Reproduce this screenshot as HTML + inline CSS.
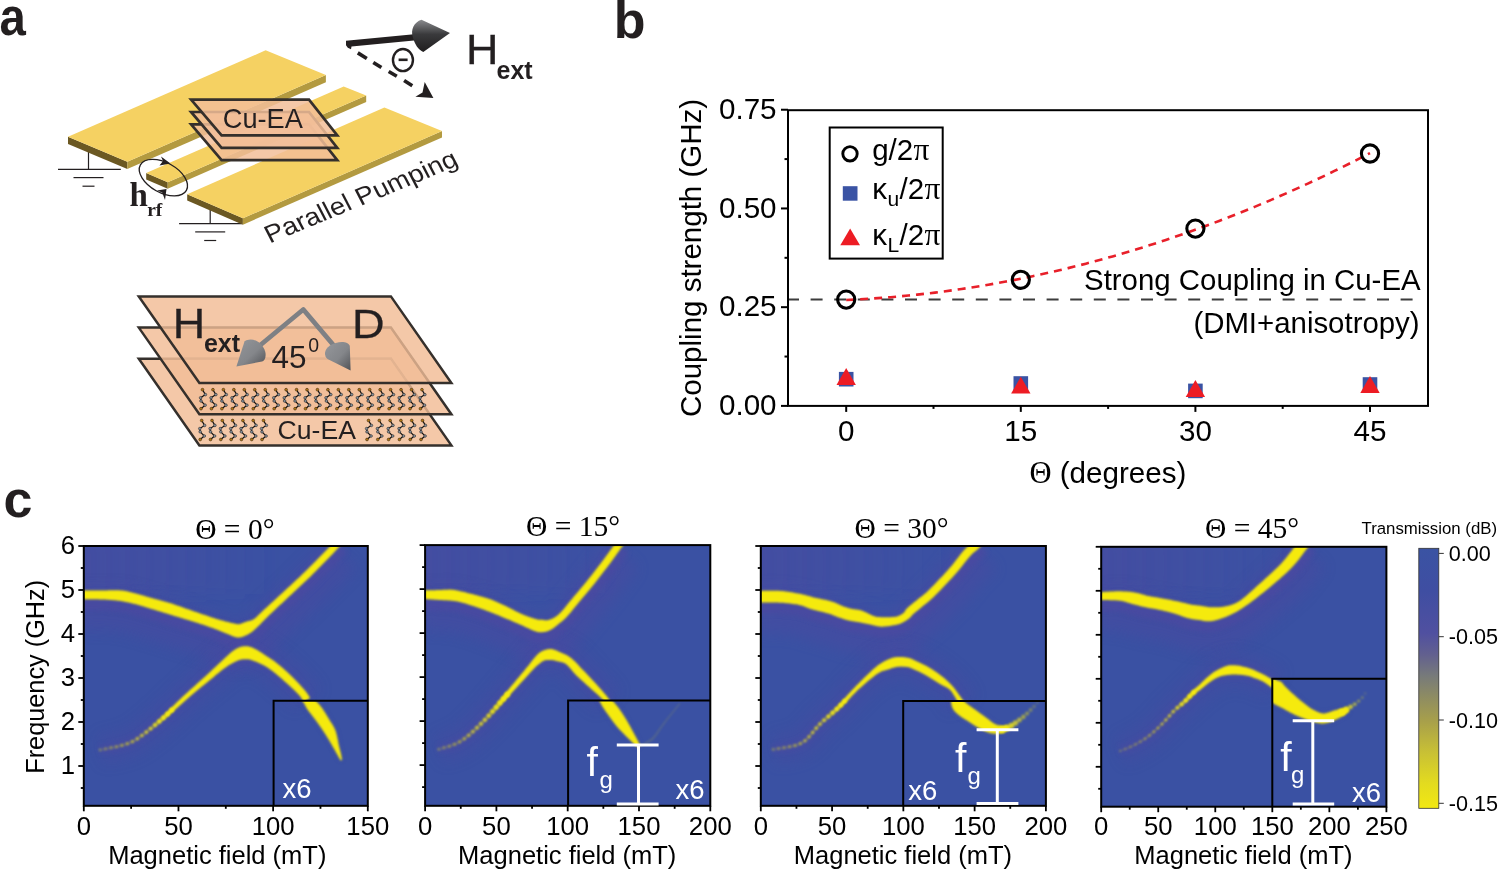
<!DOCTYPE html><html><head><meta charset="utf-8"><style>html,body{margin:0;padding:0;background:#fff;width:1499px;height:871px;overflow:hidden}svg{display:block;position:absolute;left:0;top:0;will-change:transform}text{font-family:"Liberation Sans",sans-serif}.s{font-family:"Liberation Serif",serif}</style></head><body>
<svg width="1499" height="871" viewBox="0 0 1499 871">
<defs><filter id="bl" x="-5%" y="-5%" width="110%" height="110%"><feGaussianBlur stdDeviation="0.8"/></filter><filter id="bl2" x="-10%" y="-10%" width="120%" height="120%"><feGaussianBlur stdDeviation="2.5"/></filter><filter id="bl3" x="-20%" y="-20%" width="140%" height="140%"><feGaussianBlur stdDeviation="7"/></filter><linearGradient id="cb" x1="0" y1="0" x2="0" y2="1"><stop offset="0" stop-color="#3a53a3"/><stop offset="0.163" stop-color="#3f4ea2"/><stop offset="0.326" stop-color="#5050a0"/><stop offset="0.408" stop-color="#62608f"/><stop offset="0.49" stop-color="#777a7a"/><stop offset="0.572" stop-color="#8e8c62"/><stop offset="0.666" stop-color="#a8a04a"/><stop offset="0.783" stop-color="#c8c035"/><stop offset="0.9" stop-color="#e2da20"/><stop offset="1" stop-color="#f2e812"/></linearGradient><linearGradient id="cone1" x1="0" y1="0" x2="0" y2="1"><stop offset="0" stop-color="#8a8b8e"/><stop offset="0.45" stop-color="#3a3a3c"/><stop offset="1" stop-color="#1f1d1e"/></linearGradient><linearGradient id="gcone" x1="0" y1="0" x2="1" y2="1"><stop offset="0" stop-color="#95979b"/><stop offset="0.55" stop-color="#84868a"/><stop offset="1" stop-color="#505256"/></linearGradient></defs>
<text transform="translate(-0.6,34.9) scale(0.91,1)" font-size="52" font-weight="bold" fill="#231f20">a</text>
<text x="613.8" y="37.5" font-size="52" font-weight="bold" fill="#231f20">b</text>
<text x="3.5" y="516.5" font-size="52" font-weight="bold" fill="#231f20">c</text>
<g stroke="#231f20" stroke-width="1.2" fill="none"><line x1="88.5" y1="150" x2="88.5" y2="169.3"/><line x1="58" y1="169.3" x2="120.8" y2="169.3"/><line x1="73.5" y1="177.6" x2="103.5" y2="177.6"/><line x1="82.5" y1="186.2" x2="94.5" y2="186.2"/></g>
<g stroke="#231f20" stroke-width="1.2" fill="none"><line x1="210.2" y1="205" x2="210.2" y2="223.6"/><line x1="179.1" y1="223.6" x2="241.8" y2="223.6"/><line x1="195.2" y1="231.9" x2="225.2" y2="231.9"/><line x1="204.2" y1="240.5" x2="216.2" y2="240.5"/></g>
<polygon points="68,136.8 127.3,161.8 127.3,169 68,144" fill="#6b5822"/>
<polygon points="127.3,161.8 325.9,75.1 325.9,82.3 127.3,169" fill="#b39a40"/>
<polygon points="68,136.8 127.3,161.8 325.9,75.1 265.6,50.3" fill="#f5d162"/>
<polygon points="146.2,173 167.7,182.3 167.7,188.7 146.2,179.4" fill="#6b5822"/>
<polygon points="167.7,182.3 366.2,95.5 366.2,101.9 167.7,188.7" fill="#b39a40"/>
<polygon points="146.2,173 167.7,182.3 366.2,95.5 343.7,86.6" fill="#f5d162"/>
<polygon points="187.2,194.2 242.9,218.3 242.9,224.7 187.2,200.6" fill="#6b5822"/>
<polygon points="242.9,218.3 442,131.1 442,137.5 242.9,224.7" fill="#b39a40"/>
<polygon points="187.2,194.2 242.9,218.3 442,131.1 384.4,107.4" fill="#f5d162"/>
<polygon points="191.1,124.4 309,124.4 337.3,160.2 221.6,160.2" fill="#f2be99" fill-opacity="0.85" stroke="#35302c" stroke-width="2.7" stroke-linejoin="miter"/>
<polygon points="191.1,112 309,112 337.3,147.8 221.6,147.8" fill="#f2be99" fill-opacity="0.85" stroke="#35302c" stroke-width="2.7" stroke-linejoin="miter"/>
<polygon points="191.1,99.6 309,99.6 337.3,135.4 221.6,135.4" fill="#f2be99" fill-opacity="0.85" stroke="#35302c" stroke-width="2.7" stroke-linejoin="miter"/>
<text x="222.8" y="127.7" font-size="27.2" fill="#231f20">Cu-EA</text>
<ellipse cx="163.4" cy="177.6" rx="26.3" ry="15" transform="rotate(29 163.4 177.6)" fill="none" stroke="#231f20" stroke-width="1.3"/>
<polygon points="161,156.5 170.5,163.5 159.5,165.5 163,161" fill="#231f20"/>
<polygon points="157,190.5 166.5,189 165,200 162.2,192.5" fill="#231f20"/>
<text x="129.5" y="205.8" font-size="33" font-weight="bold" fill="#231f20" class="s">h</text>
<text x="147.2" y="215.6" font-size="19.5" font-weight="bold" fill="#231f20" class="s">rf</text>
<text transform="matrix(0.9978,-0.4133,0.4617,0.8870,269.80,243.50)" font-size="25.2" fill="#231f20">Parallel Pumping</text>
<path d="M346,40.8 L414,34.2 L414,40.4 L351.5,46.4 L351,49.2 L347.8,47.8 L346,45.2 Z" fill="#231f20"/>
<path d="M421.5,19.8 C414,22 410.5,30 412.8,37 C414.5,44 418.5,50 423.3,52 L450,33.1 Z" fill="url(#cone1)"/>
<g stroke="#231f20" stroke-width="3.6" stroke-linecap="butt"><line x1="357.8" y1="52.9" x2="366.8" y2="58.5"/><line x1="373.3" y1="62.4" x2="381.4" y2="67.5"/><line x1="388.7" y1="71.5" x2="396.8" y2="76.2"/><line x1="404.1" y1="80.6" x2="412.3" y2="85.8"/></g>
<path d="M424.7,82 L433.4,98 L415.4,96.8 L422.5,92.5 Z" fill="#231f20"/>
<ellipse cx="402.95" cy="60.05" rx="10" ry="11.1" fill="none" stroke="#231f20" stroke-width="2.4"/><rect x="398.6" y="58.5" width="9" height="2.6" fill="#231f20"/>
<text transform="translate(466,63.9) scale(1.07,1)" font-size="42" fill="#231f20" stroke="#231f20" stroke-width="0.3">H</text>
<text x="496.5" y="79.1" font-size="25" font-weight="bold" fill="#231f20">ext</text>
<polygon points="138.8,358.8 390.9,358.8 451.4,445.4 199.4,445.4" fill="#f2be99" fill-opacity="0.85" stroke="#35302c" stroke-width="2.5" stroke-linejoin="miter"/>
<polygon points="138.8,327.6 390.9,327.6 451.4,414.2 199.4,414.2" fill="#f2be99" fill-opacity="0.85" stroke="#35302c" stroke-width="2.5" stroke-linejoin="miter"/>
<polygon points="138.8,296.4 390.9,296.4 451.4,383 199.4,383" fill="#f2be99" fill-opacity="0.85" stroke="#35302c" stroke-width="2.5" stroke-linejoin="miter"/>
<g fill="none" stroke="#35302c" stroke-opacity="0.06" stroke-width="2.5"><polyline points="160.5,327.6 390.9,327.6 451.4,413.8"/><polyline points="181.5,358.4 390.9,358.4 451.4,445"/></g>
<g><polyline points="202.5,389.7 205.4,394.6 200.6,397.8 201,401 205.1,405.2 201,408.7" fill="none" stroke="#111" stroke-width="1.2"/><circle cx="202.5" cy="389.7" r="1.4" fill="#b07818" stroke="#2a1a08" stroke-width="0.5"/><circle cx="205.4" cy="394.6" r="1.35" fill="#86909a" stroke="#1a1a1a" stroke-width="0.5"/><circle cx="200.6" cy="397.8" r="1.35" fill="#86909a" stroke="#1a1a1a" stroke-width="0.5"/><circle cx="201" cy="401" r="1.35" fill="#86909a" stroke="#1a1a1a" stroke-width="0.5"/><circle cx="205.1" cy="405.2" r="1.35" fill="#86909a" stroke="#1a1a1a" stroke-width="0.5"/><circle cx="201" cy="408.7" r="1.4" fill="#b07818" stroke="#2a1a08" stroke-width="0.5"/><polyline points="212.95,389.7 215.85,394.6 211.05,397.8 211.45,401 215.55,405.2 211.45,408.7" fill="none" stroke="#111" stroke-width="1.2"/><circle cx="212.95" cy="389.7" r="1.4" fill="#b07818" stroke="#2a1a08" stroke-width="0.5"/><circle cx="215.85" cy="394.6" r="1.35" fill="#86909a" stroke="#1a1a1a" stroke-width="0.5"/><circle cx="211.05" cy="397.8" r="1.35" fill="#86909a" stroke="#1a1a1a" stroke-width="0.5"/><circle cx="211.45" cy="401" r="1.35" fill="#86909a" stroke="#1a1a1a" stroke-width="0.5"/><circle cx="215.55" cy="405.2" r="1.35" fill="#86909a" stroke="#1a1a1a" stroke-width="0.5"/><circle cx="211.45" cy="408.7" r="1.4" fill="#b07818" stroke="#2a1a08" stroke-width="0.5"/><polyline points="223.4,389.7 226.3,394.6 221.5,397.8 221.9,401 226,405.2 221.9,408.7" fill="none" stroke="#111" stroke-width="1.2"/><circle cx="223.4" cy="389.7" r="1.4" fill="#b07818" stroke="#2a1a08" stroke-width="0.5"/><circle cx="226.3" cy="394.6" r="1.35" fill="#86909a" stroke="#1a1a1a" stroke-width="0.5"/><circle cx="221.5" cy="397.8" r="1.35" fill="#86909a" stroke="#1a1a1a" stroke-width="0.5"/><circle cx="221.9" cy="401" r="1.35" fill="#86909a" stroke="#1a1a1a" stroke-width="0.5"/><circle cx="226" cy="405.2" r="1.35" fill="#86909a" stroke="#1a1a1a" stroke-width="0.5"/><circle cx="221.9" cy="408.7" r="1.4" fill="#b07818" stroke="#2a1a08" stroke-width="0.5"/><polyline points="233.85,389.7 236.75,394.6 231.95,397.8 232.35,401 236.45,405.2 232.35,408.7" fill="none" stroke="#111" stroke-width="1.2"/><circle cx="233.85" cy="389.7" r="1.4" fill="#b07818" stroke="#2a1a08" stroke-width="0.5"/><circle cx="236.75" cy="394.6" r="1.35" fill="#86909a" stroke="#1a1a1a" stroke-width="0.5"/><circle cx="231.95" cy="397.8" r="1.35" fill="#86909a" stroke="#1a1a1a" stroke-width="0.5"/><circle cx="232.35" cy="401" r="1.35" fill="#86909a" stroke="#1a1a1a" stroke-width="0.5"/><circle cx="236.45" cy="405.2" r="1.35" fill="#86909a" stroke="#1a1a1a" stroke-width="0.5"/><circle cx="232.35" cy="408.7" r="1.4" fill="#b07818" stroke="#2a1a08" stroke-width="0.5"/><polyline points="244.3,389.7 247.2,394.6 242.4,397.8 242.8,401 246.9,405.2 242.8,408.7" fill="none" stroke="#111" stroke-width="1.2"/><circle cx="244.3" cy="389.7" r="1.4" fill="#b07818" stroke="#2a1a08" stroke-width="0.5"/><circle cx="247.2" cy="394.6" r="1.35" fill="#86909a" stroke="#1a1a1a" stroke-width="0.5"/><circle cx="242.4" cy="397.8" r="1.35" fill="#86909a" stroke="#1a1a1a" stroke-width="0.5"/><circle cx="242.8" cy="401" r="1.35" fill="#86909a" stroke="#1a1a1a" stroke-width="0.5"/><circle cx="246.9" cy="405.2" r="1.35" fill="#86909a" stroke="#1a1a1a" stroke-width="0.5"/><circle cx="242.8" cy="408.7" r="1.4" fill="#b07818" stroke="#2a1a08" stroke-width="0.5"/><polyline points="254.75,389.7 257.65,394.6 252.85,397.8 253.25,401 257.35,405.2 253.25,408.7" fill="none" stroke="#111" stroke-width="1.2"/><circle cx="254.75" cy="389.7" r="1.4" fill="#b07818" stroke="#2a1a08" stroke-width="0.5"/><circle cx="257.65" cy="394.6" r="1.35" fill="#86909a" stroke="#1a1a1a" stroke-width="0.5"/><circle cx="252.85" cy="397.8" r="1.35" fill="#86909a" stroke="#1a1a1a" stroke-width="0.5"/><circle cx="253.25" cy="401" r="1.35" fill="#86909a" stroke="#1a1a1a" stroke-width="0.5"/><circle cx="257.35" cy="405.2" r="1.35" fill="#86909a" stroke="#1a1a1a" stroke-width="0.5"/><circle cx="253.25" cy="408.7" r="1.4" fill="#b07818" stroke="#2a1a08" stroke-width="0.5"/><polyline points="265.2,389.7 268.1,394.6 263.3,397.8 263.7,401 267.8,405.2 263.7,408.7" fill="none" stroke="#111" stroke-width="1.2"/><circle cx="265.2" cy="389.7" r="1.4" fill="#b07818" stroke="#2a1a08" stroke-width="0.5"/><circle cx="268.1" cy="394.6" r="1.35" fill="#86909a" stroke="#1a1a1a" stroke-width="0.5"/><circle cx="263.3" cy="397.8" r="1.35" fill="#86909a" stroke="#1a1a1a" stroke-width="0.5"/><circle cx="263.7" cy="401" r="1.35" fill="#86909a" stroke="#1a1a1a" stroke-width="0.5"/><circle cx="267.8" cy="405.2" r="1.35" fill="#86909a" stroke="#1a1a1a" stroke-width="0.5"/><circle cx="263.7" cy="408.7" r="1.4" fill="#b07818" stroke="#2a1a08" stroke-width="0.5"/><polyline points="275.65,389.7 278.55,394.6 273.75,397.8 274.15,401 278.25,405.2 274.15,408.7" fill="none" stroke="#111" stroke-width="1.2"/><circle cx="275.65" cy="389.7" r="1.4" fill="#b07818" stroke="#2a1a08" stroke-width="0.5"/><circle cx="278.55" cy="394.6" r="1.35" fill="#86909a" stroke="#1a1a1a" stroke-width="0.5"/><circle cx="273.75" cy="397.8" r="1.35" fill="#86909a" stroke="#1a1a1a" stroke-width="0.5"/><circle cx="274.15" cy="401" r="1.35" fill="#86909a" stroke="#1a1a1a" stroke-width="0.5"/><circle cx="278.25" cy="405.2" r="1.35" fill="#86909a" stroke="#1a1a1a" stroke-width="0.5"/><circle cx="274.15" cy="408.7" r="1.4" fill="#b07818" stroke="#2a1a08" stroke-width="0.5"/><polyline points="286.1,389.7 289,394.6 284.2,397.8 284.6,401 288.7,405.2 284.6,408.7" fill="none" stroke="#111" stroke-width="1.2"/><circle cx="286.1" cy="389.7" r="1.4" fill="#b07818" stroke="#2a1a08" stroke-width="0.5"/><circle cx="289" cy="394.6" r="1.35" fill="#86909a" stroke="#1a1a1a" stroke-width="0.5"/><circle cx="284.2" cy="397.8" r="1.35" fill="#86909a" stroke="#1a1a1a" stroke-width="0.5"/><circle cx="284.6" cy="401" r="1.35" fill="#86909a" stroke="#1a1a1a" stroke-width="0.5"/><circle cx="288.7" cy="405.2" r="1.35" fill="#86909a" stroke="#1a1a1a" stroke-width="0.5"/><circle cx="284.6" cy="408.7" r="1.4" fill="#b07818" stroke="#2a1a08" stroke-width="0.5"/><polyline points="296.55,389.7 299.45,394.6 294.65,397.8 295.05,401 299.15,405.2 295.05,408.7" fill="none" stroke="#111" stroke-width="1.2"/><circle cx="296.55" cy="389.7" r="1.4" fill="#b07818" stroke="#2a1a08" stroke-width="0.5"/><circle cx="299.45" cy="394.6" r="1.35" fill="#86909a" stroke="#1a1a1a" stroke-width="0.5"/><circle cx="294.65" cy="397.8" r="1.35" fill="#86909a" stroke="#1a1a1a" stroke-width="0.5"/><circle cx="295.05" cy="401" r="1.35" fill="#86909a" stroke="#1a1a1a" stroke-width="0.5"/><circle cx="299.15" cy="405.2" r="1.35" fill="#86909a" stroke="#1a1a1a" stroke-width="0.5"/><circle cx="295.05" cy="408.7" r="1.4" fill="#b07818" stroke="#2a1a08" stroke-width="0.5"/><polyline points="307,389.7 309.9,394.6 305.1,397.8 305.5,401 309.6,405.2 305.5,408.7" fill="none" stroke="#111" stroke-width="1.2"/><circle cx="307" cy="389.7" r="1.4" fill="#b07818" stroke="#2a1a08" stroke-width="0.5"/><circle cx="309.9" cy="394.6" r="1.35" fill="#86909a" stroke="#1a1a1a" stroke-width="0.5"/><circle cx="305.1" cy="397.8" r="1.35" fill="#86909a" stroke="#1a1a1a" stroke-width="0.5"/><circle cx="305.5" cy="401" r="1.35" fill="#86909a" stroke="#1a1a1a" stroke-width="0.5"/><circle cx="309.6" cy="405.2" r="1.35" fill="#86909a" stroke="#1a1a1a" stroke-width="0.5"/><circle cx="305.5" cy="408.7" r="1.4" fill="#b07818" stroke="#2a1a08" stroke-width="0.5"/><polyline points="317.45,389.7 320.35,394.6 315.55,397.8 315.95,401 320.05,405.2 315.95,408.7" fill="none" stroke="#111" stroke-width="1.2"/><circle cx="317.45" cy="389.7" r="1.4" fill="#b07818" stroke="#2a1a08" stroke-width="0.5"/><circle cx="320.35" cy="394.6" r="1.35" fill="#86909a" stroke="#1a1a1a" stroke-width="0.5"/><circle cx="315.55" cy="397.8" r="1.35" fill="#86909a" stroke="#1a1a1a" stroke-width="0.5"/><circle cx="315.95" cy="401" r="1.35" fill="#86909a" stroke="#1a1a1a" stroke-width="0.5"/><circle cx="320.05" cy="405.2" r="1.35" fill="#86909a" stroke="#1a1a1a" stroke-width="0.5"/><circle cx="315.95" cy="408.7" r="1.4" fill="#b07818" stroke="#2a1a08" stroke-width="0.5"/><polyline points="327.9,389.7 330.8,394.6 326,397.8 326.4,401 330.5,405.2 326.4,408.7" fill="none" stroke="#111" stroke-width="1.2"/><circle cx="327.9" cy="389.7" r="1.4" fill="#b07818" stroke="#2a1a08" stroke-width="0.5"/><circle cx="330.8" cy="394.6" r="1.35" fill="#86909a" stroke="#1a1a1a" stroke-width="0.5"/><circle cx="326" cy="397.8" r="1.35" fill="#86909a" stroke="#1a1a1a" stroke-width="0.5"/><circle cx="326.4" cy="401" r="1.35" fill="#86909a" stroke="#1a1a1a" stroke-width="0.5"/><circle cx="330.5" cy="405.2" r="1.35" fill="#86909a" stroke="#1a1a1a" stroke-width="0.5"/><circle cx="326.4" cy="408.7" r="1.4" fill="#b07818" stroke="#2a1a08" stroke-width="0.5"/><polyline points="338.35,389.7 341.25,394.6 336.45,397.8 336.85,401 340.95,405.2 336.85,408.7" fill="none" stroke="#111" stroke-width="1.2"/><circle cx="338.35" cy="389.7" r="1.4" fill="#b07818" stroke="#2a1a08" stroke-width="0.5"/><circle cx="341.25" cy="394.6" r="1.35" fill="#86909a" stroke="#1a1a1a" stroke-width="0.5"/><circle cx="336.45" cy="397.8" r="1.35" fill="#86909a" stroke="#1a1a1a" stroke-width="0.5"/><circle cx="336.85" cy="401" r="1.35" fill="#86909a" stroke="#1a1a1a" stroke-width="0.5"/><circle cx="340.95" cy="405.2" r="1.35" fill="#86909a" stroke="#1a1a1a" stroke-width="0.5"/><circle cx="336.85" cy="408.7" r="1.4" fill="#b07818" stroke="#2a1a08" stroke-width="0.5"/><polyline points="348.8,389.7 351.7,394.6 346.9,397.8 347.3,401 351.4,405.2 347.3,408.7" fill="none" stroke="#111" stroke-width="1.2"/><circle cx="348.8" cy="389.7" r="1.4" fill="#b07818" stroke="#2a1a08" stroke-width="0.5"/><circle cx="351.7" cy="394.6" r="1.35" fill="#86909a" stroke="#1a1a1a" stroke-width="0.5"/><circle cx="346.9" cy="397.8" r="1.35" fill="#86909a" stroke="#1a1a1a" stroke-width="0.5"/><circle cx="347.3" cy="401" r="1.35" fill="#86909a" stroke="#1a1a1a" stroke-width="0.5"/><circle cx="351.4" cy="405.2" r="1.35" fill="#86909a" stroke="#1a1a1a" stroke-width="0.5"/><circle cx="347.3" cy="408.7" r="1.4" fill="#b07818" stroke="#2a1a08" stroke-width="0.5"/><polyline points="359.25,389.7 362.15,394.6 357.35,397.8 357.75,401 361.85,405.2 357.75,408.7" fill="none" stroke="#111" stroke-width="1.2"/><circle cx="359.25" cy="389.7" r="1.4" fill="#b07818" stroke="#2a1a08" stroke-width="0.5"/><circle cx="362.15" cy="394.6" r="1.35" fill="#86909a" stroke="#1a1a1a" stroke-width="0.5"/><circle cx="357.35" cy="397.8" r="1.35" fill="#86909a" stroke="#1a1a1a" stroke-width="0.5"/><circle cx="357.75" cy="401" r="1.35" fill="#86909a" stroke="#1a1a1a" stroke-width="0.5"/><circle cx="361.85" cy="405.2" r="1.35" fill="#86909a" stroke="#1a1a1a" stroke-width="0.5"/><circle cx="357.75" cy="408.7" r="1.4" fill="#b07818" stroke="#2a1a08" stroke-width="0.5"/><polyline points="369.7,389.7 372.6,394.6 367.8,397.8 368.2,401 372.3,405.2 368.2,408.7" fill="none" stroke="#111" stroke-width="1.2"/><circle cx="369.7" cy="389.7" r="1.4" fill="#b07818" stroke="#2a1a08" stroke-width="0.5"/><circle cx="372.6" cy="394.6" r="1.35" fill="#86909a" stroke="#1a1a1a" stroke-width="0.5"/><circle cx="367.8" cy="397.8" r="1.35" fill="#86909a" stroke="#1a1a1a" stroke-width="0.5"/><circle cx="368.2" cy="401" r="1.35" fill="#86909a" stroke="#1a1a1a" stroke-width="0.5"/><circle cx="372.3" cy="405.2" r="1.35" fill="#86909a" stroke="#1a1a1a" stroke-width="0.5"/><circle cx="368.2" cy="408.7" r="1.4" fill="#b07818" stroke="#2a1a08" stroke-width="0.5"/><polyline points="380.15,389.7 383.05,394.6 378.25,397.8 378.65,401 382.75,405.2 378.65,408.7" fill="none" stroke="#111" stroke-width="1.2"/><circle cx="380.15" cy="389.7" r="1.4" fill="#b07818" stroke="#2a1a08" stroke-width="0.5"/><circle cx="383.05" cy="394.6" r="1.35" fill="#86909a" stroke="#1a1a1a" stroke-width="0.5"/><circle cx="378.25" cy="397.8" r="1.35" fill="#86909a" stroke="#1a1a1a" stroke-width="0.5"/><circle cx="378.65" cy="401" r="1.35" fill="#86909a" stroke="#1a1a1a" stroke-width="0.5"/><circle cx="382.75" cy="405.2" r="1.35" fill="#86909a" stroke="#1a1a1a" stroke-width="0.5"/><circle cx="378.65" cy="408.7" r="1.4" fill="#b07818" stroke="#2a1a08" stroke-width="0.5"/><polyline points="390.6,389.7 393.5,394.6 388.7,397.8 389.1,401 393.2,405.2 389.1,408.7" fill="none" stroke="#111" stroke-width="1.2"/><circle cx="390.6" cy="389.7" r="1.4" fill="#b07818" stroke="#2a1a08" stroke-width="0.5"/><circle cx="393.5" cy="394.6" r="1.35" fill="#86909a" stroke="#1a1a1a" stroke-width="0.5"/><circle cx="388.7" cy="397.8" r="1.35" fill="#86909a" stroke="#1a1a1a" stroke-width="0.5"/><circle cx="389.1" cy="401" r="1.35" fill="#86909a" stroke="#1a1a1a" stroke-width="0.5"/><circle cx="393.2" cy="405.2" r="1.35" fill="#86909a" stroke="#1a1a1a" stroke-width="0.5"/><circle cx="389.1" cy="408.7" r="1.4" fill="#b07818" stroke="#2a1a08" stroke-width="0.5"/><polyline points="401.05,389.7 403.95,394.6 399.15,397.8 399.55,401 403.65,405.2 399.55,408.7" fill="none" stroke="#111" stroke-width="1.2"/><circle cx="401.05" cy="389.7" r="1.4" fill="#b07818" stroke="#2a1a08" stroke-width="0.5"/><circle cx="403.95" cy="394.6" r="1.35" fill="#86909a" stroke="#1a1a1a" stroke-width="0.5"/><circle cx="399.15" cy="397.8" r="1.35" fill="#86909a" stroke="#1a1a1a" stroke-width="0.5"/><circle cx="399.55" cy="401" r="1.35" fill="#86909a" stroke="#1a1a1a" stroke-width="0.5"/><circle cx="403.65" cy="405.2" r="1.35" fill="#86909a" stroke="#1a1a1a" stroke-width="0.5"/><circle cx="399.55" cy="408.7" r="1.4" fill="#b07818" stroke="#2a1a08" stroke-width="0.5"/><polyline points="411.5,389.7 414.4,394.6 409.6,397.8 410,401 414.1,405.2 410,408.7" fill="none" stroke="#111" stroke-width="1.2"/><circle cx="411.5" cy="389.7" r="1.4" fill="#b07818" stroke="#2a1a08" stroke-width="0.5"/><circle cx="414.4" cy="394.6" r="1.35" fill="#86909a" stroke="#1a1a1a" stroke-width="0.5"/><circle cx="409.6" cy="397.8" r="1.35" fill="#86909a" stroke="#1a1a1a" stroke-width="0.5"/><circle cx="410" cy="401" r="1.35" fill="#86909a" stroke="#1a1a1a" stroke-width="0.5"/><circle cx="414.1" cy="405.2" r="1.35" fill="#86909a" stroke="#1a1a1a" stroke-width="0.5"/><circle cx="410" cy="408.7" r="1.4" fill="#b07818" stroke="#2a1a08" stroke-width="0.5"/><polyline points="421.95,389.7 424.85,394.6 420.05,397.8 420.45,401 424.55,405.2 420.45,408.7" fill="none" stroke="#111" stroke-width="1.2"/><circle cx="421.95" cy="389.7" r="1.4" fill="#b07818" stroke="#2a1a08" stroke-width="0.5"/><circle cx="424.85" cy="394.6" r="1.35" fill="#86909a" stroke="#1a1a1a" stroke-width="0.5"/><circle cx="420.05" cy="397.8" r="1.35" fill="#86909a" stroke="#1a1a1a" stroke-width="0.5"/><circle cx="420.45" cy="401" r="1.35" fill="#86909a" stroke="#1a1a1a" stroke-width="0.5"/><circle cx="424.55" cy="405.2" r="1.35" fill="#86909a" stroke="#1a1a1a" stroke-width="0.5"/><circle cx="420.45" cy="408.7" r="1.4" fill="#b07818" stroke="#2a1a08" stroke-width="0.5"/><polyline points="201.7,420.5 204.6,425.4 199.8,428.6 200.2,431.8 204.3,436 200.2,439.5" fill="none" stroke="#111" stroke-width="1.2"/><circle cx="201.7" cy="420.5" r="1.4" fill="#b07818" stroke="#2a1a08" stroke-width="0.5"/><circle cx="204.6" cy="425.4" r="1.35" fill="#86909a" stroke="#1a1a1a" stroke-width="0.5"/><circle cx="199.8" cy="428.6" r="1.35" fill="#86909a" stroke="#1a1a1a" stroke-width="0.5"/><circle cx="200.2" cy="431.8" r="1.35" fill="#86909a" stroke="#1a1a1a" stroke-width="0.5"/><circle cx="204.3" cy="436" r="1.35" fill="#86909a" stroke="#1a1a1a" stroke-width="0.5"/><circle cx="200.2" cy="439.5" r="1.4" fill="#b07818" stroke="#2a1a08" stroke-width="0.5"/><polyline points="212,420.5 214.9,425.4 210.1,428.6 210.5,431.8 214.6,436 210.5,439.5" fill="none" stroke="#111" stroke-width="1.2"/><circle cx="212" cy="420.5" r="1.4" fill="#b07818" stroke="#2a1a08" stroke-width="0.5"/><circle cx="214.9" cy="425.4" r="1.35" fill="#86909a" stroke="#1a1a1a" stroke-width="0.5"/><circle cx="210.1" cy="428.6" r="1.35" fill="#86909a" stroke="#1a1a1a" stroke-width="0.5"/><circle cx="210.5" cy="431.8" r="1.35" fill="#86909a" stroke="#1a1a1a" stroke-width="0.5"/><circle cx="214.6" cy="436" r="1.35" fill="#86909a" stroke="#1a1a1a" stroke-width="0.5"/><circle cx="210.5" cy="439.5" r="1.4" fill="#b07818" stroke="#2a1a08" stroke-width="0.5"/><polyline points="222.3,420.5 225.2,425.4 220.4,428.6 220.8,431.8 224.9,436 220.8,439.5" fill="none" stroke="#111" stroke-width="1.2"/><circle cx="222.3" cy="420.5" r="1.4" fill="#b07818" stroke="#2a1a08" stroke-width="0.5"/><circle cx="225.2" cy="425.4" r="1.35" fill="#86909a" stroke="#1a1a1a" stroke-width="0.5"/><circle cx="220.4" cy="428.6" r="1.35" fill="#86909a" stroke="#1a1a1a" stroke-width="0.5"/><circle cx="220.8" cy="431.8" r="1.35" fill="#86909a" stroke="#1a1a1a" stroke-width="0.5"/><circle cx="224.9" cy="436" r="1.35" fill="#86909a" stroke="#1a1a1a" stroke-width="0.5"/><circle cx="220.8" cy="439.5" r="1.4" fill="#b07818" stroke="#2a1a08" stroke-width="0.5"/><polyline points="232.6,420.5 235.5,425.4 230.7,428.6 231.1,431.8 235.2,436 231.1,439.5" fill="none" stroke="#111" stroke-width="1.2"/><circle cx="232.6" cy="420.5" r="1.4" fill="#b07818" stroke="#2a1a08" stroke-width="0.5"/><circle cx="235.5" cy="425.4" r="1.35" fill="#86909a" stroke="#1a1a1a" stroke-width="0.5"/><circle cx="230.7" cy="428.6" r="1.35" fill="#86909a" stroke="#1a1a1a" stroke-width="0.5"/><circle cx="231.1" cy="431.8" r="1.35" fill="#86909a" stroke="#1a1a1a" stroke-width="0.5"/><circle cx="235.2" cy="436" r="1.35" fill="#86909a" stroke="#1a1a1a" stroke-width="0.5"/><circle cx="231.1" cy="439.5" r="1.4" fill="#b07818" stroke="#2a1a08" stroke-width="0.5"/><polyline points="242.9,420.5 245.8,425.4 241,428.6 241.4,431.8 245.5,436 241.4,439.5" fill="none" stroke="#111" stroke-width="1.2"/><circle cx="242.9" cy="420.5" r="1.4" fill="#b07818" stroke="#2a1a08" stroke-width="0.5"/><circle cx="245.8" cy="425.4" r="1.35" fill="#86909a" stroke="#1a1a1a" stroke-width="0.5"/><circle cx="241" cy="428.6" r="1.35" fill="#86909a" stroke="#1a1a1a" stroke-width="0.5"/><circle cx="241.4" cy="431.8" r="1.35" fill="#86909a" stroke="#1a1a1a" stroke-width="0.5"/><circle cx="245.5" cy="436" r="1.35" fill="#86909a" stroke="#1a1a1a" stroke-width="0.5"/><circle cx="241.4" cy="439.5" r="1.4" fill="#b07818" stroke="#2a1a08" stroke-width="0.5"/><polyline points="253.2,420.5 256.1,425.4 251.3,428.6 251.7,431.8 255.8,436 251.7,439.5" fill="none" stroke="#111" stroke-width="1.2"/><circle cx="253.2" cy="420.5" r="1.4" fill="#b07818" stroke="#2a1a08" stroke-width="0.5"/><circle cx="256.1" cy="425.4" r="1.35" fill="#86909a" stroke="#1a1a1a" stroke-width="0.5"/><circle cx="251.3" cy="428.6" r="1.35" fill="#86909a" stroke="#1a1a1a" stroke-width="0.5"/><circle cx="251.7" cy="431.8" r="1.35" fill="#86909a" stroke="#1a1a1a" stroke-width="0.5"/><circle cx="255.8" cy="436" r="1.35" fill="#86909a" stroke="#1a1a1a" stroke-width="0.5"/><circle cx="251.7" cy="439.5" r="1.4" fill="#b07818" stroke="#2a1a08" stroke-width="0.5"/><polyline points="263.5,420.5 266.4,425.4 261.6,428.6 262,431.8 266.1,436 262,439.5" fill="none" stroke="#111" stroke-width="1.2"/><circle cx="263.5" cy="420.5" r="1.4" fill="#b07818" stroke="#2a1a08" stroke-width="0.5"/><circle cx="266.4" cy="425.4" r="1.35" fill="#86909a" stroke="#1a1a1a" stroke-width="0.5"/><circle cx="261.6" cy="428.6" r="1.35" fill="#86909a" stroke="#1a1a1a" stroke-width="0.5"/><circle cx="262" cy="431.8" r="1.35" fill="#86909a" stroke="#1a1a1a" stroke-width="0.5"/><circle cx="266.1" cy="436" r="1.35" fill="#86909a" stroke="#1a1a1a" stroke-width="0.5"/><circle cx="262" cy="439.5" r="1.4" fill="#b07818" stroke="#2a1a08" stroke-width="0.5"/><polyline points="368.5,420.5 371.4,425.4 366.6,428.6 367,431.8 371.1,436 367,439.5" fill="none" stroke="#111" stroke-width="1.2"/><circle cx="368.5" cy="420.5" r="1.4" fill="#b07818" stroke="#2a1a08" stroke-width="0.5"/><circle cx="371.4" cy="425.4" r="1.35" fill="#86909a" stroke="#1a1a1a" stroke-width="0.5"/><circle cx="366.6" cy="428.6" r="1.35" fill="#86909a" stroke="#1a1a1a" stroke-width="0.5"/><circle cx="367" cy="431.8" r="1.35" fill="#86909a" stroke="#1a1a1a" stroke-width="0.5"/><circle cx="371.1" cy="436" r="1.35" fill="#86909a" stroke="#1a1a1a" stroke-width="0.5"/><circle cx="367" cy="439.5" r="1.4" fill="#b07818" stroke="#2a1a08" stroke-width="0.5"/><polyline points="379.3,420.5 382.2,425.4 377.4,428.6 377.8,431.8 381.9,436 377.8,439.5" fill="none" stroke="#111" stroke-width="1.2"/><circle cx="379.3" cy="420.5" r="1.4" fill="#b07818" stroke="#2a1a08" stroke-width="0.5"/><circle cx="382.2" cy="425.4" r="1.35" fill="#86909a" stroke="#1a1a1a" stroke-width="0.5"/><circle cx="377.4" cy="428.6" r="1.35" fill="#86909a" stroke="#1a1a1a" stroke-width="0.5"/><circle cx="377.8" cy="431.8" r="1.35" fill="#86909a" stroke="#1a1a1a" stroke-width="0.5"/><circle cx="381.9" cy="436" r="1.35" fill="#86909a" stroke="#1a1a1a" stroke-width="0.5"/><circle cx="377.8" cy="439.5" r="1.4" fill="#b07818" stroke="#2a1a08" stroke-width="0.5"/><polyline points="390.1,420.5 393,425.4 388.2,428.6 388.6,431.8 392.7,436 388.6,439.5" fill="none" stroke="#111" stroke-width="1.2"/><circle cx="390.1" cy="420.5" r="1.4" fill="#b07818" stroke="#2a1a08" stroke-width="0.5"/><circle cx="393" cy="425.4" r="1.35" fill="#86909a" stroke="#1a1a1a" stroke-width="0.5"/><circle cx="388.2" cy="428.6" r="1.35" fill="#86909a" stroke="#1a1a1a" stroke-width="0.5"/><circle cx="388.6" cy="431.8" r="1.35" fill="#86909a" stroke="#1a1a1a" stroke-width="0.5"/><circle cx="392.7" cy="436" r="1.35" fill="#86909a" stroke="#1a1a1a" stroke-width="0.5"/><circle cx="388.6" cy="439.5" r="1.4" fill="#b07818" stroke="#2a1a08" stroke-width="0.5"/><polyline points="400.9,420.5 403.8,425.4 399,428.6 399.4,431.8 403.5,436 399.4,439.5" fill="none" stroke="#111" stroke-width="1.2"/><circle cx="400.9" cy="420.5" r="1.4" fill="#b07818" stroke="#2a1a08" stroke-width="0.5"/><circle cx="403.8" cy="425.4" r="1.35" fill="#86909a" stroke="#1a1a1a" stroke-width="0.5"/><circle cx="399" cy="428.6" r="1.35" fill="#86909a" stroke="#1a1a1a" stroke-width="0.5"/><circle cx="399.4" cy="431.8" r="1.35" fill="#86909a" stroke="#1a1a1a" stroke-width="0.5"/><circle cx="403.5" cy="436" r="1.35" fill="#86909a" stroke="#1a1a1a" stroke-width="0.5"/><circle cx="399.4" cy="439.5" r="1.4" fill="#b07818" stroke="#2a1a08" stroke-width="0.5"/><polyline points="411.7,420.5 414.6,425.4 409.8,428.6 410.2,431.8 414.3,436 410.2,439.5" fill="none" stroke="#111" stroke-width="1.2"/><circle cx="411.7" cy="420.5" r="1.4" fill="#b07818" stroke="#2a1a08" stroke-width="0.5"/><circle cx="414.6" cy="425.4" r="1.35" fill="#86909a" stroke="#1a1a1a" stroke-width="0.5"/><circle cx="409.8" cy="428.6" r="1.35" fill="#86909a" stroke="#1a1a1a" stroke-width="0.5"/><circle cx="410.2" cy="431.8" r="1.35" fill="#86909a" stroke="#1a1a1a" stroke-width="0.5"/><circle cx="414.3" cy="436" r="1.35" fill="#86909a" stroke="#1a1a1a" stroke-width="0.5"/><circle cx="410.2" cy="439.5" r="1.4" fill="#b07818" stroke="#2a1a08" stroke-width="0.5"/><polyline points="422.5,420.5 425.4,425.4 420.6,428.6 421,431.8 425.1,436 421,439.5" fill="none" stroke="#111" stroke-width="1.2"/><circle cx="422.5" cy="420.5" r="1.4" fill="#b07818" stroke="#2a1a08" stroke-width="0.5"/><circle cx="425.4" cy="425.4" r="1.35" fill="#86909a" stroke="#1a1a1a" stroke-width="0.5"/><circle cx="420.6" cy="428.6" r="1.35" fill="#86909a" stroke="#1a1a1a" stroke-width="0.5"/><circle cx="421" cy="431.8" r="1.35" fill="#86909a" stroke="#1a1a1a" stroke-width="0.5"/><circle cx="425.1" cy="436" r="1.35" fill="#86909a" stroke="#1a1a1a" stroke-width="0.5"/><circle cx="421" cy="439.5" r="1.4" fill="#b07818" stroke="#2a1a08" stroke-width="0.5"/></g>
<text x="277.6" y="439" font-size="26.6" fill="#231f20">Cu-EA</text>
<g stroke="#7e8084" stroke-width="4.8" stroke-linecap="round" stroke-linejoin="round" fill="none"><polyline points="258,347 303.3,309.5 335.5,347.5"/></g>
<path d="M236.4,366.6 L244.5,341.5 C250,337 262,340 265.3,352 C266.5,358 264,361 262,361.5 Z" fill="url(#gcone)"/>
<path d="M350.6,370.5 L349.8,346 C348,340.5 337,341 330,345.5 C323.5,350 324,356 327.5,359 Z" fill="url(#gcone)"/>
<text transform="translate(172.8,337.9) scale(1.07,1)" font-size="42" fill="#231f20" stroke="#231f20" stroke-width="0.3">H</text>
<text x="203.9" y="352.1" font-size="25" font-weight="bold" fill="#231f20">ext</text>
<text transform="translate(352,337.9) scale(1.1,1)" font-size="41" fill="#231f20" stroke="#231f20" stroke-width="0.3">D</text>
<text x="271.4" y="367.8" font-size="31.5" fill="#231f20">45</text>
<text x="308.2" y="351.6" font-size="19.5" fill="#231f20">0</text>
<line x1="789" y1="299.6" x2="1419" y2="299.6" stroke="#3c3c3c" stroke-width="2" stroke-dasharray="12 11.6" stroke-dashoffset="2"/>
<polyline points="846.2,299.98 855.08,299.56 863.96,299.07 872.83,298.51 881.71,297.88 890.59,297.18 899.47,296.41 908.35,295.56 917.22,294.65 926.1,293.66 934.98,292.6 943.86,291.47 952.74,290.27 961.61,288.99 970.49,287.65 979.37,286.23 988.25,284.74 997.13,283.18 1006,281.55 1014.88,279.85 1023.76,278.08 1032.64,276.23 1041.52,274.31 1050.39,272.32 1059.27,270.26 1068.15,268.13 1077.03,265.93 1085.91,263.66 1094.78,261.31 1103.66,258.89 1112.54,256.4 1121.42,253.84 1130.29,251.21 1139.17,248.51 1148.05,245.73 1156.93,242.89 1165.81,239.97 1174.68,236.98 1183.56,233.92 1192.44,230.79 1201.32,227.58 1210.2,224.31 1219.07,220.96 1227.95,217.54 1236.83,214.05 1245.71,210.49 1254.59,206.86 1263.46,203.15 1272.34,199.38 1281.22,195.53 1290.1,191.61 1298.98,187.62 1307.85,183.56 1316.73,179.43 1325.61,175.22 1334.49,170.94 1343.37,166.6 1352.24,162.18 1361.12,157.69 1370,153.12" fill="none" stroke="#e8202a" stroke-width="2.6" stroke-dasharray="8 6"/>
<rect x="788" y="110.2" width="640" height="295.7" fill="none" stroke="#000" stroke-width="2"/>
<g stroke="#000" stroke-width="2"><line x1="781" y1="405.9" x2="788" y2="405.9"/><line x1="784.5" y1="356.54" x2="788" y2="356.54"/><line x1="781" y1="307.17" x2="788" y2="307.17"/><line x1="784.5" y1="257.81" x2="788" y2="257.81"/><line x1="781" y1="208.45" x2="788" y2="208.45"/><line x1="784.5" y1="159.09" x2="788" y2="159.09"/><line x1="781" y1="109.73" x2="788" y2="109.73"/><line x1="846.2" y1="405.9" x2="846.2" y2="411.9"/><line x1="933.5" y1="405.9" x2="933.5" y2="408.9"/><line x1="1020.8" y1="405.9" x2="1020.8" y2="411.9"/><line x1="1108.1" y1="405.9" x2="1108.1" y2="408.9"/><line x1="1195.4" y1="405.9" x2="1195.4" y2="411.9"/><line x1="1282.7" y1="405.9" x2="1282.7" y2="408.9"/><line x1="1370" y1="405.9" x2="1370" y2="411.9"/></g>
<text x="776.6" y="415" font-size="29.6" text-anchor="end">0.00</text>
<text x="776.6" y="316.27" font-size="29.6" text-anchor="end">0.25</text>
<text x="776.6" y="217.55" font-size="29.6" text-anchor="end">0.50</text>
<text x="776.6" y="118.83" font-size="29.6" text-anchor="end">0.75</text>
<text x="846.2" y="440.6" font-size="29.6" text-anchor="middle">0</text>
<text x="1020.8" y="440.6" font-size="29.6" text-anchor="middle">15</text>
<text x="1195.4" y="440.6" font-size="29.6" text-anchor="middle">30</text>
<text x="1370" y="440.6" font-size="29.6" text-anchor="middle">45</text>
<text x="1029.5" y="482.7" font-size="29.6"><tspan class="s" font-size="30.5">Θ</tspan> (degrees)</text>
<text transform="translate(700.8,417) rotate(-90)" font-size="29.5">Coupling strength (GHz)</text>
<rect x="838.9" y="371.9" width="14.6" height="14.6" fill="#3a53a4"/>
<polygon points="836.5,384.9 855.9,384.9 846.2,368.1" fill="#ed1c24"/>
<circle cx="846.2" cy="299.6" r="8.6" fill="none" stroke="#000" stroke-width="3.1"/>
<rect x="1013.5" y="376.2" width="14.6" height="14.6" fill="#3a53a4"/>
<polygon points="1011.1,393.6 1030.5,393.6 1020.8,376.8" fill="#ed1c24"/>
<circle cx="1020.8" cy="279.8" r="8.6" fill="none" stroke="#000" stroke-width="3.1"/>
<rect x="1188.1" y="383.6" width="14.6" height="14.6" fill="#3a53a4"/>
<polygon points="1185.7,396.9 1205.1,396.9 1195.4,380.1" fill="#ed1c24"/>
<circle cx="1195.4" cy="228.6" r="8.6" fill="none" stroke="#000" stroke-width="3.1"/>
<rect x="1362.7" y="377.2" width="14.6" height="14.6" fill="#3a53a4"/>
<polygon points="1360.3,392.9 1379.7,392.9 1370,376.1" fill="#ed1c24"/>
<circle cx="1370" cy="153.5" r="8.6" fill="none" stroke="#000" stroke-width="3.1"/>
<rect x="829.7" y="127.5" width="113" height="131.1" fill="#fff" stroke="#000" stroke-width="2"/>
<circle cx="850" cy="153.8" r="7.2" fill="none" stroke="#000" stroke-width="2.9"/>
<rect x="842.8" y="186.2" width="14.7" height="14.5" fill="#3a53a4"/>
<polygon points="840.3,245.3 860,245.3 850.15,228.5" fill="#ed1c24"/>
<text x="872.2" y="159.8" font-size="29.5">g/2<tspan class="s" font-size="31.5" dx="0.3">π</tspan></text>
<text x="872.2" y="199" font-size="29.5">κ<tspan font-size="21" dy="6.8" dx="0.6">u</tspan><tspan dy="-6.8" dx="0.3">/2</tspan><tspan class="s" font-size="31.5" dx="0.4">π</tspan></text>
<text x="872.2" y="244.5" font-size="29.5">κ<tspan font-size="21" dy="7.5" dx="0.6">L</tspan><tspan dy="-7.5" dx="0.3">/2</tspan><tspan class="s" font-size="31.5" dx="0.4">π</tspan></text>
<text x="1420.6" y="290.3" font-size="29.4" text-anchor="end">Strong Coupling in Cu-EA</text>
<text x="1419.6" y="332.8" font-size="29.4" text-anchor="end">(DMI+anisotropy)</text>
<clipPath id="clip0"><rect x="83.8" y="546" width="284" height="259.8"/></clipPath>
<clipPath id="ins0"><rect x="273.6" y="700.7" width="94.2" height="105.1"/></clipPath>
<linearGradient id="fd0" gradientUnits="userSpaceOnUse" x1="100" y1="0" x2="168" y2="0"><stop offset="0" stop-color="#f5ea0c" stop-opacity="0.12"/><stop offset="0.75" stop-color="#f5ea0c" stop-opacity="0.2"/><stop offset="1" stop-color="#f5ea0c" stop-opacity="1"/></linearGradient>
<g clip-path="url(#clip0)">
<rect x="83.8" y="546" width="284" height="259.8" fill="#3a51a3"/>
<linearGradient id="tl0" gradientUnits="userSpaceOnUse" x1="83.8" y1="0" x2="273.8" y2="0"><stop offset="0" stop-color="#4b4aa0" stop-opacity="0.55"/><stop offset="1" stop-color="#4b4aa0" stop-opacity="0"/></linearGradient>
<rect x="73.8" y="536" width="200" height="58" fill="url(#tl0)" filter="url(#bl3)"/>
<path d="M78.04,630.4 L79.13,630.4 L80.51,630.38 L82.1,630.37 L83.87,630.35 L85.79,630.33 L87.81,630.31 L89.9,630.3 L92,630.29 L94.08,630.3 L96.08,630.32 L97.97,630.35 L99.75,630.4 L101.55,630.46 L103.36,630.54 L105.12,630.62 L106.82,630.71 L108.45,630.8 L110.02,630.91 L111.51,631.03 L112.91,631.16 L114.23,631.29 L115.44,631.43 L116.55,631.57 L117.55,631.71 L118.5,631.86 L119.42,632.01 L120.34,632.17 L121.27,632.35 L122.22,632.54 L123.22,632.75 L124.27,632.98 L125.39,633.24 L126.58,633.53 L127.84,633.84 L129.19,634.18 L130.52,634.51 L131.72,634.82 L132.85,635.12 L134.01,635.44 L135.2,635.78 L136.43,636.14 L137.69,636.51 L138.97,636.9 L140.29,637.3 L141.64,637.71 L143.01,638.13 L144.42,638.56 L145.84,638.98 L147.23,639.39 L148.6,639.8 L149.95,640.21 L151.28,640.61 L152.6,641.02 L153.9,641.41 L155.19,641.81 L156.46,642.2 L157.72,642.58 L158.96,642.96 L160.19,643.34 L161.41,643.71 L162.63,644.09 L163.87,644.46 L165.13,644.84 L166.4,645.23 L167.69,645.62 L168.99,646.02 L170.31,646.43 L171.65,646.83 L173,647.25 L174.37,647.66 L175.75,648.09 L177.13,648.51 L178.5,648.93 L179.85,649.33 L181.2,649.74 L182.55,650.14 L183.89,650.54 L185.22,650.94 L186.55,651.34 L187.88,651.75 L189.19,652.15 L190.51,652.56 L191.81,652.97 L193.11,653.39 L194.42,653.82 L195.76,654.26 L197.11,654.71 L198.48,655.17 L199.85,655.63 L201.22,656.1 L202.58,656.57 L203.92,657.04 L205.24,657.5 L206.53,657.96 L207.79,658.41 L208.99,658.85 L210.13,659.28 L211.23,659.7 L212.31,660.12 L213.36,660.54 L214.39,660.95 L215.39,661.36 L216.38,661.76 L217.34,662.16 L218.29,662.55 L219.22,662.93 L220.13,663.3 L221,663.65 L221.79,663.97 L222.55,664.29 L223.31,664.61 L224.08,664.94 L224.85,665.26 L225.64,665.59 L226.45,665.91 L227.28,666.23 L228.15,666.55 L229.07,666.86 L230.06,667.16 L230.85,667.38 L231.15,667.48 L231.24,667.52 L231.55,667.62 L232.27,667.81 L233.55,668.09 L235.42,668.38 L237.71,668.55 L240.05,668.51 L242.14,668.3 L243.84,668.01 L245.17,667.7 L246.39,667.37 L247.67,666.98 L248.93,666.55 L250.08,666.11 L251.16,665.68 L252.2,665.23 L253.2,664.78 L254.18,664.31 L255.14,663.82 L256.07,663.33 L256.98,662.81 L257.87,662.29 L258.66,661.78 L259.31,661.32 L259.93,660.85 L260.63,660.31 L261.4,659.71 L262.24,659.04 L263.15,658.32 L264.11,657.53 L265.12,656.69 L266.17,655.8 L267.25,654.86 L268.36,653.89 L269.49,652.87 L270.62,651.83 L271.69,650.81 L272.67,649.83 L273.56,648.91 L274.37,648.06 L275.11,647.28 L275.82,646.54 L276.52,645.81 L277.25,645.06 L278.04,644.26 L278.91,643.39 L279.94,642.39 L281.18,641.21 L282.59,639.86 L284.13,638.41 L285.78,636.86 L287.51,635.24 L289.31,633.56 L291.15,631.85 L293.02,630.11 L294.89,628.37 L296.75,626.63 L298.57,624.93 L300.33,623.28 L302.04,621.69 L303.74,620.11 L305.45,618.52 L307.18,616.92 L308.92,615.31 L310.67,613.69 L312.43,612.05 L314.2,610.39 L315.98,608.72 L317.77,607.02 L319.57,605.3 L321.37,603.56 L323.21,601.76 L325.1,599.89 L327.03,597.97 L328.97,596.02 L330.9,594.07 L332.81,592.14 L334.66,590.26 L336.44,588.45 L338.12,586.72 L339.69,585.12 L341.11,583.66 L342.39,582.34 L343.54,581.15 L344.58,580.06 L345.48,579.1 L346.28,578.23 L346.98,577.46 L347.58,576.79 L348.1,576.21 L348.53,575.72 L348.89,575.31 L349.21,574.96 L349.52,574.62 L349.9,574.23 L350.35,573.76 L350.85,573.25 L351.37,572.73 L351.89,572.19 L352.42,571.67 L352.95,571.15 L353.45,570.65 L353.94,570.17 L354.39,569.73 L354.81,569.31 L355.2,568.93 L355.52,568.62 L326.48,539.38 L326.23,539.64 L325.91,539.95 L325.52,540.34 L325.06,540.79 L324.54,541.3 L323.98,541.85 L323.38,542.44 L322.76,543.07 L322.11,543.71 L321.45,544.38 L320.79,545.06 L320.1,545.77 L319.42,546.49 L318.79,547.18 L318.22,547.8 L317.72,548.37 L317.27,548.88 L316.84,549.36 L316.4,549.85 L315.91,550.39 L315.34,551.01 L314.65,551.74 L313.82,552.61 L312.81,553.66 L311.58,554.92 L310.18,556.37 L308.64,557.94 L306.99,559.63 L305.26,561.4 L303.46,563.23 L301.61,565.1 L299.76,566.97 L297.9,568.83 L296.08,570.65 L294.32,572.39 L292.63,574.04 L290.99,575.63 L289.34,577.21 L287.68,578.79 L286.01,580.37 L284.32,581.95 L282.63,583.53 L280.93,585.11 L279.21,586.7 L277.49,588.29 L275.75,589.89 L274.01,591.51 L272.27,593.12 L270.52,594.74 L268.72,596.4 L266.87,598.1 L265.01,599.81 L263.13,601.52 L261.28,603.22 L259.46,604.89 L257.69,606.51 L255.99,608.06 L254.38,609.53 L252.87,610.91 L251.46,612.21 L250.13,613.45 L248.9,614.63 L247.82,615.7 L246.86,616.65 L246.03,617.49 L245.33,618.2 L244.75,618.76 L244.28,619.19 L243.92,619.48 L243.64,619.68 L243.39,619.81 L243.11,619.93 L242.8,620.03 L242.49,620.09 L242.19,620.11 L241.88,620.11 L241.55,620.1 L241.18,620.1 L240.77,620.11 L240.29,620.16 L239.75,620.25 L239.13,620.39 L238.43,620.59 L237.74,620.82 L237.16,621.01 L236.65,621.18 L236.13,621.35 L235.62,621.53 L235.14,621.7 L234.69,621.86 L234.29,622 L233.97,622.1 L233.76,622.16 L233.67,622.17 L233.78,622.12 L234.01,622.03 L234.31,621.93 L234.86,621.8 L235.89,621.61 L237.4,621.46 L239.22,621.43 L241,621.56 L242.38,621.77 L243.12,621.93 L243.25,621.97 L242.89,621.89 L242.18,621.74 L241.55,621.62 L241.29,621.6 L241.17,621.61 L240.92,621.59 L240.55,621.55 L240.1,621.48 L239.56,621.39 L238.94,621.26 L238.26,621.12 L237.52,620.96 L236.72,620.77 L235.87,620.57 L235,620.35 L234.16,620.15 L233.31,619.95 L232.43,619.73 L231.52,619.5 L230.57,619.26 L229.58,619 L228.57,618.73 L227.52,618.45 L226.43,618.15 L225.32,617.83 L224.18,617.5 L223.01,617.15 L221.83,616.78 L220.6,616.4 L219.32,615.99 L218.01,615.56 L216.66,615.11 L215.28,614.65 L213.89,614.18 L212.49,613.71 L211.08,613.23 L209.67,612.75 L208.27,612.28 L206.89,611.81 L205.52,611.35 L204.16,610.88 L202.81,610.42 L201.46,609.96 L200.12,609.49 L198.78,609.03 L197.45,608.57 L196.12,608.11 L194.8,607.65 L193.48,607.19 L192.17,606.74 L190.87,606.29 L189.59,605.84 L188.3,605.39 L187,604.93 L185.68,604.46 L184.35,603.98 L183.01,603.5 L181.64,603.02 L180.27,602.55 L178.87,602.07 L177.46,601.6 L176.03,601.14 L174.59,600.69 L173.14,600.25 L171.7,599.83 L170.28,599.43 L168.87,599.05 L167.48,598.67 L166.1,598.31 L164.73,597.96 L163.38,597.61 L162.05,597.26 L160.73,596.92 L159.43,596.57 L158.16,596.22 L156.91,595.87 L155.65,595.51 L154.36,595.13 L153.04,594.74 L151.69,594.34 L150.31,593.94 L148.9,593.52 L147.46,593.11 L145.99,592.69 L144.49,592.27 L142.95,591.86 L141.48,591.49 L140.17,591.15 L138.92,590.82 L137.61,590.47 L136.24,590.1 L134.8,589.73 L133.28,589.35 L131.68,588.98 L129.99,588.62 L128.22,588.28 L126.38,587.97 L124.45,587.7 L122.45,587.49 L120.41,587.33 L118.4,587.23 L116.43,587.19 L114.5,587.18 L112.6,587.21 L110.73,587.26 L108.9,587.33 L107.11,587.4 L105.35,587.47 L103.63,587.53 L101.95,587.58 L100.25,587.6 L98.36,587.61 L96.31,587.61 L94.17,587.62 L92,587.62 L89.83,587.62 L87.69,587.62 L85.63,587.61 L83.68,587.61 L81.9,587.61 L80.33,587.6 L79.01,587.6 L77.96,587.6Z" fill="#4b4aa0" opacity="0.45" filter="url(#bl3)"/>
<path d="M102.85,763.96 L103.87,763.76 L105.18,763.51 L106.79,763.21 L108.64,762.87 L110.65,762.49 L112.79,762.09 L115,761.65 L117.23,761.21 L119.44,760.74 L121.59,760.26 L123.66,759.77 L125.54,759.28 L127.1,758.84 L128.51,758.44 L129.89,758.04 L131.26,757.61 L132.66,757.14 L134.07,756.63 L135.51,756.07 L136.96,755.45 L138.42,754.77 L139.89,754.03 L141.37,753.24 L142.92,752.36 L144.57,751.36 L146.23,750.29 L147.86,749.19 L149.47,748.05 L151.05,746.9 L152.61,745.73 L154.15,744.56 L155.65,743.4 L157.13,742.24 L158.55,741.12 L159.94,740.03 L161.29,738.96 L162.65,737.88 L164,736.79 L165.32,735.71 L166.61,734.64 L167.89,733.57 L169.16,732.49 L170.43,731.4 L171.71,730.29 L173.01,729.16 L174.35,728 L175.72,726.79 L177.16,725.52 L178.7,724.16 L180.28,722.74 L181.88,721.28 L183.5,719.8 L185.14,718.3 L186.79,716.79 L188.44,715.27 L190.1,713.76 L191.75,712.26 L193.39,710.79 L195.02,709.34 L196.64,707.93 L198.29,706.52 L199.99,705.08 L201.72,703.61 L203.48,702.14 L205.26,700.66 L207.05,699.18 L208.84,697.71 L210.63,696.24 L212.39,694.8 L214.13,693.38 L215.84,691.99 L217.5,690.63 L219.14,689.28 L220.75,687.95 L222.32,686.64 L223.86,685.36 L225.35,684.12 L226.81,682.93 L228.22,681.78 L229.58,680.7 L230.89,679.68 L232.14,678.73 L233.33,677.86 L234.48,677.06 L235.63,676.3 L236.76,675.58 L237.84,674.93 L238.87,674.34 L239.85,673.81 L240.77,673.35 L241.64,672.94 L242.44,672.59 L243.18,672.29 L243.84,672.04 L244.44,671.84 L244.98,671.68 L245.43,671.56 L245.78,671.51 L246.02,671.52 L246.15,671.58 L246.19,671.68 L246.15,671.79 L246.06,671.91 L245.96,672.01 L245.87,672.1 L245.83,672.16 L245.88,672.2 L246.02,672.21 L246.15,672.22 L246.12,672.22 L245.96,672.2 L245.69,672.17 L245.36,672.11 L245.04,672.02 L244.77,671.92 L244.6,671.83 L244.56,671.75 L244.67,671.71 L244.94,671.73 L245.27,671.77 L245.63,671.82 L246.13,671.94 L246.81,672.14 L247.63,672.4 L248.53,672.72 L249.5,673.09 L250.51,673.49 L251.54,673.91 L252.56,674.35 L253.57,674.8 L254.55,675.25 L255.48,675.71 L256.36,676.14 L257.15,676.55 L257.85,676.92 L258.46,677.25 L259.01,677.56 L259.51,677.86 L260,678.17 L260.5,678.5 L261.04,678.87 L261.64,679.29 L262.32,679.78 L263.1,680.35 L263.97,681 L264.9,681.72 L265.9,682.51 L266.95,683.35 L268.03,684.23 L269.14,685.15 L270.27,686.1 L271.41,687.06 L272.54,688.04 L273.67,689.02 L274.78,689.99 L275.87,690.95 L276.98,691.94 L278.14,692.98 L279.33,694.06 L280.55,695.17 L281.76,696.29 L282.96,697.41 L284.13,698.51 L285.24,699.58 L286.29,700.6 L287.25,701.55 L288.1,702.42 L288.78,703.12 L289.28,703.67 L289.69,704.16 L290.06,704.63 L290.4,705.1 L290.72,705.56 L291.02,706.01 L291.31,706.48 L291.61,706.97 L291.92,707.49 L292.29,708.09 L292.74,708.82 L293.14,709.4 L320.86,690.6 L320.76,690.45 L320.66,690.3 L320.4,689.9 L320.03,689.31 L319.56,688.57 L318.99,687.7 L318.34,686.73 L317.61,685.67 L316.78,684.55 L315.87,683.35 L314.87,682.11 L313.82,680.88 L312.78,679.69 L311.71,678.5 L310.59,677.26 L309.42,675.99 L308.2,674.69 L306.95,673.36 L305.68,672.03 L304.39,670.7 L303.11,669.39 L301.83,668.1 L300.56,666.85 L299.33,665.65 L298.09,664.48 L296.84,663.3 L295.57,662.13 L294.29,660.97 L293.01,659.83 L291.74,658.71 L290.47,657.61 L289.22,656.55 L288,655.51 L286.8,654.52 L285.63,653.56 L284.5,652.65 L283.41,651.8 L282.36,651 L281.33,650.25 L280.33,649.55 L279.35,648.88 L278.4,648.25 L277.47,647.65 L276.57,647.08 L275.69,646.54 L274.84,646 L273.99,645.46 L273.12,644.89 L272.17,644.27 L271.15,643.59 L270.07,642.87 L268.94,642.12 L267.78,641.36 L266.59,640.59 L265.36,639.81 L264.11,639.05 L262.83,638.3 L261.51,637.58 L260.13,636.87 L258.73,636.23 L257.45,635.69 L256.22,635.21 L254.93,634.75 L253.57,634.33 L252.14,633.96 L250.65,633.65 L249.14,633.42 L247.64,633.27 L246.19,633.21 L244.82,633.21 L243.55,633.28 L242.38,633.39 L241.2,633.54 L239.97,633.75 L238.66,634.03 L237.32,634.38 L235.95,634.8 L234.58,635.3 L233.23,635.86 L231.91,636.47 L230.64,637.13 L229.4,637.83 L228.2,638.56 L227.02,639.32 L225.85,640.13 L224.71,640.98 L223.59,641.86 L222.49,642.77 L221.4,643.7 L220.31,644.66 L219.23,645.65 L218.13,646.66 L217.02,647.69 L215.89,648.74 L214.73,649.82 L213.52,650.94 L212.22,652.12 L210.88,653.36 L209.53,654.61 L208.16,655.89 L206.78,657.18 L205.38,658.5 L203.96,659.82 L202.53,661.16 L201.09,662.51 L199.64,663.86 L198.17,665.22 L196.7,666.57 L195.17,667.97 L193.58,669.41 L191.93,670.89 L190.23,672.4 L188.5,673.94 L186.75,675.51 L184.97,677.09 L183.19,678.68 L181.41,680.28 L179.64,681.88 L177.89,683.48 L176.16,685.07 L174.43,686.67 L172.71,688.29 L171.01,689.91 L169.32,691.53 L167.65,693.13 L166.01,694.71 L164.41,696.26 L162.84,697.78 L161.31,699.24 L159.83,700.65 L158.42,701.99 L157.04,703.28 L155.68,704.53 L154.37,705.74 L153.11,706.9 L151.9,708 L150.73,709.07 L149.59,710.1 L148.47,711.1 L147.35,712.09 L146.23,713.06 L145.1,714.04 L143.94,715.02 L142.71,716.04 L141.4,717.13 L140.04,718.26 L138.7,719.38 L137.35,720.49 L136.03,721.57 L134.72,722.62 L133.46,723.61 L132.23,724.55 L131.07,725.42 L129.99,726.19 L129,726.86 L128.08,727.44 L127.19,727.97 L126.38,728.42 L125.67,728.79 L125.03,729.11 L124.41,729.38 L123.78,729.64 L123.09,729.9 L122.31,730.17 L121.4,730.46 L120.34,730.79 L119.13,731.15 L117.86,731.52 L116.54,731.89 L114.99,732.28 L113.21,732.7 L111.27,733.14 L109.24,733.57 L107.18,734 L105.15,734.42 L103.2,734.81 L101.38,735.18 L99.73,735.51 L98.28,735.8 L97.15,736.04Z" fill="#4b4aa0" opacity="0.35" filter="url(#bl3)"/>
<path d="M78.02,610.4 L79.1,610.4 L80.46,610.38 L82.04,610.37 L83.82,610.35 L85.74,610.33 L87.78,610.31 L89.88,610.3 L92,610.29 L94.1,610.3 L96.15,610.32 L98.08,610.35 L99.89,610.4 L101.66,610.46 L103.44,610.54 L105.18,610.62 L106.9,610.71 L108.58,610.8 L110.21,610.91 L111.8,611.03 L113.34,611.17 L114.83,611.31 L116.24,611.46 L117.59,611.62 L118.87,611.79 L120.1,611.97 L121.29,612.16 L122.46,612.36 L123.62,612.58 L124.77,612.81 L125.93,613.06 L127.11,613.32 L128.32,613.61 L129.55,613.91 L130.83,614.22 L132.16,614.55 L133.48,614.88 L134.75,615.21 L135.99,615.54 L137.25,615.89 L138.52,616.25 L139.8,616.62 L141.1,617.01 L142.41,617.4 L143.73,617.81 L145.07,618.21 L146.42,618.63 L147.79,619.04 L149.16,619.45 L150.52,619.85 L151.87,620.26 L153.2,620.66 L154.53,621.06 L155.85,621.47 L157.17,621.87 L158.48,622.27 L159.78,622.67 L161.07,623.06 L162.36,623.46 L163.65,623.85 L164.93,624.24 L166.21,624.63 L167.5,625.02 L168.8,625.42 L170.11,625.82 L171.42,626.22 L172.75,626.63 L174.08,627.03 L175.42,627.44 L176.77,627.85 L178.12,628.27 L179.48,628.68 L180.84,629.1 L182.2,629.51 L183.54,629.92 L184.89,630.32 L186.23,630.72 L187.58,631.12 L188.91,631.53 L190.25,631.93 L191.58,632.33 L192.92,632.74 L194.24,633.16 L195.57,633.57 L196.89,634 L198.22,634.43 L199.57,634.88 L200.94,635.33 L202.32,635.8 L203.7,636.26 L205.07,636.74 L206.44,637.21 L207.78,637.67 L209.1,638.14 L210.38,638.6 L211.62,639.04 L212.81,639.48 L213.95,639.9 L215.06,640.33 L216.14,640.75 L217.18,641.16 L218.21,641.57 L219.2,641.98 L220.18,642.38 L221.13,642.77 L222.05,643.15 L222.96,643.53 L223.84,643.89 L224.69,644.23 L225.49,644.56 L226.27,644.88 L227.03,645.2 L227.77,645.52 L228.51,645.84 L229.24,646.14 L229.97,646.44 L230.7,646.73 L231.43,647.01 L232.17,647.26 L232.93,647.51 L233.58,647.7 L233.97,647.82 L234.21,647.9 L234.53,648 L235.03,648.13 L235.79,648.3 L236.84,648.47 L238.09,648.56 L239.38,648.53 L240.55,648.41 L241.55,648.23 L242.4,648.03 L243.23,647.79 L244.12,647.51 L245.03,647.2 L245.9,646.87 L246.76,646.51 L247.6,646.15 L248.45,645.76 L249.28,645.35 L250.11,644.93 L250.92,644.49 L251.72,644.03 L252.49,643.56 L253.2,643.1 L253.83,642.64 L254.44,642.18 L255.08,641.67 L255.75,641.12 L256.44,640.53 L257.17,639.91 L257.91,639.25 L258.69,638.56 L259.48,637.84 L260.29,637.09 L261.13,636.31 L261.99,635.5 L262.84,634.69 L263.65,633.89 L264.42,633.12 L265.14,632.36 L265.84,631.63 L266.53,630.9 L267.23,630.16 L267.96,629.39 L268.75,628.58 L269.62,627.7 L270.6,626.74 L271.7,625.66 L272.98,624.44 L274.42,623.08 L275.97,621.61 L277.63,620.05 L279.37,618.43 L281.17,616.75 L283.01,615.03 L284.87,613.3 L286.74,611.56 L288.59,609.83 L290.4,608.14 L292.16,606.5 L293.87,604.9 L295.58,603.3 L297.3,601.71 L299.03,600.11 L300.76,598.51 L302.5,596.9 L304.24,595.28 L305.99,593.65 L307.74,592 L309.49,590.34 L311.24,588.66 L313,586.96 L314.79,585.21 L316.65,583.37 L318.55,581.48 L320.46,579.56 L322.37,577.63 L324.26,575.72 L326.09,573.85 L327.86,572.05 L329.53,570.34 L331.09,568.74 L332.51,567.29 L333.77,565.99 L334.89,564.83 L335.86,563.81 L336.7,562.92 L337.44,562.12 L338.07,561.42 L338.63,560.8 L339.12,560.25 L339.56,559.75 L339.96,559.3 L340.35,558.87 L340.76,558.43 L341.22,557.94 L341.74,557.4 L342.29,556.84 L342.85,556.27 L343.41,555.71 L343.97,555.15 L344.51,554.62 L345.03,554.1 L345.52,553.61 L345.98,553.17 L346.4,552.76 L346.76,552.4 L347.06,552.1 L334.94,539.9 L334.67,540.17 L334.33,540.5 L333.93,540.9 L333.47,541.35 L332.96,541.85 L332.42,542.38 L331.84,542.95 L331.24,543.55 L330.63,544.16 L330.02,544.79 L329.4,545.42 L328.78,546.06 L328.19,546.68 L327.65,547.27 L327.16,547.82 L326.69,548.34 L326.25,548.84 L325.8,549.35 L325.31,549.89 L324.76,550.5 L324.12,551.19 L323.37,551.99 L322.48,552.92 L321.43,554.01 L320.18,555.29 L318.77,556.74 L317.23,558.32 L315.57,560.02 L313.82,561.81 L312,563.65 L310.15,565.54 L308.26,567.43 L306.39,569.32 L304.53,571.16 L302.73,572.94 L301,574.64 L299.31,576.27 L297.62,577.9 L295.92,579.51 L294.22,581.12 L292.51,582.72 L290.8,584.31 L289.08,585.91 L287.36,587.5 L285.64,589.1 L283.91,590.7 L282.17,592.3 L280.44,593.9 L278.69,595.53 L276.87,597.2 L275.02,598.9 L273.15,600.62 L271.28,602.34 L269.42,604.04 L267.6,605.7 L265.84,607.32 L264.15,608.86 L262.55,610.32 L261.06,611.68 L259.7,612.94 L258.44,614.1 L257.32,615.18 L256.31,616.17 L255.42,617.07 L254.62,617.87 L253.91,618.58 L253.28,619.2 L252.7,619.73 L252.18,620.19 L251.67,620.59 L251.16,620.95 L250.61,621.3 L250.03,621.61 L249.45,621.87 L248.88,622.07 L248.31,622.24 L247.74,622.38 L247.16,622.5 L246.56,622.62 L245.94,622.75 L245.29,622.89 L244.62,623.06 L243.9,623.27 L243.2,623.5 L242.54,623.73 L241.91,623.96 L241.28,624.19 L240.65,624.43 L240.03,624.66 L239.44,624.88 L238.88,625.08 L238.38,625.26 L237.93,625.41 L237.57,625.52 L237.33,625.58 L237.17,625.61 L237.08,625.61 L237.15,625.58 L237.49,625.51 L238.07,625.44 L238.83,625.42 L239.58,625.47 L240.13,625.55 L240.36,625.61 L240.27,625.59 L239.92,625.52 L239.37,625.4 L238.82,625.3 L238.42,625.25 L238.07,625.2 L237.64,625.14 L237.14,625.06 L236.57,624.95 L235.96,624.83 L235.28,624.69 L234.57,624.54 L233.81,624.37 L233,624.18 L232.16,623.98 L231.31,623.77 L230.45,623.56 L229.57,623.35 L228.67,623.12 L227.73,622.89 L226.77,622.64 L225.77,622.38 L224.74,622.11 L223.69,621.82 L222.61,621.52 L221.49,621.2 L220.35,620.87 L219.19,620.52 L217.99,620.15 L216.75,619.76 L215.47,619.35 L214.15,618.92 L212.8,618.47 L211.43,618.01 L210.04,617.55 L208.64,617.08 L207.25,616.6 L205.86,616.13 L204.48,615.66 L203.11,615.2 L201.77,614.75 L200.42,614.29 L199.08,613.83 L197.75,613.37 L196.42,612.91 L195.09,612.45 L193.76,611.99 L192.43,611.53 L191.11,611.07 L189.79,610.61 L188.47,610.15 L187.16,609.7 L185.85,609.25 L184.54,608.79 L183.23,608.32 L181.91,607.85 L180.58,607.37 L179.25,606.9 L177.91,606.43 L176.56,605.96 L175.2,605.5 L173.83,605.04 L172.46,604.59 L171.07,604.16 L169.69,603.74 L168.3,603.34 L166.93,602.95 L165.56,602.58 L164.19,602.22 L162.83,601.86 L161.48,601.51 L160.13,601.16 L158.8,600.81 L157.47,600.46 L156.15,600.11 L154.84,599.75 L153.54,599.39 L152.24,599.01 L150.93,598.63 L149.6,598.24 L148.26,597.84 L146.9,597.44 L145.53,597.04 L144.15,596.64 L142.75,596.24 L141.34,595.85 L139.91,595.47 L138.52,595.12 L137.2,594.78 L135.93,594.44 L134.63,594.09 L133.31,593.74 L131.96,593.39 L130.57,593.04 L129.13,592.7 L127.64,592.38 L126.1,592.09 L124.5,591.82 L122.85,591.6 L121.13,591.41 L119.37,591.28 L117.6,591.2 L115.83,591.17 L114.06,591.17 L112.3,591.21 L110.54,591.26 L108.78,591.33 L107.03,591.4 L105.29,591.47 L103.56,591.53 L101.84,591.58 L100.11,591.6 L98.25,591.61 L96.24,591.61 L94.15,591.62 L92,591.62 L89.85,591.62 L87.72,591.62 L85.67,591.61 L83.74,591.61 L81.96,591.61 L80.38,591.6 L79.04,591.6 L77.98,591.6Z" fill="#4b4aa0" opacity="0.7" filter="url(#bl2)"/>
<path d="M100.85,754.16 L101.91,753.96 L103.27,753.7 L104.9,753.4 L106.73,753.05 L108.73,752.68 L110.83,752.28 L112.99,751.86 L115.15,751.42 L117.27,750.98 L119.29,750.53 L121.19,750.08 L122.87,749.64 L124.34,749.23 L125.68,748.85 L126.94,748.48 L128.16,748.1 L129.34,747.71 L130.51,747.29 L131.67,746.84 L132.83,746.34 L134.01,745.79 L135.22,745.19 L136.48,744.52 L137.8,743.77 L139.21,742.92 L140.64,742 L142.09,741.02 L143.56,739.99 L145.02,738.92 L146.49,737.83 L147.96,736.71 L149.41,735.58 L150.85,734.46 L152.26,733.34 L153.64,732.25 L154.99,731.19 L156.32,730.14 L157.61,729.1 L158.87,728.06 L160.12,727.04 L161.35,726 L162.58,724.96 L163.82,723.9 L165.07,722.82 L166.35,721.7 L167.66,720.55 L169.03,719.36 L170.45,718.11 L171.95,716.78 L173.49,715.4 L175.06,713.97 L176.66,712.51 L178.29,711.02 L179.93,709.5 L181.6,707.98 L183.27,706.45 L184.95,704.93 L186.63,703.43 L188.3,701.94 L189.97,700.48 L191.66,699.03 L193.39,697.56 L195.15,696.07 L196.94,694.58 L198.74,693.08 L200.54,691.59 L202.34,690.11 L204.13,688.64 L205.89,687.2 L207.62,685.79 L209.31,684.41 L210.96,683.06 L212.57,681.74 L214.16,680.43 L215.72,679.13 L217.25,677.86 L218.75,676.62 L220.21,675.41 L221.65,674.25 L223.05,673.13 L224.4,672.07 L225.72,671.06 L226.99,670.13 L228.23,669.26 L229.44,668.45 L230.62,667.69 L231.77,666.98 L232.88,666.34 L233.94,665.75 L234.97,665.21 L235.94,664.72 L236.88,664.28 L237.76,663.88 L238.6,663.53 L239.39,663.21 L240.12,662.93 L240.8,662.7 L241.41,662.52 L241.93,662.39 L242.39,662.31 L242.78,662.27 L243.13,662.26 L243.43,662.26 L243.72,662.27 L244.01,662.27 L244.32,662.28 L244.68,662.27 L245.09,662.26 L245.48,662.24 L245.79,662.22 L246.02,662.2 L246.19,662.18 L246.33,662.16 L246.48,662.13 L246.67,662.11 L246.92,662.1 L247.26,662.12 L247.69,662.18 L248.22,662.28 L248.81,662.42 L249.46,662.58 L250.22,662.81 L251.09,663.1 L252.06,663.44 L253.09,663.82 L254.15,664.24 L255.25,664.68 L256.34,665.14 L257.42,665.61 L258.48,666.09 L259.49,666.56 L260.45,667.03 L261.34,667.47 L262.16,667.9 L262.91,668.29 L263.61,668.68 L264.26,669.05 L264.89,669.43 L265.52,669.83 L266.15,670.25 L266.83,670.71 L267.55,671.22 L268.34,671.79 L269.21,672.43 L270.16,673.15 L271.17,673.93 L272.24,674.77 L273.34,675.66 L274.48,676.59 L275.64,677.55 L276.81,678.54 L278,679.55 L279.19,680.56 L280.37,681.59 L281.53,682.61 L282.67,683.62 L283.83,684.65 L285.03,685.74 L286.27,686.86 L287.53,688.01 L288.78,689.17 L290.02,690.33 L291.23,691.48 L292.4,692.6 L293.5,693.67 L294.53,694.69 L295.46,695.64 L296.25,696.48 L296.92,697.23 L297.52,697.94 L298.05,698.62 L298.54,699.29 L298.98,699.92 L299.39,700.54 L299.76,701.12 L300.1,701.69 L300.43,702.24 L300.76,702.78 L301.11,703.33 L301.41,703.79 L312.59,696.21 L312.39,695.93 L312.19,695.61 L311.9,695.15 L311.54,694.58 L311.11,693.92 L310.63,693.18 L310.08,692.36 L309.47,691.48 L308.79,690.55 L308.04,689.57 L307.22,688.55 L306.35,687.52 L305.42,686.46 L304.43,685.36 L303.38,684.19 L302.26,682.97 L301.09,681.72 L299.89,680.44 L298.66,679.15 L297.41,677.86 L296.17,676.59 L294.93,675.34 L293.71,674.14 L292.53,672.98 L291.35,671.86 L290.15,670.73 L288.93,669.61 L287.7,668.49 L286.46,667.39 L285.24,666.31 L284.03,665.26 L282.83,664.24 L281.66,663.25 L280.53,662.31 L279.44,661.41 L278.39,660.57 L277.39,659.78 L276.45,659.07 L275.55,658.41 L274.68,657.8 L273.84,657.22 L273.02,656.68 L272.22,656.16 L271.42,655.66 L270.63,655.16 L269.83,654.65 L269.01,654.13 L268.15,653.57 L267.23,652.96 L266.24,652.3 L265.21,651.61 L264.14,650.9 L263.05,650.17 L261.93,649.44 L260.81,648.72 L259.68,648.01 L258.55,647.34 L257.43,646.7 L256.29,646.11 L255.19,645.58 L254.17,645.14 L253.2,644.74 L252.23,644.38 L251.24,644.05 L250.23,643.77 L249.2,643.55 L248.17,643.37 L247.14,643.26 L246.13,643.21 L245.15,643.21 L244.22,643.26 L243.31,643.34 L242.41,643.47 L241.48,643.64 L240.52,643.86 L239.55,644.13 L238.58,644.45 L237.6,644.83 L236.63,645.26 L235.67,645.74 L234.72,646.26 L233.77,646.82 L232.83,647.42 L231.88,648.07 L230.91,648.76 L229.95,649.49 L229,650.27 L228.05,651.08 L227.09,651.93 L226.12,652.81 L225.14,653.72 L224.13,654.66 L223.1,655.64 L222.03,656.64 L220.93,657.67 L219.77,658.74 L218.56,659.85 L217.3,661.02 L216.01,662.22 L214.7,663.46 L213.35,664.72 L211.97,666.01 L210.57,667.33 L209.15,668.67 L207.7,670.02 L206.23,671.38 L204.74,672.76 L203.24,674.14 L201.69,675.55 L200.09,677 L198.43,678.48 L196.73,680 L195.01,681.54 L193.26,683.1 L191.5,684.67 L189.73,686.25 L187.98,687.82 L186.23,689.4 L184.52,690.96 L182.83,692.52 L181.16,694.07 L179.48,695.65 L177.81,697.24 L176.15,698.83 L174.5,700.42 L172.87,702 L171.26,703.55 L169.68,705.07 L168.13,706.55 L166.63,707.99 L165.16,709.37 L163.75,710.69 L162.37,711.96 L161.05,713.18 L159.78,714.35 L158.55,715.48 L157.35,716.57 L156.17,717.63 L155.01,718.67 L153.85,719.69 L152.68,720.71 L151.49,721.73 L150.27,722.76 L149.01,723.81 L147.69,724.91 L146.34,726.03 L144.97,727.16 L143.59,728.3 L142.22,729.42 L140.84,730.52 L139.49,731.59 L138.15,732.62 L136.84,733.58 L135.58,734.48 L134.36,735.3 L133.2,736.03 L132.09,736.69 L131.05,737.27 L130.08,737.77 L129.15,738.22 L128.25,738.62 L127.34,738.99 L126.4,739.33 L125.41,739.68 L124.34,740.02 L123.18,740.38 L121.9,740.76 L120.53,741.16 L119.01,741.58 L117.28,742.01 L115.38,742.46 L113.35,742.92 L111.25,743.37 L109.14,743.81 L107.08,744.23 L105.1,744.63 L103.27,744.99 L101.64,745.32 L100.24,745.61 L99.15,745.84Z" fill="#4b4aa0" opacity="0.5" filter="url(#bl2)"/>
<path d="M78.01,599.4 L79.08,599.4 L80.43,599.38 L82.02,599.37 L83.8,599.35 L85.73,599.33 L87.76,599.31 L89.87,599.3 L92,599.29 L94.11,599.3 L96.17,599.32 L98.13,599.35 L99.95,599.4 L101.71,599.46 L103.47,599.54 L105.21,599.62 L106.93,599.71 L108.63,599.8 L110.3,599.91 L111.93,600.04 L113.52,600.17 L115.07,600.31 L116.58,600.47 L118.03,600.64 L119.42,600.82 L120.77,601.01 L122.07,601.22 L123.34,601.44 L124.59,601.68 L125.83,601.93 L127.06,602.19 L128.29,602.47 L129.54,602.76 L130.8,603.06 L132.08,603.38 L133.39,603.71 L134.72,604.04 L136.02,604.37 L137.3,604.72 L138.6,605.07 L139.9,605.44 L141.2,605.83 L142.52,606.22 L143.84,606.61 L145.17,607.02 L146.5,607.42 L147.85,607.83 L149.2,608.24 L150.55,608.64 L151.89,609.05 L153.23,609.45 L154.56,609.85 L155.89,610.25 L157.21,610.65 L158.53,611.06 L159.85,611.46 L161.16,611.86 L162.47,612.26 L163.78,612.66 L165.08,613.06 L166.39,613.46 L167.7,613.86 L169.01,614.26 L170.33,614.66 L171.65,615.06 L172.98,615.47 L174.31,615.88 L175.65,616.29 L176.99,616.7 L178.34,617.11 L179.69,617.52 L181.04,617.93 L182.39,618.34 L183.74,618.75 L185.08,619.16 L186.43,619.56 L187.77,619.97 L189.11,620.37 L190.45,620.77 L191.79,621.17 L193.13,621.58 L194.47,621.99 L195.8,622.4 L197.13,622.82 L198.46,623.25 L199.8,623.69 L201.16,624.14 L202.54,624.6 L203.92,625.06 L205.3,625.53 L206.68,626 L208.04,626.47 L209.39,626.94 L210.7,627.4 L211.98,627.86 L213.22,628.31 L214.41,628.74 L215.55,629.16 L216.65,629.59 L217.73,630.01 L218.78,630.42 L219.8,630.83 L220.79,631.24 L221.76,631.64 L222.7,632.03 L223.62,632.41 L224.52,632.77 L225.39,633.13 L226.23,633.47 L227.04,633.8 L227.81,634.12 L228.57,634.45 L229.31,634.76 L230.04,635.07 L230.75,635.37 L231.44,635.66 L232.12,635.94 L232.8,636.2 L233.46,636.43 L234.13,636.65 L234.72,636.83 L235.14,636.95 L235.44,637.05 L235.77,637.15 L236.18,637.27 L236.73,637.39 L237.43,637.5 L238.25,637.56 L239.1,637.54 L239.89,637.45 L240.6,637.32 L241.25,637.16 L241.91,636.97 L242.64,636.74 L243.4,636.47 L244.16,636.18 L244.92,635.86 L245.69,635.53 L246.47,635.17 L247.24,634.79 L248.01,634.39 L248.77,633.97 L249.52,633.54 L250.25,633.09 L250.93,632.64 L251.55,632.2 L252.16,631.73 L252.77,631.23 L253.39,630.71 L254.03,630.16 L254.67,629.58 L255.33,628.97 L256,628.34 L256.69,627.69 L257.39,627.02 L258.12,626.32 L258.86,625.6 L259.6,624.88 L260.31,624.18 L260.98,623.49 L261.63,622.8 L262.28,622.11 L262.95,621.4 L263.65,620.67 L264.4,619.89 L265.21,619.05 L266.12,618.14 L267.13,617.14 L268.27,616.03 L269.57,614.78 L271.01,613.42 L272.57,611.94 L274.23,610.39 L275.97,608.76 L277.77,607.08 L279.61,605.36 L281.48,603.63 L283.34,601.89 L285.19,600.17 L287,598.48 L288.75,596.84 L290.47,595.23 L292.19,593.63 L293.91,592.04 L295.63,590.44 L297.36,588.84 L299.09,587.24 L300.83,585.62 L302.56,584 L304.3,582.37 L306.04,580.72 L307.77,579.06 L309.51,577.38 L311.29,575.64 L313.13,573.82 L315.01,571.94 L316.92,570.03 L318.82,568.12 L320.7,566.21 L322.53,564.35 L324.29,562.56 L325.96,560.85 L327.51,559.25 L328.93,557.8 L330.18,556.51 L331.28,555.37 L332.23,554.38 L333.04,553.51 L333.75,552.74 L334.36,552.07 L334.9,551.47 L335.38,550.93 L335.82,550.43 L336.24,549.96 L336.66,549.5 L337.1,549.01 L337.6,548.49 L338.15,547.92 L338.72,547.34 L339.3,546.75 L339.87,546.17 L340.44,545.61 L340.99,545.06 L341.52,544.54 L342.02,544.05 L342.48,543.6 L342.89,543.2 L343.25,542.84 L343.54,542.55 L338.46,537.45 L338.18,537.72 L337.84,538.06 L337.43,538.46 L336.97,538.91 L336.47,539.41 L335.93,539.94 L335.37,540.5 L334.78,541.08 L334.18,541.68 L333.58,542.29 L332.98,542.9 L332.4,543.51 L331.84,544.1 L331.34,544.64 L330.88,545.16 L330.43,545.65 L329.99,546.16 L329.53,546.68 L329.02,547.25 L328.44,547.88 L327.78,548.6 L327,549.43 L326.09,550.39 L325.02,551.49 L323.77,552.78 L322.35,554.23 L320.8,555.82 L319.14,557.52 L317.39,559.31 L315.57,561.16 L313.7,563.05 L311.81,564.96 L309.92,566.85 L308.06,568.71 L306.24,570.51 L304.49,572.22 L302.78,573.87 L301.07,575.51 L299.36,577.14 L297.64,578.76 L295.93,580.37 L294.21,581.98 L292.48,583.58 L290.76,585.17 L289.03,586.77 L287.3,588.37 L285.58,589.96 L283.85,591.56 L282.09,593.19 L280.27,594.87 L278.42,596.57 L276.55,598.29 L274.67,600.01 L272.81,601.71 L271,603.37 L269.23,604.98 L267.55,606.53 L265.96,607.98 L264.48,609.33 L263.13,610.57 L261.91,611.71 L260.82,612.75 L259.85,613.7 L258.98,614.57 L258.2,615.36 L257.49,616.07 L256.83,616.72 L256.21,617.3 L255.61,617.82 L255.02,618.31 L254.4,618.76 L253.74,619.2 L253.04,619.6 L252.35,619.94 L251.67,620.22 L251,620.46 L250.32,620.66 L249.65,620.84 L248.98,621 L248.3,621.16 L247.61,621.32 L246.9,621.51 L246.18,621.72 L245.47,621.96 L244.78,622.2 L244.11,622.45 L243.42,622.71 L242.74,622.97 L242.07,623.22 L241.42,623.47 L240.8,623.7 L240.21,623.91 L239.67,624.1 L239.2,624.25 L238.81,624.36 L238.49,624.43 L238.23,624.47 L238.1,624.48 L238.15,624.46 L238.36,624.43 L238.67,624.42 L238.99,624.44 L239.19,624.47 L239.21,624.47 L239.03,624.44 L238.68,624.36 L238.2,624.26 L237.68,624.17 L237.22,624.1 L236.78,624.03 L236.27,623.95 L235.71,623.85 L235.11,623.73 L234.45,623.6 L233.76,623.45 L233.03,623.29 L232.26,623.12 L231.46,622.94 L230.62,622.74 L229.77,622.53 L228.9,622.32 L228.02,622.1 L227.1,621.87 L226.16,621.63 L225.18,621.38 L224.18,621.12 L223.15,620.85 L222.1,620.56 L221.01,620.26 L219.9,619.94 L218.76,619.61 L217.59,619.26 L216.39,618.89 L215.15,618.5 L213.86,618.08 L212.54,617.65 L211.19,617.21 L209.82,616.75 L208.44,616.28 L207.04,615.81 L205.65,615.34 L204.27,614.87 L202.89,614.41 L201.54,613.95 L200.2,613.5 L198.87,613.04 L197.53,612.58 L196.2,612.12 L194.87,611.67 L193.55,611.21 L192.22,610.75 L190.9,610.29 L189.57,609.83 L188.25,609.37 L186.93,608.91 L185.61,608.46 L184.29,608 L182.98,607.53 L181.66,607.07 L180.34,606.59 L179.01,606.12 L177.69,605.65 L176.35,605.18 L175.01,604.71 L173.67,604.26 L172.32,603.81 L170.97,603.37 L169.61,602.94 L168.25,602.53 L166.89,602.14 L165.53,601.75 L164.17,601.38 L162.82,601.02 L161.47,600.67 L160.12,600.32 L158.78,599.97 L157.44,599.62 L156.11,599.27 L154.78,598.92 L153.45,598.56 L152.14,598.19 L150.82,597.81 L149.5,597.42 L148.16,597.03 L146.83,596.63 L145.48,596.23 L144.13,595.84 L142.77,595.44 L141.4,595.06 L140.03,594.68 L138.65,594.31 L137.28,593.96 L135.97,593.62 L134.68,593.28 L133.39,592.94 L132.09,592.59 L130.78,592.25 L129.44,591.91 L128.07,591.59 L126.67,591.29 L125.22,591.01 L123.72,590.76 L122.18,590.55 L120.58,590.38 L118.93,590.26 L117.27,590.19 L115.58,590.16 L113.88,590.17 L112.17,590.21 L110.45,590.26 L108.73,590.33 L106.99,590.4 L105.26,590.47 L103.52,590.53 L101.79,590.58 L100.05,590.6 L98.21,590.61 L96.22,590.61 L94.14,590.62 L92,590.62 L89.85,590.62 L87.74,590.62 L85.69,590.61 L83.76,590.61 L81.98,590.61 L80.4,590.6 L79.06,590.6 L77.99,590.6Z" fill="#f5ea0c" filter="url(#bl)"/>
<path d="M100.25,751.22 L101.32,751.01 L102.69,750.75 L104.33,750.45 L106.16,750.11 L108.15,749.74 L110.25,749.34 L112.39,748.92 L114.53,748.49 L116.62,748.05 L118.61,747.61 L120.44,747.17 L122.07,746.75 L123.51,746.35 L124.83,745.98 L126.06,745.61 L127.23,745.25 L128.35,744.88 L129.44,744.49 L130.52,744.07 L131.59,743.61 L132.69,743.1 L133.82,742.53 L135.01,741.9 L136.27,741.19 L137.6,740.39 L138.97,739.51 L140.36,738.57 L141.78,737.57 L143.22,736.53 L144.66,735.45 L146.1,734.35 L147.54,733.24 L148.97,732.12 L150.37,731.01 L151.75,729.92 L153.1,728.86 L154.42,727.82 L155.69,726.79 L156.94,725.77 L158.17,724.75 L159.39,723.73 L160.6,722.7 L161.83,721.65 L163.08,720.58 L164.35,719.47 L165.66,718.32 L167.02,717.13 L168.44,715.88 L169.92,714.57 L171.45,713.2 L173.01,711.78 L174.61,710.32 L176.23,708.83 L177.88,707.32 L179.54,705.79 L181.22,704.26 L182.91,702.73 L184.6,701.22 L186.28,699.72 L187.97,698.25 L189.67,696.79 L191.41,695.3 L193.18,693.81 L194.98,692.31 L196.78,690.81 L198.59,689.31 L200.39,687.83 L202.18,686.36 L203.94,684.92 L205.67,683.51 L207.36,682.13 L209,680.79 L210.6,679.48 L212.18,678.17 L213.74,676.88 L215.26,675.61 L216.77,674.37 L218.24,673.16 L219.68,671.98 L221.08,670.86 L222.46,669.78 L223.79,668.77 L225.09,667.81 L226.35,666.92 L227.58,666.1 L228.78,665.32 L229.95,664.6 L231.08,663.94 L232.17,663.33 L233.22,662.76 L234.24,662.25 L235.21,661.78 L236.14,661.36 L237.03,660.97 L237.87,660.62 L238.67,660.31 L239.42,660.04 L240.1,659.82 L240.71,659.66 L241.26,659.53 L241.76,659.45 L242.22,659.4 L242.64,659.36 L243.05,659.34 L243.45,659.33 L243.87,659.31 L244.32,659.29 L244.81,659.27 L245.28,659.25 L245.69,659.22 L246.03,659.2 L246.34,659.19 L246.63,659.17 L246.92,659.16 L247.24,659.16 L247.62,659.18 L248.07,659.23 L248.59,659.32 L249.2,659.45 L249.87,659.61 L250.61,659.81 L251.44,660.07 L252.38,660.39 L253.39,660.75 L254.45,661.15 L255.55,661.58 L256.67,662.04 L257.78,662.51 L258.88,662.99 L259.95,663.47 L260.98,663.95 L261.94,664.42 L262.84,664.87 L263.67,665.3 L264.43,665.71 L265.15,666.1 L265.84,666.5 L266.5,666.9 L267.17,667.32 L267.85,667.77 L268.56,668.26 L269.32,668.8 L270.15,669.4 L271.05,670.06 L272.02,670.8 L273.06,671.6 L274.14,672.45 L275.26,673.35 L276.41,674.29 L277.59,675.27 L278.78,676.27 L279.98,677.29 L281.18,678.32 L282.37,679.36 L283.55,680.39 L284.71,681.42 L285.88,682.46 L287.1,683.56 L288.35,684.7 L289.62,685.86 L290.89,687.04 L292.14,688.21 L293.37,689.37 L294.55,690.5 L295.67,691.6 L296.71,692.64 L297.66,693.61 L298.5,694.49 L299.22,695.3 L299.87,696.07 L300.45,696.82 L300.98,697.54 L301.46,698.23 L301.89,698.89 L302.29,699.52 L302.65,700.11 L302.98,700.66 L303.3,701.19 L303.62,701.69 L303.9,702.11 L310.1,697.89 L309.88,697.58 L309.64,697.21 L309.34,696.73 L308.99,696.17 L308.58,695.53 L308.12,694.82 L307.6,694.05 L307.03,693.23 L306.39,692.36 L305.69,691.44 L304.93,690.49 L304.1,689.51 L303.22,688.49 L302.25,687.41 L301.21,686.27 L300.11,685.07 L298.96,683.83 L297.77,682.57 L296.55,681.29 L295.32,680.01 L294.09,678.75 L292.86,677.52 L291.66,676.32 L290.49,675.18 L289.33,674.07 L288.14,672.96 L286.93,671.85 L285.72,670.75 L284.5,669.66 L283.29,668.59 L282.09,667.55 L280.91,666.54 L279.76,665.57 L278.65,664.65 L277.58,663.77 L276.55,662.94 L275.59,662.18 L274.68,661.49 L273.81,660.86 L272.99,660.27 L272.19,659.73 L271.41,659.21 L270.64,658.71 L269.88,658.23 L269.11,657.74 L268.33,657.25 L267.51,656.73 L266.66,656.18 L265.74,655.57 L264.77,654.92 L263.75,654.23 L262.7,653.53 L261.63,652.81 L260.54,652.09 L259.44,651.39 L258.35,650.7 L257.27,650.05 L256.2,649.44 L255.14,648.88 L254.13,648.39 L253.19,647.97 L252.3,647.6 L251.42,647.27 L250.54,646.97 L249.66,646.72 L248.77,646.51 L247.88,646.36 L246.99,646.26 L246.11,646.21 L245.25,646.21 L244.42,646.25 L243.59,646.33 L242.77,646.45 L241.93,646.6 L241.08,646.8 L240.23,647.05 L239.37,647.35 L238.51,647.69 L237.65,648.08 L236.8,648.52 L235.94,649 L235.09,649.52 L234.22,650.08 L233.33,650.69 L232.43,651.35 L231.53,652.05 L230.62,652.79 L229.72,653.57 L228.8,654.39 L227.86,655.25 L226.91,656.14 L225.93,657.06 L224.92,658.02 L223.87,659.01 L222.79,660.02 L221.65,661.08 L220.46,662.17 L219.23,663.32 L217.96,664.5 L216.66,665.73 L215.32,666.98 L213.95,668.27 L212.55,669.58 L211.13,670.92 L209.68,672.27 L208.21,673.64 L206.71,675.02 L205.2,676.41 L203.65,677.82 L202.04,679.28 L200.38,680.76 L198.68,682.28 L196.96,683.82 L195.21,685.38 L193.45,686.94 L191.7,688.51 L189.95,690.09 L188.21,691.65 L186.51,693.21 L184.83,694.75 L183.17,696.29 L181.51,697.86 L179.85,699.44 L178.2,701.03 L176.55,702.61 L174.92,704.18 L173.31,705.73 L171.73,707.26 L170.18,708.75 L168.66,710.19 L167.19,711.58 L165.76,712.92 L164.38,714.19 L163.05,715.42 L161.78,716.59 L160.54,717.72 L159.33,718.82 L158.15,719.89 L156.97,720.94 L155.79,721.97 L154.61,723 L153.4,724.04 L152.17,725.08 L150.9,726.14 L149.58,727.24 L148.23,728.36 L146.85,729.5 L145.47,730.64 L144.07,731.78 L142.68,732.9 L141.29,733.99 L139.92,735.04 L138.57,736.03 L137.25,736.97 L135.97,737.83 L134.73,738.61 L133.55,739.31 L132.45,739.92 L131.4,740.47 L130.39,740.95 L129.4,741.39 L128.41,741.79 L127.4,742.17 L126.34,742.53 L125.22,742.89 L124.02,743.26 L122.73,743.64 L121.33,744.05 L119.76,744.48 L117.97,744.93 L116.03,745.39 L113.97,745.85 L111.85,746.31 L109.73,746.75 L107.65,747.17 L105.67,747.57 L103.84,747.94 L102.21,748.27 L100.83,748.55 L99.75,748.78Z" fill="url(#fd0)" filter="url(#bl)"/>
<g fill="#f5ea0c" filter="url(#bl)"><circle cx="100" cy="750" r="1.4" fill-opacity="0.3"/><circle cx="105.5" cy="748.92" r="1.44" fill-opacity="0.33"/><circle cx="110.99" cy="747.84" r="1.48" fill-opacity="0.37"/><circle cx="116.47" cy="746.69" r="1.53" fill-opacity="0.41"/><circle cx="121.9" cy="745.34" r="1.57" fill-opacity="0.46"/><circle cx="127.27" cy="743.73" r="1.61" fill-opacity="0.51"/><circle cx="132.44" cy="741.59" r="1.65" fill-opacity="0.57"/><circle cx="137.28" cy="738.79" r="1.7" fill-opacity="0.62"/><circle cx="141.86" cy="735.56" r="1.78" fill-opacity="0.67"/><circle cx="146.28" cy="732.12" r="1.86" fill-opacity="0.72"/><circle cx="150.64" cy="728.6" r="1.94" fill-opacity="0.78"/><circle cx="154.97" cy="725.06" r="2.01" fill-opacity="0.83"/><circle cx="159.23" cy="721.42" r="2.09" fill-opacity="0.88"/><circle cx="163.42" cy="717.71" r="2.17" fill-opacity="0.94"/><circle cx="167.58" cy="713.96" r="2.25" fill-opacity="0.99"/><circle cx="171.7" cy="710.17" r="2.33" fill-opacity="1"/></g>
</g>
<g clip-path="url(#ins0)">
<path d="M284.6,681.31 L285.32,681.98 L286.25,682.84 L287.35,683.86 L288.59,684.99 L289.93,686.22 L291.32,687.51 L292.73,688.82 L294.11,690.13 L295.43,691.39 L296.64,692.57 L297.7,693.64 L298.57,694.57 L299.26,695.36 L299.85,696.09 L300.34,696.75 L300.76,697.37 L301.11,697.93 L301.41,698.48 L301.69,699.01 L301.96,699.54 L302.24,700.1 L302.55,700.68 L302.89,701.3 L303.26,701.93 L303.62,702.55 L303.96,703.15 L304.28,703.75 L304.59,704.35 L304.9,704.96 L305.21,705.56 L305.53,706.17 L305.85,706.78 L306.18,707.38 L306.53,707.99 L306.89,708.6 L307.29,709.21 L307.7,709.82 L308.11,710.4 L308.52,710.96 L308.92,711.48 L309.32,711.99 L309.71,712.49 L310.1,712.98 L310.49,713.47 L310.9,713.98 L311.31,714.5 L311.74,715.05 L312.19,715.65 L312.68,716.31 L313.21,717.01 L313.76,717.75 L314.34,718.52 L314.93,719.31 L315.54,720.12 L316.15,720.94 L316.76,721.77 L317.38,722.62 L317.99,723.46 L318.59,724.29 L319.18,725.14 L319.78,726 L320.38,726.86 L320.97,727.71 L321.54,728.54 L322.09,729.36 L322.64,730.17 L323.18,730.97 L323.71,731.77 L324.24,732.58 L324.77,733.39 L325.31,734.21 L325.84,735.04 L326.41,735.92 L327.01,736.88 L327.64,737.91 L328.29,738.98 L328.95,740.1 L329.62,741.23 L330.29,742.36 L330.94,743.49 L331.58,744.59 L332.19,745.65 L332.77,746.66 L333.31,747.6 L333.81,748.47 L334.28,749.28 L334.72,750.05 L335.14,750.78 L335.53,751.48 L335.91,752.14 L336.26,752.78 L336.6,753.38 L336.93,753.97 L337.25,754.53 L337.56,755.08 L337.86,755.62 L338.16,756.14 L338.45,756.65 L338.73,757.15 L339,757.64 L339.25,758.1 L339.5,758.55 L339.73,758.96 L339.94,759.35 L340.13,759.71 L340.31,760.02 L340.46,760.3 L340.59,760.54 L342.01,760.06 L341.98,759.81 L341.94,759.5 L341.89,759.14 L341.84,758.74 L341.79,758.3 L341.73,757.82 L341.65,757.3 L341.57,756.76 L341.48,756.2 L341.38,755.61 L341.27,755 L341.14,754.38 L341,753.76 L340.85,753.13 L340.69,752.48 L340.52,751.82 L340.34,751.13 L340.16,750.42 L339.96,749.68 L339.76,748.91 L339.55,748.09 L339.34,747.24 L339.11,746.34 L338.89,745.4 L338.67,744.39 L338.45,743.29 L338.22,742.11 L337.98,740.87 L337.74,739.57 L337.48,738.25 L337.2,736.9 L336.89,735.55 L336.56,734.21 L336.2,732.89 L335.8,731.6 L335.36,730.36 L334.87,729.19 L334.36,728.07 L333.82,727 L333.27,725.98 L332.7,725 L332.12,724.06 L331.55,723.14 L330.98,722.26 L330.41,721.4 L329.87,720.55 L329.34,719.71 L328.82,718.86 L328.28,717.97 L327.73,717.05 L327.18,716.12 L326.62,715.2 L326.05,714.27 L325.49,713.36 L324.93,712.46 L324.37,711.58 L323.82,710.72 L323.28,709.9 L322.74,709.11 L322.21,708.35 L321.68,707.62 L321.17,706.93 L320.67,706.28 L320.19,705.68 L319.72,705.11 L319.27,704.57 L318.83,704.07 L318.4,703.59 L317.98,703.13 L317.56,702.68 L317.14,702.24 L316.71,701.79 L316.26,701.32 L315.8,700.85 L315.32,700.39 L314.84,699.93 L314.35,699.47 L313.85,699 L313.35,698.53 L312.83,698.05 L312.31,697.57 L311.79,697.07 L311.26,696.57 L310.74,696.07 L310.26,695.62 L309.82,695.2 L309.38,694.79 L308.93,694.36 L308.47,693.91 L307.97,693.42 L307.45,692.9 L306.88,692.33 L306.26,691.71 L305.59,691.03 L304.85,690.27 L304.03,689.43 L303.09,688.45 L302,687.32 L300.8,686.06 L299.52,684.72 L298.2,683.32 L296.86,681.91 L295.55,680.53 L294.3,679.21 L293.14,677.98 L292.12,676.89 L291.26,675.98 L290.6,675.29Z" fill="#4b4aa0" opacity="0.6" filter="url(#bl2)"/>
<path d="M284.6,681.31 L285.32,681.98 L286.25,682.84 L287.35,683.86 L288.59,684.99 L289.93,686.22 L291.32,687.51 L292.73,688.82 L294.11,690.13 L295.43,691.39 L296.64,692.57 L297.7,693.64 L298.57,694.57 L299.26,695.36 L299.85,696.09 L300.34,696.75 L300.76,697.37 L301.11,697.93 L301.41,698.48 L301.69,699.01 L301.96,699.54 L302.24,700.1 L302.55,700.68 L302.89,701.3 L303.26,701.93 L303.62,702.55 L303.96,703.15 L304.28,703.75 L304.59,704.35 L304.9,704.96 L305.21,705.56 L305.53,706.17 L305.85,706.78 L306.18,707.38 L306.53,707.99 L306.89,708.6 L307.29,709.21 L307.7,709.82 L308.11,710.4 L308.52,710.96 L308.92,711.48 L309.32,711.99 L309.71,712.49 L310.1,712.98 L310.49,713.47 L310.9,713.98 L311.31,714.5 L311.74,715.05 L312.19,715.65 L312.68,716.31 L313.21,717.01 L313.76,717.75 L314.34,718.52 L314.93,719.31 L315.54,720.12 L316.15,720.94 L316.76,721.77 L317.38,722.62 L317.99,723.46 L318.59,724.29 L319.18,725.14 L319.78,726 L320.38,726.86 L320.97,727.71 L321.54,728.54 L322.09,729.36 L322.64,730.17 L323.18,730.97 L323.71,731.77 L324.24,732.58 L324.77,733.39 L325.31,734.21 L325.84,735.04 L326.41,735.92 L327.01,736.88 L327.64,737.91 L328.29,738.98 L328.95,740.1 L329.62,741.23 L330.29,742.36 L330.94,743.49 L331.58,744.59 L332.19,745.65 L332.77,746.66 L333.31,747.6 L333.81,748.47 L334.28,749.28 L334.72,750.05 L335.14,750.78 L335.53,751.48 L335.91,752.14 L336.26,752.78 L336.6,753.38 L336.93,753.97 L337.25,754.53 L337.56,755.08 L337.86,755.62 L338.16,756.14 L338.45,756.65 L338.73,757.15 L339,757.64 L339.25,758.1 L339.5,758.55 L339.73,758.96 L339.94,759.35 L340.13,759.71 L340.31,760.02 L340.46,760.3 L340.59,760.54 L342.01,760.06 L341.98,759.81 L341.94,759.5 L341.89,759.14 L341.84,758.74 L341.79,758.3 L341.73,757.82 L341.65,757.3 L341.57,756.76 L341.48,756.2 L341.38,755.61 L341.27,755 L341.14,754.38 L341,753.76 L340.85,753.13 L340.69,752.48 L340.52,751.82 L340.34,751.13 L340.16,750.42 L339.96,749.68 L339.76,748.91 L339.55,748.09 L339.34,747.24 L339.11,746.34 L338.89,745.4 L338.67,744.39 L338.45,743.29 L338.22,742.11 L337.98,740.87 L337.74,739.57 L337.48,738.25 L337.2,736.9 L336.89,735.55 L336.56,734.21 L336.2,732.89 L335.8,731.6 L335.36,730.36 L334.87,729.19 L334.36,728.07 L333.82,727 L333.27,725.98 L332.7,725 L332.12,724.06 L331.55,723.14 L330.98,722.26 L330.41,721.4 L329.87,720.55 L329.34,719.71 L328.82,718.86 L328.28,717.97 L327.73,717.05 L327.18,716.12 L326.62,715.2 L326.05,714.27 L325.49,713.36 L324.93,712.46 L324.37,711.58 L323.82,710.72 L323.28,709.9 L322.74,709.11 L322.21,708.35 L321.68,707.62 L321.17,706.93 L320.67,706.28 L320.19,705.68 L319.72,705.11 L319.27,704.57 L318.83,704.07 L318.4,703.59 L317.98,703.13 L317.56,702.68 L317.14,702.24 L316.71,701.79 L316.26,701.32 L315.8,700.85 L315.32,700.39 L314.84,699.93 L314.35,699.47 L313.85,699 L313.35,698.53 L312.83,698.05 L312.31,697.57 L311.79,697.07 L311.26,696.57 L310.74,696.07 L310.26,695.62 L309.82,695.2 L309.38,694.79 L308.93,694.36 L308.47,693.91 L307.97,693.42 L307.45,692.9 L306.88,692.33 L306.26,691.71 L305.59,691.03 L304.85,690.27 L304.03,689.43 L303.09,688.45 L302,687.32 L300.8,686.06 L299.52,684.72 L298.2,683.32 L296.86,681.91 L295.55,680.53 L294.3,679.21 L293.14,677.98 L292.12,676.89 L291.26,675.98 L290.6,675.29Z" fill="#f5ea0c" filter="url(#bl)"/>
</g>
<polyline points="273.6,805.8 273.6,700.7 367.8,700.7" fill="none" stroke="#000" stroke-width="2"/>
<rect x="83.8" y="546" width="284" height="259.8" fill="none" stroke="#000" stroke-width="2"/>
<g stroke="#000" stroke-width="1.8"><line x1="78.3" y1="546" x2="83.8" y2="546"/><line x1="80.8" y1="568" x2="83.8" y2="568"/><line x1="78.3" y1="590" x2="83.8" y2="590"/><line x1="80.8" y1="612" x2="83.8" y2="612"/><line x1="78.3" y1="634" x2="83.8" y2="634"/><line x1="80.8" y1="656" x2="83.8" y2="656"/><line x1="78.3" y1="678" x2="83.8" y2="678"/><line x1="80.8" y1="700" x2="83.8" y2="700"/><line x1="78.3" y1="722" x2="83.8" y2="722"/><line x1="80.8" y1="744" x2="83.8" y2="744"/><line x1="78.3" y1="766" x2="83.8" y2="766"/><line x1="80.8" y1="788" x2="83.8" y2="788"/><line x1="83.8" y1="805.8" x2="83.8" y2="811.3"/><line x1="131.13" y1="805.8" x2="131.13" y2="808.8"/><line x1="178.47" y1="805.8" x2="178.47" y2="811.3"/><line x1="225.8" y1="805.8" x2="225.8" y2="808.8"/><line x1="273.13" y1="805.8" x2="273.13" y2="811.3"/><line x1="320.47" y1="805.8" x2="320.47" y2="808.8"/><line x1="367.8" y1="805.8" x2="367.8" y2="811.3"/></g>
<text x="83.8" y="835" font-size="25.7" text-anchor="middle">0</text>
<text x="178.47" y="835" font-size="25.7" text-anchor="middle">50</text>
<text x="273.13" y="835" font-size="25.7" text-anchor="middle">100</text>
<text x="367.8" y="835" font-size="25.7" text-anchor="middle">150</text>
<text x="108.2" y="863.5" font-size="25.5">Magnetic field (mT)</text>
<text x="195.2" y="538.7" font-size="29.5" class="s">Θ = 0°</text>
<text x="282.5" y="797.8" font-size="27.5" fill="#fff">x6</text>
<clipPath id="clip1"><rect x="425.1" y="545.1" width="285.2" height="260.7"/></clipPath>
<clipPath id="ins1"><rect x="568.1" y="700.6" width="142.2" height="105.2"/></clipPath>
<linearGradient id="fd1" gradientUnits="userSpaceOnUse" x1="438" y1="0" x2="505" y2="0"><stop offset="0" stop-color="#f5ea0c" stop-opacity="0.12"/><stop offset="0.75" stop-color="#f5ea0c" stop-opacity="0.2"/><stop offset="1" stop-color="#f5ea0c" stop-opacity="1"/></linearGradient>
<g clip-path="url(#clip1)">
<rect x="425.1" y="545.1" width="285.2" height="260.7" fill="#3a51a3"/>
<linearGradient id="tl1" gradientUnits="userSpaceOnUse" x1="425.1" y1="0" x2="615.1" y2="0"><stop offset="0" stop-color="#4b4aa0" stop-opacity="0.55"/><stop offset="1" stop-color="#4b4aa0" stop-opacity="0"/></linearGradient>
<rect x="415.1" y="535.1" width="200" height="58" fill="url(#tl1)" filter="url(#bl3)"/>
<path d="M421.09,630.05 L421.38,630.05 L421.73,630.04 L422.03,630.03 L422.33,630.01 L422.63,630 L422.95,629.99 L423.31,629.98 L423.71,629.98 L424.17,629.98 L424.69,629.99 L425.29,630.02 L425.96,630.05 L426.76,630.09 L427.68,630.15 L428.72,630.22 L429.83,630.3 L431.02,630.39 L432.25,630.48 L433.5,630.57 L434.77,630.66 L436.02,630.75 L437.25,630.84 L438.44,630.92 L439.62,631 L440.83,631.06 L442.04,631.12 L443.17,631.17 L444.22,631.22 L445.2,631.26 L446.09,631.31 L446.9,631.36 L447.63,631.41 L448.26,631.46 L448.81,631.51 L449.26,631.56 L449.69,631.61 L450.18,631.67 L450.67,631.72 L451.12,631.76 L451.56,631.8 L452,631.85 L452.46,631.91 L452.97,631.97 L453.54,632.06 L454.18,632.18 L454.89,632.32 L455.69,632.5 L456.53,632.69 L457.35,632.9 L458.18,633.13 L459.08,633.39 L460.03,633.67 L461.03,633.97 L462.05,634.29 L463.1,634.63 L464.17,634.97 L465.25,635.33 L466.33,635.68 L467.42,636.04 L468.51,636.4 L469.6,636.76 L470.69,637.12 L471.75,637.48 L472.8,637.84 L473.83,638.19 L474.83,638.54 L475.82,638.89 L476.79,639.24 L477.74,639.58 L478.67,639.92 L479.58,640.26 L480.48,640.59 L481.38,640.93 L482.31,641.28 L483.25,641.64 L484.21,642.01 L485.19,642.39 L486.19,642.78 L487.21,643.18 L488.25,643.59 L489.3,644.01 L490.37,644.45 L491.46,644.89 L492.53,645.32 L493.55,645.73 L494.57,646.15 L495.65,646.6 L496.75,647.06 L497.88,647.53 L499.03,648.02 L500.19,648.51 L501.36,649.01 L502.52,649.5 L503.67,650 L504.82,650.5 L505.92,650.97 L506.92,651.4 L507.85,651.79 L508.74,652.18 L509.61,652.55 L510.46,652.92 L511.31,653.29 L512.16,653.66 L513.02,654.03 L513.88,654.41 L514.76,654.79 L515.67,655.19 L516.58,655.59 L517.48,656 L518.41,656.44 L519.4,656.91 L520.44,657.4 L521.5,657.9 L522.59,658.41 L523.7,658.93 L524.82,659.43 L525.96,659.93 L527.12,660.42 L528.34,660.89 L529.58,661.33 L530.78,661.72 L531.97,662.07 L533.22,662.39 L534.54,662.69 L535.89,662.93 L537.22,663.1 L538.47,663.22 L539.55,663.28 L540.41,663.29 L541.04,663.29 L541.48,663.28 L541.79,663.25 L542.13,663.21 L542.62,663.17 L543.3,663.11 L544.15,663.03 L545.18,662.92 L546.37,662.77 L547.69,662.56 L549.14,662.28 L550.68,661.92 L552.29,661.47 L553.94,660.93 L555.51,660.31 L556.89,659.69 L558.11,659.07 L559.27,658.42 L560.37,657.75 L561.44,657.07 L562.47,656.37 L563.48,655.66 L564.47,654.94 L565.44,654.22 L566.4,653.48 L567.36,652.75 L568.25,652.05 L569.04,651.42 L569.82,650.81 L570.65,650.17 L571.53,649.47 L572.45,648.73 L573.41,647.94 L574.39,647.1 L575.38,646.22 L576.38,645.28 L577.39,644.31 L578.41,643.28 L579.46,642.17 L580.56,640.96 L581.65,639.73 L582.71,638.49 L583.75,637.24 L584.78,635.99 L585.8,634.74 L586.82,633.48 L587.84,632.21 L588.86,630.95 L589.88,629.69 L590.91,628.43 L591.96,627.16 L593.07,625.83 L594.24,624.44 L595.47,622.98 L596.74,621.48 L598.05,619.93 L599.39,618.34 L600.75,616.71 L602.13,615.06 L603.52,613.39 L604.92,611.7 L606.31,609.99 L607.69,608.28 L609.06,606.56 L610.44,604.82 L611.83,603.05 L613.22,601.26 L614.61,599.47 L615.98,597.68 L617.34,595.91 L618.67,594.17 L619.97,592.46 L621.23,590.8 L622.44,589.19 L623.61,587.64 L624.77,586.08 L625.91,584.53 L627.02,583 L628.1,581.52 L629.13,580.08 L630.11,578.71 L631.04,577.4 L631.91,576.18 L632.72,575.04 L633.46,574.02 L634.11,573.12 L634.67,572.36 L635.15,571.71 L635.57,571.16 L635.92,570.71 L636.21,570.35 L636.44,570.06 L636.64,569.82 L636.81,569.62 L636.98,569.42 L637.18,569.19 L637.44,568.88 L637.78,568.48 L638.06,568.13 L605.94,541.87 L605.87,541.94 L605.85,541.97 L605.71,542.13 L605.47,542.42 L605.14,542.8 L604.74,543.28 L604.29,543.82 L603.79,544.44 L603.25,545.12 L602.66,545.88 L602.03,546.71 L601.33,547.64 L600.58,548.66 L599.79,549.75 L598.97,550.89 L598.12,552.08 L597.24,553.32 L596.33,554.61 L595.39,555.92 L594.42,557.27 L593.44,558.63 L592.44,560 L591.42,561.38 L590.39,562.76 L589.29,564.22 L588.12,565.77 L586.91,567.37 L585.66,569.02 L584.38,570.7 L583.08,572.39 L581.77,574.1 L580.45,575.8 L579.13,577.48 L577.83,579.14 L576.55,580.76 L575.31,582.32 L574.08,583.84 L572.83,585.38 L571.55,586.93 L570.25,588.49 L568.95,590.05 L567.64,591.61 L566.33,593.16 L565.03,594.7 L563.75,596.22 L562.49,597.72 L561.25,599.19 L560.04,600.64 L558.85,602.08 L557.69,603.5 L556.58,604.87 L555.53,606.19 L554.52,607.44 L553.57,608.63 L552.67,609.73 L551.82,610.76 L551.05,611.69 L550.34,612.51 L549.71,613.22 L549.14,613.83 L548.6,614.39 L548.12,614.89 L547.7,615.3 L547.34,615.64 L547.03,615.92 L546.74,616.17 L546.45,616.4 L546.14,616.63 L545.79,616.87 L545.38,617.14 L544.88,617.45 L544.35,617.75 L543.89,617.98 L543.47,618.16 L543.04,618.31 L542.62,618.43 L542.21,618.53 L541.83,618.6 L541.48,618.64 L541.18,618.65 L540.95,618.62 L540.8,618.55 L540.74,618.45 L540.89,618.29 L541.27,618.06 L541.76,617.82 L542.24,617.61 L542.68,617.44 L543.05,617.29 L543.32,617.17 L543.47,617.07 L543.47,616.99 L543.31,616.91 L542.98,616.85 L542.47,616.79 L541.81,616.75 L541.17,616.73 L540.73,616.72 L540.54,616.72 L540.62,616.73 L540.92,616.76 L541.38,616.82 L541.89,616.91 L542.37,617.02 L542.73,617.13 L542.92,617.21 L542.94,617.26 L542.82,617.27 L542.58,617.25 L542.16,617.17 L541.57,617.02 L540.85,616.83 L540.03,616.6 L539.15,616.34 L538.21,616.05 L537.25,615.74 L536.28,615.41 L535.3,615.08 L534.33,614.74 L533.42,614.41 L532.61,614.1 L531.87,613.82 L531.15,613.53 L530.45,613.25 L529.76,612.95 L529.06,612.65 L528.35,612.33 L527.61,612 L526.84,611.64 L526.03,611.26 L525.16,610.85 L524.28,610.43 L523.39,610 L522.46,609.54 L521.47,609.03 L520.42,608.49 L519.33,607.92 L518.19,607.33 L517.02,606.73 L515.82,606.11 L514.6,605.49 L513.36,604.88 L512.1,604.26 L510.87,603.68 L509.71,603.14 L508.58,602.61 L507.44,602.08 L506.28,601.55 L505.1,601.02 L503.91,600.48 L502.69,599.95 L501.46,599.43 L500.21,598.91 L498.94,598.4 L497.64,597.9 L496.32,597.41 L494.99,596.94 L493.68,596.49 L492.37,596.07 L491.09,595.67 L489.82,595.29 L488.57,594.93 L487.34,594.58 L486.13,594.25 L484.94,593.93 L483.77,593.62 L482.63,593.31 L481.49,593 L480.33,592.69 L479.14,592.37 L477.93,592.05 L476.71,591.73 L475.47,591.41 L474.22,591.09 L472.98,590.78 L471.74,590.47 L470.5,590.17 L469.26,589.87 L468.04,589.58 L466.87,589.31 L465.82,589.06 L464.83,588.82 L463.84,588.58 L462.83,588.34 L461.8,588.09 L460.74,587.86 L459.64,587.63 L458.52,587.42 L457.36,587.22 L456.19,587.05 L454.99,586.91 L453.71,586.79 L452.32,586.7 L450.94,586.64 L449.62,586.62 L448.37,586.63 L447.19,586.66 L446.07,586.7 L445.01,586.76 L444,586.81 L443.04,586.87 L442.13,586.92 L441.27,586.97 L440.38,587 L439.36,587.03 L438.22,587.06 L437.01,587.1 L435.77,587.13 L434.51,587.17 L433.25,587.2 L432.01,587.23 L430.8,587.26 L429.65,587.29 L428.56,587.32 L427.55,587.34 L426.64,587.35 L425.81,587.36 L425.04,587.37 L424.35,587.37 L423.72,587.38 L423.15,587.37 L422.64,587.37 L422.18,587.37 L421.8,587.36 L421.48,587.36 L421.23,587.36 L421.07,587.35 L420.91,587.35Z" fill="#4b4aa0" opacity="0.45" filter="url(#bl3)"/>
<path d="M443.14,762.91 L443.95,762.64 L444.98,762.35 L446.43,761.95 L448.19,761.47 L450.21,760.9 L452.41,760.25 L454.78,759.5 L457.26,758.65 L459.84,757.68 L462.48,756.56 L465.17,755.27 L467.78,753.82 L470.14,752.35 L472.34,750.86 L474.49,749.32 L476.59,747.71 L478.64,746.06 L480.66,744.36 L482.66,742.62 L484.63,740.84 L486.6,739.02 L488.57,737.16 L490.54,735.27 L492.57,733.3 L494.72,731.17 L496.92,728.89 L499.13,726.55 L501.35,724.14 L503.57,721.7 L505.78,719.23 L507.97,716.76 L510.14,714.32 L512.27,711.91 L514.35,709.57 L516.36,707.31 L518.33,705.13 L520.33,702.93 L522.38,700.66 L524.45,698.38 L526.51,696.09 L528.55,693.83 L530.55,691.61 L532.48,689.47 L534.33,687.42 L536.08,685.49 L537.71,683.7 L539.2,682.08 L540.54,680.64 L541.74,679.36 L542.78,678.24 L543.67,677.29 L544.42,676.5 L545.06,675.84 L545.58,675.32 L546.01,674.92 L546.36,674.62 L546.67,674.37 L546.99,674.12 L547.37,673.84 L547.88,673.44 L548.48,672.95 L549.07,672.5 L549.6,672.11 L550.06,671.8 L550.45,671.57 L550.77,671.43 L551,671.36 L551.14,671.36 L551.19,671.44 L551.14,671.58 L550.99,671.76 L550.79,671.95 L550.6,672.12 L550.46,672.26 L550.34,672.38 L550.24,672.5 L550.16,672.6 L550.1,672.68 L550.05,672.76 L550.02,672.82 L550,672.87 L549.99,672.91 L549.99,672.93 L549.91,672.94 L549.65,672.91 L549.32,672.85 L549.05,672.77 L548.86,672.67 L548.79,672.59 L548.84,672.54 L549.04,672.52 L549.37,672.56 L549.84,672.64 L550.44,672.78 L551.15,672.97 L552.07,673.23 L553.17,673.54 L554.24,673.8 L555.14,674 L555.9,674.15 L556.52,674.27 L557.02,674.36 L557.41,674.42 L557.71,674.47 L557.91,674.49 L558.05,674.5 L558.13,674.5 L558.19,674.5 L558.32,674.6 L558.61,674.86 L559.02,675.3 L559.55,675.89 L560.19,676.63 L560.91,677.5 L561.72,678.48 L562.62,679.56 L563.6,680.72 L564.68,681.95 L565.87,683.24 L567.1,684.49 L568.29,685.66 L569.49,686.79 L570.72,687.94 L571.98,689.1 L573.26,690.26 L574.54,691.41 L575.81,692.55 L577.06,693.67 L578.27,694.75 L579.44,695.79 L580.54,696.77 L581.57,697.71 L582.58,698.62 L583.58,699.51 L584.54,700.37 L585.47,701.19 L586.35,701.98 L587.21,702.73 L588.01,703.45 L588.78,704.13 L589.49,704.78 L590.16,705.39 L590.78,705.96 L591.32,706.48 L591.79,706.94 L592.23,707.39 L592.66,707.84 L593.07,708.29 L593.47,708.74 L593.84,709.18 L594.21,709.62 L594.56,710.05 L594.9,710.47 L595.25,710.9 L595.61,711.35 L595.92,711.72 L620.08,692.28 L619.92,692.08 L619.75,691.84 L619.48,691.47 L619.14,691 L618.73,690.46 L618.27,689.84 L617.75,689.16 L617.19,688.43 L616.58,687.66 L615.92,686.84 L615.21,685.99 L614.48,685.12 L613.75,684.28 L613.03,683.45 L612.29,682.6 L611.54,681.75 L610.77,680.88 L609.98,679.99 L609.18,679.09 L608.35,678.17 L607.5,677.23 L606.64,676.28 L605.75,675.3 L604.83,674.29 L603.83,673.21 L602.78,672.07 L601.68,670.89 L600.55,669.67 L599.4,668.44 L598.24,667.2 L597.08,665.96 L595.92,664.74 L594.79,663.54 L593.69,662.39 L592.64,661.29 L591.7,660.31 L590.89,659.46 L590.08,658.61 L589.23,657.7 L588.33,656.74 L587.37,655.72 L586.35,654.65 L585.28,653.54 L584.13,652.37 L582.89,651.16 L581.54,649.9 L580.05,648.61 L578.41,647.3 L576.68,646.06 L574.96,644.96 L573.29,644 L571.69,643.17 L570.19,642.46 L568.81,641.85 L567.57,641.34 L566.48,640.9 L565.57,640.53 L564.84,640.22 L564.34,639.98 L563.93,639.77 L563.41,639.51 L562.77,639.19 L562.06,638.86 L561.28,638.49 L560.41,638.11 L559.42,637.72 L558.32,637.33 L557.09,636.96 L555.74,636.63 L554.3,636.36 L552.78,636.16 L551.29,636.06 L549.95,636.05 L548.68,636.09 L547.39,636.2 L546.08,636.37 L544.76,636.59 L543.43,636.88 L542.08,637.23 L540.72,637.65 L539.35,638.14 L537.98,638.7 L536.61,639.33 L535.21,640.05 L533.83,640.86 L532.53,641.72 L531.34,642.6 L530.28,643.48 L529.31,644.35 L528.44,645.19 L527.66,646 L526.94,646.77 L526.29,647.51 L525.68,648.22 L525.11,648.89 L524.52,649.56 L523.9,650.28 L523.27,651.01 L522.66,651.73 L522.08,652.45 L521.52,653.15 L520.98,653.85 L520.44,654.56 L519.85,655.33 L519.19,656.17 L518.43,657.14 L517.53,658.25 L516.46,659.56 L515.18,661.11 L513.75,662.84 L512.18,664.73 L510.51,666.75 L508.74,668.87 L506.89,671.09 L504.99,673.36 L503.05,675.67 L501.09,678 L499.13,680.32 L497.19,682.61 L495.27,684.87 L493.3,687.18 L491.27,689.58 L489.22,692.01 L487.16,694.47 L485.08,696.92 L483.02,699.36 L480.97,701.75 L478.95,704.07 L476.97,706.31 L475.06,708.44 L473.22,710.43 L471.43,712.3 L469.63,714.14 L467.84,715.95 L466.11,717.67 L464.44,719.31 L462.82,720.86 L461.25,722.31 L459.73,723.67 L458.25,724.94 L456.81,726.1 L455.42,727.18 L454.06,728.15 L452.82,728.98 L451.67,729.66 L450.38,730.32 L448.9,730.99 L447.27,731.65 L445.54,732.28 L443.77,732.88 L442,733.44 L440.26,733.97 L438.57,734.47 L436.94,734.95 L435.34,735.45 L434.06,735.89Z" fill="#4b4aa0" opacity="0.35" filter="url(#bl3)"/>
<path d="M421.04,610.05 L421.3,610.05 L421.59,610.04 L421.88,610.03 L422.18,610.01 L422.5,610 L422.86,609.99 L423.26,609.98 L423.71,609.98 L424.22,609.98 L424.79,609.99 L425.43,610.02 L426.15,610.05 L426.98,610.1 L427.93,610.15 L428.98,610.22 L430.1,610.3 L431.29,610.39 L432.53,610.48 L433.78,610.57 L435.04,610.66 L436.3,610.76 L437.52,610.84 L438.69,610.92 L439.83,611 L440.95,611.06 L442.06,611.12 L443.13,611.17 L444.16,611.22 L445.15,611.26 L446.09,611.31 L446.98,611.36 L447.83,611.41 L448.63,611.46 L449.38,611.52 L450.08,611.59 L450.76,611.66 L451.46,611.73 L452.14,611.81 L452.79,611.88 L453.42,611.95 L454.04,612.03 L454.68,612.11 L455.34,612.21 L456.03,612.33 L456.77,612.46 L457.57,612.62 L458.42,612.81 L459.31,613.02 L460.22,613.25 L461.16,613.5 L462.15,613.78 L463.17,614.09 L464.23,614.41 L465.31,614.74 L466.4,615.09 L467.51,615.45 L468.62,615.81 L469.74,616.18 L470.85,616.54 L471.95,616.9 L473.05,617.26 L474.14,617.63 L475.23,618 L476.31,618.36 L477.38,618.73 L478.44,619.1 L479.49,619.47 L480.53,619.84 L481.56,620.21 L482.59,620.58 L483.6,620.95 L484.61,621.33 L485.62,621.71 L486.65,622.09 L487.68,622.48 L488.72,622.89 L489.77,623.29 L490.83,623.71 L491.9,624.13 L492.98,624.56 L494.06,625 L495.16,625.44 L496.27,625.89 L497.37,626.34 L498.45,626.78 L499.55,627.23 L500.67,627.7 L501.82,628.18 L502.98,628.67 L504.15,629.16 L505.31,629.66 L506.47,630.15 L507.61,630.64 L508.73,631.12 L509.82,631.59 L510.87,632.04 L511.85,632.45 L512.76,632.84 L513.63,633.22 L514.48,633.58 L515.3,633.94 L516.12,634.29 L516.92,634.64 L517.73,634.99 L518.55,635.35 L519.39,635.72 L520.24,636.1 L521.12,636.49 L522.01,636.89 L522.95,637.33 L523.92,637.79 L524.93,638.27 L525.95,638.76 L526.98,639.25 L528.02,639.73 L529.04,640.2 L530.06,640.66 L531.06,641.08 L532.06,641.48 L533.03,641.83 L533.95,642.14 L534.82,642.41 L535.69,642.65 L536.57,642.86 L537.44,643.03 L538.3,643.15 L539.1,643.23 L539.82,643.28 L540.44,643.29 L540.96,643.29 L541.4,643.28 L541.8,643.25 L542.22,643.21 L542.72,643.17 L543.3,643.11 L543.98,643.03 L544.73,642.93 L545.57,642.79 L546.47,642.62 L547.43,642.41 L548.44,642.14 L549.48,641.81 L550.54,641.42 L551.57,640.98 L552.51,640.52 L553.39,640.03 L554.25,639.52 L555.09,638.98 L555.91,638.42 L556.72,637.84 L557.52,637.25 L558.31,636.65 L559.09,636.04 L559.87,635.42 L560.64,634.8 L561.39,634.2 L562.08,633.64 L562.77,633.1 L563.47,632.55 L564.19,631.98 L564.93,631.38 L565.7,630.75 L566.48,630.08 L567.27,629.37 L568.09,628.61 L568.93,627.8 L569.79,626.93 L570.69,625.97 L571.64,624.94 L572.59,623.85 L573.55,622.73 L574.51,621.58 L575.49,620.4 L576.47,619.18 L577.47,617.95 L578.49,616.69 L579.52,615.41 L580.57,614.11 L581.64,612.81 L582.73,611.49 L583.87,610.13 L585.06,608.71 L586.3,607.24 L587.57,605.73 L588.88,604.19 L590.21,602.61 L591.55,601.01 L592.91,599.38 L594.28,597.74 L595.64,596.09 L596.99,594.43 L598.33,592.77 L599.66,591.1 L601.01,589.39 L602.37,587.66 L603.74,585.9 L605.11,584.13 L606.47,582.37 L607.81,580.62 L609.13,578.89 L610.41,577.2 L611.66,575.56 L612.85,573.97 L614,572.44 L615.13,570.94 L616.23,569.44 L617.31,567.96 L618.36,566.51 L619.37,565.1 L620.34,563.74 L621.27,562.44 L622.14,561.21 L622.96,560.06 L623.72,559 L624.41,558.05 L625.03,557.21 L625.58,556.48 L626.06,555.85 L626.47,555.31 L626.83,554.86 L627.15,554.47 L627.41,554.15 L627.65,553.87 L627.87,553.61 L628.08,553.36 L628.31,553.1 L628.56,552.8 L628.77,552.54 L615.23,541.46 L615.1,541.61 L614.99,541.75 L614.81,541.95 L614.58,542.22 L614.29,542.56 L613.96,542.95 L613.59,543.41 L613.17,543.93 L612.7,544.52 L612.18,545.19 L611.61,545.94 L610.97,546.79 L610.27,547.74 L609.53,548.77 L608.73,549.88 L607.89,551.05 L607.01,552.29 L606.1,553.57 L605.14,554.91 L604.16,556.28 L603.15,557.68 L602.12,559.09 L601.07,560.52 L600,561.96 L598.88,563.44 L597.7,565.01 L596.47,566.63 L595.21,568.29 L593.91,569.99 L592.59,571.71 L591.26,573.43 L589.92,575.16 L588.59,576.88 L587.26,578.57 L585.95,580.22 L584.67,581.83 L583.4,583.4 L582.11,584.99 L580.79,586.58 L579.47,588.18 L578.14,589.76 L576.82,591.34 L575.5,592.9 L574.2,594.44 L572.92,595.96 L571.67,597.44 L570.45,598.89 L569.27,600.31 L568.12,601.7 L567,603.07 L565.92,604.41 L564.87,605.71 L563.86,606.97 L562.89,608.18 L561.95,609.33 L561.06,610.42 L560.2,611.44 L559.39,612.38 L558.63,613.24 L557.91,614.03 L557.22,614.74 L556.58,615.39 L555.99,615.97 L555.45,616.48 L554.94,616.94 L554.45,617.36 L553.97,617.75 L553.48,618.12 L552.97,618.49 L552.42,618.85 L551.83,619.23 L551.21,619.6 L550.6,619.93 L550,620.22 L549.39,620.49 L548.78,620.73 L548.18,620.95 L547.58,621.13 L547.01,621.29 L546.47,621.42 L545.97,621.52 L545.51,621.59 L545.12,621.62 L544.83,621.62 L544.67,621.57 L544.58,621.49 L544.49,621.4 L544.39,621.31 L544.27,621.23 L544.12,621.14 L543.91,621.06 L543.65,620.99 L543.31,620.91 L542.89,620.85 L542.38,620.79 L541.8,620.75 L541.25,620.73 L540.81,620.72 L540.51,620.72 L540.34,620.73 L540.29,620.75 L540.3,620.77 L540.34,620.81 L540.34,620.85 L540.26,620.87 L540.08,620.87 L539.77,620.84 L539.37,620.77 L538.86,620.66 L538.22,620.5 L537.47,620.3 L536.62,620.06 L535.71,619.8 L534.75,619.5 L533.76,619.19 L532.76,618.86 L531.76,618.53 L530.76,618.19 L529.8,617.85 L528.88,617.51 L528.04,617.2 L527.24,616.89 L526.48,616.59 L525.73,616.28 L525,615.97 L524.26,615.65 L523.51,615.31 L522.74,614.97 L521.95,614.6 L521.12,614.21 L520.24,613.8 L519.33,613.36 L518.39,612.91 L517.41,612.42 L516.38,611.9 L515.31,611.35 L514.21,610.78 L513.08,610.19 L511.93,609.59 L510.76,608.99 L509.58,608.39 L508.39,607.8 L507.2,607.22 L506.03,606.66 L504.91,606.13 L503.79,605.61 L502.68,605.09 L501.55,604.58 L500.42,604.06 L499.27,603.55 L498.12,603.05 L496.96,602.55 L495.78,602.06 L494.6,601.59 L493.4,601.12 L492.19,600.67 L490.97,600.24 L489.76,599.83 L488.55,599.44 L487.34,599.07 L486.15,598.72 L484.96,598.38 L483.79,598.05 L482.62,597.73 L481.46,597.41 L480.31,597.11 L479.18,596.8 L478.05,596.5 L476.91,596.19 L475.74,595.88 L474.56,595.56 L473.36,595.25 L472.17,594.95 L470.97,594.64 L469.78,594.35 L468.6,594.06 L467.43,593.77 L466.29,593.5 L465.16,593.23 L464.09,592.98 L463.09,592.75 L462.16,592.52 L461.24,592.3 L460.34,592.07 L459.43,591.86 L458.52,591.65 L457.6,591.45 L456.66,591.27 L455.7,591.11 L454.71,590.96 L453.7,590.84 L452.64,590.74 L451.5,590.67 L450.37,590.63 L449.26,590.62 L448.17,590.63 L447.11,590.66 L446.08,590.7 L445.06,590.76 L444.06,590.81 L443.08,590.87 L442.11,590.92 L441.15,590.97 L440.17,591 L439.11,591.03 L437.95,591.06 L436.74,591.09 L435.5,591.13 L434.23,591.16 L432.97,591.2 L431.73,591.23 L430.53,591.26 L429.39,591.29 L428.31,591.31 L427.33,591.33 L426.45,591.35 L425.66,591.36 L424.95,591.37 L424.3,591.37 L423.72,591.38 L423.19,591.37 L422.72,591.37 L422.31,591.37 L421.95,591.36 L421.63,591.36 L421.37,591.35 L421.16,591.35 L420.96,591.35Z" fill="#4b4aa0" opacity="0.7" filter="url(#bl2)"/>
<path d="M439.96,753.43 L440.94,753.11 L442.16,752.75 L443.68,752.34 L445.42,751.86 L447.34,751.32 L449.4,750.71 L451.56,750.03 L453.79,749.27 L456.04,748.42 L458.29,747.48 L460.51,746.42 L462.62,745.26 L464.6,744.02 L466.53,742.73 L468.43,741.36 L470.32,739.92 L472.19,738.42 L474.05,736.86 L475.92,735.23 L477.79,733.54 L479.68,731.8 L481.58,730.01 L483.5,728.16 L485.48,726.25 L487.52,724.22 L489.62,722.06 L491.75,719.8 L493.91,717.47 L496.07,715.08 L498.25,712.65 L500.42,710.21 L502.57,707.78 L504.7,705.37 L506.79,703.02 L508.83,700.73 L510.82,698.53 L512.82,696.33 L514.86,694.08 L516.91,691.8 L518.97,689.53 L521,687.27 L522.99,685.06 L524.93,682.92 L526.78,680.87 L528.53,678.93 L530.17,677.14 L531.67,675.5 L533.02,674.05 L534.2,672.78 L535.22,671.69 L536.1,670.76 L536.85,669.97 L537.49,669.3 L538.05,668.75 L538.53,668.28 L538.97,667.87 L539.4,667.51 L539.83,667.14 L540.31,666.75 L540.88,666.29 L541.52,665.78 L542.14,665.3 L542.72,664.85 L543.28,664.46 L543.8,664.11 L544.29,663.81 L544.74,663.56 L545.15,663.36 L545.52,663.2 L545.85,663.09 L546.13,663.02 L546.4,662.96 L546.68,662.92 L546.98,662.89 L547.29,662.86 L547.61,662.85 L547.93,662.85 L548.27,662.85 L548.61,662.86 L548.95,662.88 L549.29,662.9 L549.64,662.91 L549.98,662.93 L550.28,662.94 L550.5,662.95 L550.67,662.94 L550.87,662.93 L551.11,662.93 L551.39,662.94 L551.75,662.97 L552.17,663.03 L552.67,663.12 L553.24,663.24 L553.88,663.39 L554.59,663.58 L555.41,663.8 L556.33,664.05 L557.25,664.27 L558.11,664.46 L558.93,664.63 L559.7,664.79 L560.43,664.96 L561.13,665.14 L561.79,665.34 L562.42,665.56 L563.02,665.82 L563.59,666.12 L564.15,666.48 L564.74,666.93 L565.37,667.5 L566.05,668.18 L566.78,668.98 L567.54,669.86 L568.35,670.82 L569.2,671.84 L570.09,672.92 L571.04,674.04 L572.05,675.18 L573.12,676.35 L574.23,677.48 L575.36,678.58 L576.53,679.69 L577.74,680.82 L578.99,681.97 L580.26,683.12 L581.53,684.27 L582.8,685.4 L584.05,686.52 L585.27,687.61 L586.45,688.66 L587.57,689.66 L588.62,690.61 L589.63,691.53 L590.62,692.42 L591.58,693.27 L592.51,694.1 L593.41,694.9 L594.28,695.67 L595.11,696.41 L595.91,697.12 L596.66,697.81 L597.38,698.47 L598.05,699.1 L598.67,699.7 L599.25,700.27 L599.79,700.83 L600.3,701.39 L600.79,701.94 L601.25,702.47 L601.68,702.98 L602.09,703.46 L602.46,703.92 L602.81,704.35 L603.14,704.76 L603.45,705.13 L603.71,705.45 L612.29,698.55 L612.09,698.29 L611.86,697.98 L611.57,697.59 L611.23,697.13 L610.85,696.61 L610.43,696.05 L609.97,695.44 L609.47,694.79 L608.93,694.11 L608.36,693.39 L607.76,692.65 L607.13,691.9 L606.48,691.14 L605.82,690.37 L605.13,689.58 L604.41,688.76 L603.67,687.92 L602.91,687.06 L602.12,686.17 L601.3,685.26 L600.46,684.33 L599.59,683.37 L598.7,682.4 L597.78,681.39 L596.8,680.32 L595.76,679.2 L594.68,678.03 L593.55,676.82 L592.41,675.59 L591.24,674.35 L590.07,673.1 L588.91,671.87 L587.77,670.66 L586.65,669.49 L585.57,668.36 L584.57,667.32 L583.64,666.34 L582.72,665.38 L581.79,664.38 L580.85,663.38 L579.89,662.36 L578.91,661.33 L577.92,660.31 L576.9,659.28 L575.86,658.27 L574.77,657.26 L573.64,656.28 L572.45,655.32 L571.22,654.43 L569.99,653.64 L568.79,652.93 L567.61,652.3 L566.48,651.75 L565.4,651.26 L564.39,650.82 L563.45,650.43 L562.59,650.07 L561.83,649.76 L561.18,649.47 L560.59,649.2 L559.97,648.9 L559.32,648.58 L558.66,648.26 L557.98,647.93 L557.27,647.61 L556.51,647.29 L555.71,646.99 L554.84,646.71 L553.92,646.46 L552.95,646.26 L551.93,646.13 L550.92,646.06 L549.96,646.05 L549.04,646.09 L548.1,646.17 L547.16,646.31 L546.21,646.49 L545.26,646.71 L544.31,646.98 L543.36,647.3 L542.41,647.66 L541.47,648.07 L540.53,648.53 L539.6,649.04 L538.68,649.6 L537.82,650.21 L537.01,650.84 L536.27,651.49 L535.57,652.14 L534.92,652.8 L534.31,653.46 L533.73,654.12 L533.17,654.77 L532.62,655.42 L532.07,656.06 L531.52,656.71 L530.96,657.36 L530.43,657.99 L529.94,658.59 L529.46,659.19 L529,659.8 L528.52,660.43 L528,661.1 L527.43,661.85 L526.76,662.7 L525.99,663.69 L525.07,664.82 L523.98,666.15 L522.71,667.69 L521.29,669.41 L519.73,671.29 L518.06,673.3 L516.29,675.43 L514.44,677.64 L512.54,679.92 L510.6,682.24 L508.63,684.58 L506.66,686.91 L504.71,689.21 L502.78,691.47 L500.83,693.76 L498.83,696.13 L496.79,698.55 L494.73,701 L492.64,703.47 L490.55,705.93 L488.47,708.36 L486.4,710.75 L484.36,713.05 L482.36,715.27 L480.42,717.37 L478.52,719.35 L476.66,721.25 L474.83,723.1 L473.04,724.89 L471.28,726.6 L469.56,728.25 L467.86,729.82 L466.18,731.31 L464.52,732.73 L462.87,734.06 L461.23,735.31 L459.59,736.48 L457.98,737.54 L456.34,738.51 L454.57,739.4 L452.69,740.24 L450.74,741.03 L448.75,741.75 L446.78,742.41 L444.86,743.02 L443.03,743.58 L441.32,744.08 L439.76,744.55 L438.36,744.98 L437.24,745.37Z" fill="#4b4aa0" opacity="0.5" filter="url(#bl2)"/>
<path d="M421.02,599.05 L421.26,599.05 L421.53,599.04 L421.81,599.03 L422.12,599.01 L422.45,599 L422.83,598.99 L423.24,598.98 L423.71,598.98 L424.24,598.98 L424.83,598.99 L425.49,599.02 L426.23,599.05 L427.07,599.1 L428.03,599.16 L429.08,599.23 L430.22,599.3 L431.41,599.39 L432.64,599.48 L433.9,599.57 L435.16,599.67 L436.41,599.76 L437.63,599.84 L438.8,599.93 L439.91,600 L441,600.06 L442.07,600.12 L443.12,600.17 L444.14,600.22 L445.13,600.26 L446.08,600.31 L447.01,600.36 L447.91,600.41 L448.78,600.47 L449.61,600.53 L450.42,600.6 L451.21,600.68 L451.99,600.76 L452.75,600.84 L453.48,600.93 L454.19,601.01 L454.89,601.1 L455.6,601.2 L456.32,601.31 L457.07,601.44 L457.86,601.58 L458.68,601.75 L459.55,601.94 L460.47,602.16 L461.42,602.4 L462.4,602.66 L463.42,602.95 L464.48,603.26 L465.56,603.59 L466.66,603.93 L467.78,604.28 L468.9,604.65 L470.03,605.01 L471.16,605.38 L472.27,605.75 L473.38,606.11 L474.48,606.48 L475.58,606.84 L476.68,607.21 L477.77,607.58 L478.86,607.95 L479.94,608.33 L481.02,608.71 L482.09,609.09 L483.16,609.47 L484.22,609.86 L485.28,610.24 L486.33,610.63 L487.39,611.03 L488.45,611.43 L489.52,611.84 L490.6,612.25 L491.67,612.67 L492.76,613.1 L493.85,613.53 L494.95,613.97 L496.05,614.41 L497.16,614.86 L498.27,615.31 L499.38,615.76 L500.49,616.22 L501.62,616.68 L502.77,617.16 L503.93,617.65 L505.1,618.14 L506.28,618.64 L507.44,619.13 L508.59,619.62 L509.73,620.11 L510.83,620.58 L511.91,621.04 L512.93,621.48 L513.9,621.89 L514.8,622.28 L515.67,622.65 L516.51,623.01 L517.32,623.36 L518.12,623.71 L518.91,624.05 L519.7,624.4 L520.5,624.75 L521.31,625.1 L522.15,625.48 L523.01,625.86 L523.91,626.26 L524.84,626.7 L525.81,627.16 L526.8,627.63 L527.81,628.11 L528.81,628.59 L529.82,629.07 L530.8,629.52 L531.77,629.96 L532.71,630.36 L533.61,630.73 L534.47,631.05 L535.27,631.32 L536.01,631.55 L536.72,631.76 L537.41,631.93 L538.09,632.07 L538.74,632.17 L539.36,632.24 L539.94,632.28 L540.46,632.29 L540.93,632.29 L541.36,632.28 L541.8,632.25 L542.26,632.21 L542.75,632.17 L543.3,632.11 L543.9,632.03 L544.55,631.93 L545.23,631.81 L545.96,631.65 L546.72,631.46 L547.5,631.22 L548.3,630.95 L549.12,630.62 L549.93,630.26 L550.69,629.86 L551.43,629.44 L552.16,628.98 L552.88,628.49 L553.6,627.98 L554.32,627.46 L555.03,626.91 L555.74,626.36 L556.44,625.79 L557.15,625.23 L557.85,624.66 L558.53,624.1 L559.19,623.57 L559.83,623.06 L560.48,622.54 L561.13,622.02 L561.8,621.49 L562.48,620.92 L563.18,620.32 L563.89,619.69 L564.63,619 L565.4,618.26 L566.2,617.45 L567.04,616.56 L567.92,615.6 L568.82,614.57 L569.73,613.5 L570.66,612.39 L571.62,611.23 L572.59,610.04 L573.58,608.81 L574.6,607.55 L575.64,606.26 L576.7,604.96 L577.78,603.64 L578.88,602.3 L580.03,600.92 L581.23,599.49 L582.47,598.02 L583.75,596.51 L585.06,594.96 L586.38,593.39 L587.72,591.79 L589.07,590.18 L590.43,588.55 L591.77,586.92 L593.11,585.28 L594.43,583.65 L595.74,581.99 L597.08,580.3 L598.43,578.58 L599.79,576.83 L601.15,575.08 L602.5,573.32 L603.84,571.58 L605.15,569.86 L606.43,568.18 L607.67,566.55 L608.86,564.96 L610,563.45 L611.11,561.96 L612.2,560.48 L613.27,559.02 L614.3,557.58 L615.31,556.19 L616.27,554.83 L617.2,553.54 L618.07,552.31 L618.9,551.15 L619.67,550.08 L620.37,549.1 L621.01,548.23 L621.58,547.47 L622.09,546.8 L622.54,546.23 L622.93,545.73 L623.27,545.31 L623.57,544.95 L623.83,544.64 L624.07,544.36 L624.29,544.1 L624.5,543.86 L624.71,543.61 L624.9,543.37 L619.1,538.63 L618.95,538.81 L618.79,538.99 L618.6,539.21 L618.37,539.48 L618.11,539.79 L617.81,540.15 L617.46,540.57 L617.07,541.05 L616.63,541.6 L616.14,542.23 L615.6,542.95 L614.99,543.77 L614.31,544.68 L613.58,545.69 L612.8,546.79 L611.97,547.95 L611.09,549.19 L610.17,550.48 L609.21,551.82 L608.22,553.2 L607.2,554.61 L606.15,556.05 L605.08,557.5 L604,558.95 L602.87,560.45 L601.69,562.02 L600.45,563.65 L599.18,565.32 L597.88,567.03 L596.56,568.75 L595.22,570.49 L593.87,572.23 L592.53,573.96 L591.19,575.66 L589.87,577.33 L588.57,578.95 L587.28,580.55 L585.97,582.16 L584.65,583.77 L583.31,585.38 L581.98,586.98 L580.64,588.56 L579.32,590.13 L578.02,591.67 L576.74,593.18 L575.49,594.66 L574.28,596.1 L573.12,597.5 L571.98,598.88 L570.88,600.23 L569.81,601.56 L568.77,602.85 L567.75,604.11 L566.77,605.33 L565.83,606.5 L564.91,607.61 L564.02,608.67 L563.17,609.66 L562.35,610.59 L561.56,611.44 L560.81,612.22 L560.11,612.94 L559.45,613.58 L558.83,614.17 L558.24,614.7 L557.67,615.19 L557.11,615.65 L556.54,616.08 L555.96,616.49 L555.36,616.9 L554.73,617.3 L554.07,617.7 L553.4,618.07 L552.73,618.42 L552.04,618.73 L551.35,619.02 L550.66,619.28 L549.98,619.52 L549.32,619.73 L548.67,619.91 L548.06,620.06 L547.48,620.18 L546.94,620.28 L546.47,620.34 L546.09,620.36 L545.75,620.35 L545.42,620.31 L545.1,620.26 L544.79,620.2 L544.45,620.13 L544.1,620.06 L543.72,619.99 L543.31,619.91 L542.85,619.85 L542.34,619.79 L541.8,619.75 L541.28,619.73 L540.84,619.72 L540.49,619.72 L540.23,619.73 L540.02,619.74 L539.86,619.75 L539.69,619.77 L539.49,619.77 L539.23,619.76 L538.89,619.73 L538.45,619.66 L537.93,619.55 L537.31,619.41 L536.58,619.22 L535.76,619 L534.86,618.74 L533.91,618.46 L532.92,618.16 L531.91,617.83 L530.89,617.5 L529.87,617.16 L528.87,616.82 L527.91,616.47 L526.99,616.14 L526.13,615.82 L525.32,615.51 L524.53,615.19 L523.77,614.88 L523.01,614.56 L522.26,614.23 L521.49,613.89 L520.72,613.53 L519.91,613.16 L519.07,612.77 L518.19,612.36 L517.27,611.92 L516.3,611.45 L515.3,610.95 L514.26,610.43 L513.18,609.87 L512.08,609.3 L510.95,608.71 L509.8,608.12 L508.65,607.52 L507.48,606.93 L506.32,606.35 L505.16,605.78 L504.02,605.24 L502.9,604.72 L501.8,604.2 L500.69,603.68 L499.58,603.17 L498.46,602.66 L497.34,602.16 L496.21,601.67 L495.08,601.18 L493.94,600.71 L492.79,600.25 L491.63,599.8 L490.47,599.37 L489.3,598.95 L488.12,598.56 L486.95,598.18 L485.79,597.82 L484.62,597.48 L483.46,597.15 L482.31,596.82 L481.16,596.51 L480.01,596.2 L478.87,595.89 L477.74,595.59 L476.62,595.29 L475.48,594.98 L474.32,594.67 L473.15,594.36 L471.97,594.06 L470.79,593.75 L469.61,593.46 L468.44,593.17 L467.29,592.88 L466.16,592.61 L465.05,592.34 L463.97,592.08 L462.93,591.84 L461.96,591.62 L461.04,591.4 L460.16,591.18 L459.3,590.96 L458.45,590.76 L457.6,590.56 L456.75,590.38 L455.88,590.21 L455,590.06 L454.1,589.93 L453.17,589.81 L452.19,589.72 L451.16,589.66 L450.13,589.62 L449.11,589.61 L448.09,589.63 L447.08,589.66 L446.08,589.7 L445.08,589.76 L444.08,589.81 L443.09,589.87 L442.1,589.92 L441.1,589.97 L440.09,590 L439.01,590.03 L437.84,590.06 L436.63,590.09 L435.38,590.13 L434.12,590.16 L432.86,590.2 L431.62,590.23 L430.42,590.26 L429.28,590.29 L428.21,590.31 L427.24,590.33 L426.37,590.35 L425.6,590.36 L424.9,590.37 L424.28,590.37 L423.72,590.38 L423.21,590.37 L422.76,590.37 L422.36,590.37 L422.01,590.36 L421.7,590.36 L421.43,590.35 L421.2,590.35 L420.98,590.35Z" fill="#f5ea0c" filter="url(#bl)"/>
<path d="M439,750.58 L440.03,750.25 L441.32,749.88 L442.85,749.45 L444.59,748.98 L446.48,748.44 L448.5,747.85 L450.6,747.19 L452.75,746.46 L454.91,745.65 L457.04,744.75 L459.11,743.77 L461.07,742.69 L462.94,741.52 L464.79,740.29 L466.61,738.97 L468.43,737.59 L470.25,736.13 L472.07,734.6 L473.9,733.01 L475.74,731.36 L477.6,729.64 L479.48,727.86 L481.39,726.03 L483.35,724.14 L485.36,722.14 L487.43,720.01 L489.53,717.78 L491.67,715.47 L493.83,713.09 L495.99,710.68 L498.15,708.25 L500.3,705.82 L502.43,703.41 L504.52,701.05 L506.57,698.76 L508.57,696.55 L510.56,694.35 L512.6,692.1 L514.65,689.83 L516.7,687.56 L518.74,685.3 L520.73,683.09 L522.66,680.95 L524.51,678.9 L526.27,676.97 L527.91,675.17 L529.41,673.53 L530.76,672.08 L531.94,670.81 L532.95,669.72 L533.83,668.8 L534.57,668.01 L535.22,667.34 L535.79,666.77 L536.29,666.28 L536.76,665.85 L537.21,665.45 L537.68,665.05 L538.2,664.63 L538.79,664.15 L539.43,663.63 L540.05,663.14 L540.66,662.68 L541.24,662.25 L541.8,661.87 L542.34,661.52 L542.86,661.22 L543.35,660.96 L543.82,660.73 L544.26,660.55 L544.68,660.39 L545.08,660.27 L545.5,660.16 L545.93,660.07 L546.37,660.01 L546.82,659.96 L547.26,659.92 L547.72,659.9 L548.17,659.89 L548.62,659.9 L549.08,659.9 L549.53,659.92 L549.98,659.93 L550.4,659.95 L550.75,659.96 L551.08,659.97 L551.42,659.98 L551.78,660.01 L552.18,660.04 L552.62,660.1 L553.12,660.18 L553.66,660.29 L554.26,660.42 L554.92,660.58 L555.62,660.76 L556.41,660.98 L557.28,661.2 L558.15,661.41 L559,661.59 L559.84,661.77 L560.66,661.94 L561.46,662.14 L562.24,662.35 L563.01,662.6 L563.77,662.88 L564.51,663.22 L565.23,663.61 L565.94,664.07 L566.66,664.63 L567.4,665.29 L568.16,666.05 L568.95,666.9 L569.75,667.82 L570.58,668.81 L571.44,669.85 L572.34,670.93 L573.27,672.03 L574.26,673.15 L575.29,674.28 L576.37,675.38 L577.48,676.46 L578.64,677.56 L579.85,678.69 L581.09,679.83 L582.36,680.98 L583.63,682.12 L584.9,683.26 L586.15,684.38 L587.38,685.47 L588.55,686.52 L589.68,687.53 L590.73,688.48 L591.74,689.4 L592.73,690.29 L593.7,691.14 L594.63,691.97 L595.53,692.77 L596.4,693.55 L597.24,694.3 L598.05,695.02 L598.81,695.72 L599.54,696.39 L600.23,697.04 L600.88,697.66 L601.48,698.27 L602.05,698.87 L602.6,699.46 L603.11,700.03 L603.59,700.58 L604.04,701.11 L604.45,701.62 L604.84,702.09 L605.19,702.52 L605.51,702.92 L605.8,703.27 L606.05,703.57 L609.95,700.43 L609.74,700.15 L609.49,699.82 L609.2,699.42 L608.86,698.97 L608.49,698.46 L608.08,697.91 L607.63,697.32 L607.15,696.7 L606.64,696.04 L606.1,695.36 L605.52,694.65 L604.92,693.94 L604.3,693.2 L603.65,692.45 L602.98,691.67 L602.27,690.86 L601.54,690.03 L600.78,689.18 L600,688.3 L599.19,687.39 L598.35,686.46 L597.48,685.5 L596.59,684.52 L595.67,683.52 L594.69,682.46 L593.66,681.34 L592.57,680.17 L591.45,678.96 L590.31,677.73 L589.14,676.49 L587.97,675.25 L586.81,674.01 L585.66,672.8 L584.54,671.62 L583.45,670.48 L582.43,669.42 L581.46,668.41 L580.51,667.41 L579.56,666.39 L578.6,665.37 L577.64,664.35 L576.68,663.34 L575.71,662.34 L574.74,661.36 L573.75,660.4 L572.74,659.47 L571.72,658.58 L570.66,657.73 L569.58,656.94 L568.5,656.24 L567.44,655.61 L566.39,655.04 L565.37,654.53 L564.38,654.08 L563.43,653.66 L562.54,653.29 L561.7,652.94 L560.93,652.62 L560.23,652.32 L559.59,652.02 L558.94,651.72 L558.29,651.4 L557.64,651.08 L556.99,650.77 L556.33,650.46 L555.64,650.16 L554.92,649.88 L554.17,649.63 L553.38,649.41 L552.54,649.24 L551.68,649.12 L550.8,649.05 L549.97,649.05 L549.14,649.09 L548.31,649.17 L547.48,649.29 L546.64,649.45 L545.81,649.66 L544.98,649.91 L544.15,650.19 L543.33,650.52 L542.51,650.88 L541.71,651.29 L540.92,651.73 L540.14,652.22 L539.4,652.75 L538.71,653.31 L538.06,653.89 L537.45,654.48 L536.87,655.09 L536.31,655.7 L535.76,656.32 L535.23,656.95 L534.7,657.58 L534.16,658.21 L533.61,658.85 L533.07,659.49 L532.58,660.08 L532.12,660.65 L531.68,661.21 L531.24,661.79 L530.78,662.4 L530.27,663.07 L529.7,663.81 L529.04,664.66 L528.25,665.65 L527.33,666.79 L526.24,668.12 L524.97,669.66 L523.55,671.38 L522,673.26 L520.32,675.27 L518.56,677.39 L516.71,679.61 L514.8,681.89 L512.86,684.21 L510.89,686.55 L508.92,688.88 L506.96,691.19 L505.03,693.45 L503.1,695.73 L501.1,698.09 L499.06,700.51 L497,702.97 L494.91,705.44 L492.81,707.91 L490.72,710.35 L488.63,712.75 L486.57,715.08 L484.55,717.32 L482.58,719.45 L480.65,721.46 L478.77,723.38 L476.93,725.25 L475.12,727.05 L473.33,728.79 L471.58,730.47 L469.84,732.07 L468.12,733.6 L466.4,735.06 L464.69,736.45 L462.98,737.75 L461.25,738.98 L459.53,740.11 L457.74,741.16 L455.83,742.13 L453.83,743.02 L451.78,743.84 L449.72,744.59 L447.69,745.28 L445.72,745.9 L443.86,746.46 L442.14,746.97 L440.6,747.43 L439.27,747.84 L438.2,748.22Z" fill="url(#fd1)" filter="url(#bl)"/>
<g fill="#f5ea0c" filter="url(#bl)"><circle cx="438.6" cy="749.4" r="1.4" fill-opacity="0.3"/><circle cx="443.96" cy="747.79" r="1.46" fill-opacity="0.33"/><circle cx="449.32" cy="746.17" r="1.53" fill-opacity="0.37"/><circle cx="454.58" cy="744.24" r="1.59" fill-opacity="0.41"/><circle cx="459.62" cy="741.81" r="1.67" fill-opacity="0.46"/><circle cx="464.29" cy="738.72" r="1.75" fill-opacity="0.51"/><circle cx="468.7" cy="735.27" r="1.84" fill-opacity="0.55"/><circle cx="472.91" cy="731.58" r="1.93" fill-opacity="0.6"/><circle cx="476.98" cy="727.74" r="2.02" fill-opacity="0.65"/><circle cx="480.98" cy="723.82" r="2.11" fill-opacity="0.69"/><circle cx="484.9" cy="719.82" r="2.19" fill-opacity="0.74"/><circle cx="488.71" cy="715.71" r="2.26" fill-opacity="0.79"/><circle cx="492.44" cy="711.53" r="2.33" fill-opacity="0.83"/><circle cx="496.12" cy="707.32" r="2.4" fill-opacity="0.88"/><circle cx="499.78" cy="703.08" r="2.47" fill-opacity="0.93"/><circle cx="503.44" cy="698.84" r="2.55" fill-opacity="0.98"/><circle cx="507.13" cy="694.63" r="2.64" fill-opacity="1"/></g>
</g>
<g clip-path="url(#ins1)">
<path d="M576.43,675.44 L577.14,676.09 L578.05,676.93 L579.14,677.92 L580.36,679.03 L581.67,680.22 L583.04,681.48 L584.44,682.77 L585.82,684.05 L587.16,685.31 L588.41,686.51 L589.53,687.61 L590.49,688.59 L591.33,689.48 L592.1,690.33 L592.81,691.13 L593.46,691.9 L594.07,692.64 L594.64,693.36 L595.18,694.07 L595.69,694.77 L596.2,695.48 L596.69,696.2 L597.19,696.93 L597.69,697.67 L598.16,698.4 L598.57,699.1 L598.95,699.8 L599.31,700.5 L599.65,701.19 L599.99,701.89 L600.33,702.61 L600.68,703.33 L601.06,704.08 L601.46,704.85 L601.91,705.64 L602.4,706.45 L602.92,707.27 L603.46,708.1 L604.01,708.95 L604.59,709.8 L605.17,710.66 L605.77,711.53 L606.38,712.39 L606.99,713.26 L607.6,714.12 L608.22,714.98 L608.83,715.83 L609.44,716.67 L610.04,717.5 L610.65,718.34 L611.26,719.19 L611.89,720.05 L612.52,720.92 L613.17,721.79 L613.82,722.67 L614.49,723.55 L615.18,724.43 L615.88,725.31 L616.6,726.19 L617.33,727.06 L618.09,727.93 L618.87,728.79 L619.67,729.66 L620.48,730.52 L621.31,731.37 L622.13,732.22 L622.96,733.05 L623.77,733.86 L624.57,734.66 L625.34,735.43 L626.08,736.17 L626.79,736.89 L627.48,737.59 L628.16,738.28 L628.83,738.95 L629.49,739.6 L630.13,740.23 L630.75,740.85 L631.35,741.44 L631.94,742.01 L632.49,742.55 L633.02,743.06 L633.53,743.55 L634,744 L634.45,744.42 L634.87,744.82 L635.28,745.19 L635.66,745.53 L636.02,745.85 L636.35,746.14 L636.66,746.41 L636.94,746.66 L637.2,746.88 L637.43,747.07 L637.63,747.25 L637.8,747.4 L640.2,745.6 L640.1,745.39 L639.99,745.15 L639.87,744.87 L639.73,744.57 L639.57,744.23 L639.4,743.86 L639.21,743.45 L639.01,743.02 L638.78,742.56 L638.54,742.07 L638.28,741.55 L638,741 L637.7,740.42 L637.37,739.8 L637.02,739.14 L636.66,738.46 L636.27,737.74 L635.87,737 L635.46,736.23 L635.03,735.44 L634.59,734.64 L634.14,733.81 L633.68,732.97 L633.21,732.11 L632.72,731.22 L632.21,730.29 L631.69,729.33 L631.16,728.34 L630.61,727.34 L630.05,726.32 L629.49,725.3 L628.92,724.27 L628.36,723.26 L627.79,722.26 L627.22,721.29 L626.67,720.34 L626.11,719.42 L625.56,718.5 L625,717.58 L624.43,716.65 L623.86,715.73 L623.27,714.81 L622.68,713.89 L622.08,712.97 L621.46,712.06 L620.84,711.14 L620.21,710.24 L619.56,709.33 L618.91,708.44 L618.25,707.56 L617.58,706.69 L616.9,705.82 L616.22,704.97 L615.54,704.14 L614.86,703.32 L614.19,702.52 L613.53,701.74 L612.87,700.98 L612.23,700.25 L611.6,699.55 L611,698.9 L610.4,698.28 L609.82,697.69 L609.23,697.11 L608.64,696.54 L608.05,695.98 L607.45,695.41 L606.85,694.84 L606.23,694.25 L605.6,693.63 L604.96,692.99 L604.31,692.33 L603.67,691.67 L603.05,691.03 L602.44,690.38 L601.82,689.71 L601.19,689.04 L600.54,688.34 L599.87,687.61 L599.16,686.86 L598.42,686.06 L597.64,685.23 L596.8,684.35 L595.91,683.41 L594.9,682.36 L593.77,681.18 L592.54,679.9 L591.24,678.55 L589.92,677.18 L588.58,675.8 L587.28,674.45 L586.04,673.17 L584.9,671.98 L583.89,670.93 L583.04,670.05 L582.37,669.36Z" fill="#4b4aa0" opacity="0.6" filter="url(#bl2)"/>
<path d="M576.43,675.44 L577.14,676.09 L578.05,676.93 L579.14,677.92 L580.36,679.03 L581.67,680.22 L583.04,681.48 L584.44,682.77 L585.82,684.05 L587.16,685.31 L588.41,686.51 L589.53,687.61 L590.49,688.59 L591.33,689.48 L592.1,690.33 L592.81,691.13 L593.46,691.9 L594.07,692.64 L594.64,693.36 L595.18,694.07 L595.69,694.77 L596.2,695.48 L596.69,696.2 L597.19,696.93 L597.69,697.67 L598.16,698.4 L598.57,699.1 L598.95,699.8 L599.31,700.5 L599.65,701.19 L599.99,701.89 L600.33,702.61 L600.68,703.33 L601.06,704.08 L601.46,704.85 L601.91,705.64 L602.4,706.45 L602.92,707.27 L603.46,708.1 L604.01,708.95 L604.59,709.8 L605.17,710.66 L605.77,711.53 L606.38,712.39 L606.99,713.26 L607.6,714.12 L608.22,714.98 L608.83,715.83 L609.44,716.67 L610.04,717.5 L610.65,718.34 L611.26,719.19 L611.89,720.05 L612.52,720.92 L613.17,721.79 L613.82,722.67 L614.49,723.55 L615.18,724.43 L615.88,725.31 L616.6,726.19 L617.33,727.06 L618.09,727.93 L618.87,728.79 L619.67,729.66 L620.48,730.52 L621.31,731.37 L622.13,732.22 L622.96,733.05 L623.77,733.86 L624.57,734.66 L625.34,735.43 L626.08,736.17 L626.79,736.89 L627.48,737.59 L628.16,738.28 L628.83,738.95 L629.49,739.6 L630.13,740.23 L630.75,740.85 L631.35,741.44 L631.94,742.01 L632.49,742.55 L633.02,743.06 L633.53,743.55 L634,744 L634.45,744.42 L634.87,744.82 L635.28,745.19 L635.66,745.53 L636.02,745.85 L636.35,746.14 L636.66,746.41 L636.94,746.66 L637.2,746.88 L637.43,747.07 L637.63,747.25 L637.8,747.4 L640.2,745.6 L640.1,745.39 L639.99,745.15 L639.87,744.87 L639.73,744.57 L639.57,744.23 L639.4,743.86 L639.21,743.45 L639.01,743.02 L638.78,742.56 L638.54,742.07 L638.28,741.55 L638,741 L637.7,740.42 L637.37,739.8 L637.02,739.14 L636.66,738.46 L636.27,737.74 L635.87,737 L635.46,736.23 L635.03,735.44 L634.59,734.64 L634.14,733.81 L633.68,732.97 L633.21,732.11 L632.72,731.22 L632.21,730.29 L631.69,729.33 L631.16,728.34 L630.61,727.34 L630.05,726.32 L629.49,725.3 L628.92,724.27 L628.36,723.26 L627.79,722.26 L627.22,721.29 L626.67,720.34 L626.11,719.42 L625.56,718.5 L625,717.58 L624.43,716.65 L623.86,715.73 L623.27,714.81 L622.68,713.89 L622.08,712.97 L621.46,712.06 L620.84,711.14 L620.21,710.24 L619.56,709.33 L618.91,708.44 L618.25,707.56 L617.58,706.69 L616.9,705.82 L616.22,704.97 L615.54,704.14 L614.86,703.32 L614.19,702.52 L613.53,701.74 L612.87,700.98 L612.23,700.25 L611.6,699.55 L611,698.9 L610.4,698.28 L609.82,697.69 L609.23,697.11 L608.64,696.54 L608.05,695.98 L607.45,695.41 L606.85,694.84 L606.23,694.25 L605.6,693.63 L604.96,692.99 L604.31,692.33 L603.67,691.67 L603.05,691.03 L602.44,690.38 L601.82,689.71 L601.19,689.04 L600.54,688.34 L599.87,687.61 L599.16,686.86 L598.42,686.06 L597.64,685.23 L596.8,684.35 L595.91,683.41 L594.9,682.36 L593.77,681.18 L592.54,679.9 L591.24,678.55 L589.92,677.18 L588.58,675.8 L587.28,674.45 L586.04,673.17 L584.9,671.98 L583.89,670.93 L583.04,670.05 L582.37,669.36Z" fill="#f5ea0c" filter="url(#bl)"/>
<path d="M640.54,747.13 L640.8,747.01 L641.14,746.85 L641.54,746.68 L641.99,746.47 L642.48,746.25 L643.01,746.02 L643.55,745.77 L644.1,745.51 L644.66,745.24 L645.2,744.98 L645.73,744.71 L646.22,744.44 L646.68,744.19 L647.14,743.93 L647.61,743.67 L648.08,743.4 L648.56,743.12 L649.03,742.84 L649.5,742.54 L649.96,742.24 L650.42,741.93 L650.87,741.61 L651.31,741.28 L651.73,740.95 L652.11,740.65 L652.43,740.38 L652.74,740.14 L653.03,739.89 L653.33,739.62 L653.63,739.33 L653.94,739 L654.28,738.63 L654.65,738.19 L655.06,737.68 L655.53,737.08 L656.07,736.37 L656.68,735.55 L657.32,734.64 L658,733.66 L658.71,732.6 L659.46,731.49 L660.25,730.31 L661.07,729.09 L661.93,727.83 L662.83,726.54 L663.75,725.22 L664.72,723.89 L665.71,722.55 L666.81,721.11 L668.05,719.51 L669.4,717.79 L670.82,716 L672.28,714.18 L673.74,712.36 L675.17,710.58 L676.53,708.9 L677.78,707.35 L678.9,705.96 L679.85,704.79 L680.58,703.87 L679.42,702.93 L678.67,703.84 L677.71,705 L676.58,706.37 L675.31,707.91 L673.93,709.57 L672.48,711.33 L671,713.14 L669.52,714.95 L668.07,716.72 L666.69,718.43 L665.42,720.02 L664.29,721.45 L663.25,722.8 L662.25,724.13 L661.28,725.44 L660.35,726.72 L659.46,727.97 L658.6,729.17 L657.78,730.33 L657.01,731.42 L656.27,732.44 L655.58,733.39 L654.93,734.26 L654.33,735.03 L653.79,735.7 L653.32,736.26 L652.92,736.73 L652.58,737.11 L652.28,737.42 L652.02,737.67 L651.77,737.89 L651.53,738.09 L651.27,738.3 L650.98,738.52 L650.64,738.77 L650.27,739.05 L649.87,739.34 L649.47,739.62 L649.06,739.89 L648.63,740.15 L648.2,740.41 L647.75,740.66 L647.29,740.92 L646.83,741.17 L646.37,741.41 L645.91,741.66 L645.44,741.91 L644.98,742.16 L644.52,742.4 L644.03,742.66 L643.51,742.92 L642.98,743.18 L642.45,743.44 L641.92,743.7 L641.41,743.94 L640.93,744.17 L640.48,744.38 L640.08,744.57 L639.74,744.74 L639.46,744.87Z" fill="#f5ea0c" opacity="0.12" filter="url(#bl)"/>
</g>
<polyline points="568.1,805.8 568.1,700.6 710.3,700.6" fill="none" stroke="#000" stroke-width="2"/>
<rect x="425.1" y="545.1" width="285.2" height="260.7" fill="none" stroke="#000" stroke-width="2"/>
<g stroke="#000" stroke-width="1.8"><line x1="419.6" y1="545.1" x2="425.1" y2="545.1"/><line x1="422.1" y1="567.1" x2="425.1" y2="567.1"/><line x1="419.6" y1="589.1" x2="425.1" y2="589.1"/><line x1="422.1" y1="611.1" x2="425.1" y2="611.1"/><line x1="419.6" y1="633.1" x2="425.1" y2="633.1"/><line x1="422.1" y1="655.1" x2="425.1" y2="655.1"/><line x1="419.6" y1="677.1" x2="425.1" y2="677.1"/><line x1="422.1" y1="699.1" x2="425.1" y2="699.1"/><line x1="419.6" y1="721.1" x2="425.1" y2="721.1"/><line x1="422.1" y1="743.1" x2="425.1" y2="743.1"/><line x1="419.6" y1="765.1" x2="425.1" y2="765.1"/><line x1="422.1" y1="787.1" x2="425.1" y2="787.1"/><line x1="425.1" y1="805.8" x2="425.1" y2="811.3"/><line x1="460.75" y1="805.8" x2="460.75" y2="808.8"/><line x1="496.4" y1="805.8" x2="496.4" y2="811.3"/><line x1="532.05" y1="805.8" x2="532.05" y2="808.8"/><line x1="567.7" y1="805.8" x2="567.7" y2="811.3"/><line x1="603.35" y1="805.8" x2="603.35" y2="808.8"/><line x1="639" y1="805.8" x2="639" y2="811.3"/><line x1="674.65" y1="805.8" x2="674.65" y2="808.8"/><line x1="710.3" y1="805.8" x2="710.3" y2="811.3"/></g>
<text x="425.1" y="835" font-size="25.7" text-anchor="middle">0</text>
<text x="496.4" y="835" font-size="25.7" text-anchor="middle">50</text>
<text x="567.7" y="835" font-size="25.7" text-anchor="middle">100</text>
<text x="639" y="835" font-size="25.7" text-anchor="middle">150</text>
<text x="710.3" y="835" font-size="25.7" text-anchor="middle">200</text>
<text x="458.1" y="863.5" font-size="25.5">Magnetic field (mT)</text>
<text x="526.1" y="536.4" font-size="29.5" class="s">Θ = 15°</text>
<text x="675.5" y="798.8" font-size="27.5" fill="#fff">x6</text>
<g stroke="#fff" stroke-width="3"><line x1="638.5" y1="745.1" x2="638.5" y2="804"/><line x1="616.8" y1="745.1" x2="658.6" y2="745.1"/><line x1="616.8" y1="804" x2="658.6" y2="804"/></g>
<text x="586.6" y="775.5" font-size="41" fill="#fff">f</text>
<text x="599.5" y="787.6" font-size="24" fill="#fff">g</text>
<clipPath id="clip2"><rect x="760.8" y="546" width="285.1" height="259.8"/></clipPath>
<clipPath id="ins2"><rect x="903.2" y="701.1" width="142.7" height="104.7"/></clipPath>
<linearGradient id="fd2" gradientUnits="userSpaceOnUse" x1="773" y1="0" x2="842" y2="0"><stop offset="0" stop-color="#f5ea0c" stop-opacity="0.12"/><stop offset="0.75" stop-color="#f5ea0c" stop-opacity="0.2"/><stop offset="1" stop-color="#f5ea0c" stop-opacity="1"/></linearGradient>
<g clip-path="url(#clip2)">
<rect x="760.8" y="546" width="285.1" height="259.8" fill="#3a51a3"/>
<linearGradient id="tl2" gradientUnits="userSpaceOnUse" x1="760.8" y1="0" x2="950.8" y2="0"><stop offset="0" stop-color="#4b4aa0" stop-opacity="0.55"/><stop offset="1" stop-color="#4b4aa0" stop-opacity="0"/></linearGradient>
<rect x="750.8" y="536" width="200" height="58" fill="url(#tl2)" filter="url(#bl3)"/>
<path d="M757.18,633.65 L758.4,633.64 L759.94,633.62 L761.65,633.59 L763.5,633.56 L765.48,633.53 L767.54,633.5 L769.63,633.48 L771.7,633.48 L773.69,633.48 L775.55,633.51 L777.21,633.55 L778.63,633.61 L780.02,633.69 L781.5,633.79 L782.99,633.9 L784.48,634.02 L785.97,634.17 L787.45,634.32 L788.91,634.5 L790.34,634.68 L791.73,634.88 L793.07,635.1 L794.36,635.32 L795.48,635.54 L796.3,635.73 L796.94,635.91 L797.54,636.11 L798.15,636.34 L798.82,636.6 L799.59,636.92 L800.5,637.29 L801.57,637.71 L802.8,638.19 L804.21,638.69 L805.77,639.21 L807.44,639.71 L809.09,640.17 L810.69,640.6 L812.28,641 L813.83,641.38 L815.36,641.75 L816.83,642.11 L818.23,642.45 L819.55,642.77 L820.75,643.07 L821.8,643.34 L822.67,643.58 L823.31,643.77 L823.77,643.91 L824.17,644.03 L824.55,644.16 L824.95,644.3 L825.42,644.47 L825.97,644.68 L826.65,644.96 L827.47,645.3 L828.46,645.71 L829.6,646.17 L830.89,646.66 L832.17,647.13 L833.23,647.49 L834.17,647.81 L835.13,648.14 L836.1,648.46 L837.09,648.79 L838.1,649.11 L839.12,649.43 L840.16,649.75 L841.23,650.06 L842.31,650.36 L843.41,650.66 L844.63,650.96 L846.03,651.29 L847.44,651.58 L848.72,651.82 L849.84,652.01 L850.79,652.17 L851.59,652.3 L852.25,652.4 L852.78,652.49 L853.2,652.55 L853.55,652.6 L853.87,652.63 L854.19,652.65 L854.65,652.7 L855.35,652.8 L856.24,652.95 L857.27,653.14 L858.42,653.37 L859.64,653.62 L860.91,653.89 L862.23,654.18 L863.59,654.49 L864.98,654.81 L866.42,655.14 L867.81,655.46 L868.94,655.72 L869.91,655.94 L870.89,656.18 L871.9,656.43 L872.96,656.67 L874.05,656.9 L875.16,657.11 L876.26,657.28 L877.31,657.42 L878.3,657.52 L879.24,657.59 L880.23,657.64 L881.37,657.65 L882.57,657.64 L883.75,657.59 L884.91,657.53 L886.07,657.44 L887.22,657.34 L888.35,657.22 L889.47,657.1 L890.58,656.96 L891.67,656.81 L892.74,656.66 L893.73,656.51 L894.61,656.37 L895.46,656.23 L896.37,656.08 L897.34,655.9 L898.38,655.71 L899.48,655.49 L900.64,655.22 L901.87,654.92 L903.15,654.57 L904.48,654.16 L905.86,653.68 L907.28,653.14 L908.7,652.53 L910.05,651.89 L911.3,651.24 L912.47,650.6 L913.58,649.95 L914.63,649.3 L915.62,648.66 L916.57,648.02 L917.48,647.39 L918.34,646.77 L919.18,646.14 L920.16,645.37 L921.5,644.22 L923,642.73 L924.34,641.18 L925.41,639.77 L926.12,638.72 L926.48,638.2 L926.52,638.2 L926.3,638.58 L925.92,639.17 L925.48,639.76 L925.06,640.25 L924.87,640.47 L925.01,640.36 L925.39,640.04 L925.91,639.61 L926.53,639.1 L927.24,638.52 L928.03,637.88 L928.87,637.2 L929.76,636.48 L930.69,635.73 L931.65,634.95 L932.63,634.14 L933.52,633.39 L934.2,632.83 L934.79,632.35 L935.44,631.84 L936.18,631.25 L937.05,630.57 L938.02,629.79 L939.11,628.9 L940.28,627.91 L941.54,626.81 L942.87,625.6 L944.29,624.27 L945.77,622.84 L947.31,621.32 L948.95,619.67 L950.69,617.9 L952.52,616.03 L954.42,614.07 L956.35,612.06 L958.3,610.01 L960.24,607.95 L962.16,605.91 L964.02,603.9 L965.81,601.94 L967.54,600.02 L969.25,598.07 L970.92,596.1 L972.52,594.16 L974.05,592.27 L975.51,590.45 L976.89,588.71 L978.18,587.08 L979.38,585.56 L980.48,584.19 L981.45,583 L982.28,582.02 L982.95,581.26 L983.49,580.68 L983.91,580.24 L984.23,579.93 L984.48,579.71 L984.7,579.52 L984.95,579.32 L985.3,579.04 L985.81,578.65 L986.51,578.1 L987.4,577.38 L988.45,576.49 L989.47,575.56 L990.31,574.77 L991.02,574.07 L991.72,573.39 L992.39,572.73 L993.03,572.08 L993.63,571.47 L994.2,570.9 L994.71,570.37 L995.17,569.9 L995.56,569.5 L995.85,569.2 L996.09,568.96 L965.91,539.04 L965.58,539.37 L965.18,539.78 L964.76,540.2 L964.32,540.66 L963.85,541.14 L963.36,541.64 L962.85,542.15 L962.34,542.67 L961.83,543.17 L961.34,543.66 L960.86,544.12 L960.53,544.44 L960.41,544.55 L960.36,544.59 L960.16,544.75 L959.76,545.05 L959.15,545.53 L958.33,546.17 L957.34,546.98 L956.24,547.93 L955.06,549.01 L953.83,550.2 L952.57,551.51 L951.25,552.94 L949.91,554.49 L948.6,556.07 L947.32,557.67 L946.05,559.28 L944.79,560.92 L943.51,562.56 L942.24,564.21 L940.96,565.84 L939.68,567.44 L938.4,569.01 L937.14,570.51 L935.86,571.98 L934.45,573.56 L932.87,575.3 L931.18,577.13 L929.42,579.02 L927.62,580.93 L925.8,582.84 L923.99,584.72 L922.23,586.53 L920.54,588.26 L918.95,589.87 L917.5,591.32 L916.23,592.56 L915.19,593.55 L914.31,594.37 L913.54,595.05 L912.85,595.63 L912.22,596.14 L911.6,596.63 L910.95,597.12 L910.24,597.66 L909.43,598.28 L908.51,598.98 L907.48,599.79 L906.48,600.61 L905.62,601.31 L904.82,601.96 L903.99,602.63 L903.12,603.32 L902.23,604.02 L901.33,604.74 L900.43,605.47 L899.52,606.21 L898.61,606.97 L897.69,607.75 L896.77,608.57 L895.73,609.53 L894.54,610.73 L893.32,612.1 L892.23,613.5 L891.32,614.82 L890.66,615.9 L890.31,616.55 L890.29,616.66 L890.62,616.23 L891.24,615.43 L892.05,614.51 L892.9,613.68 L893.44,613.23 L893.49,613.2 L893.31,613.35 L893.1,613.52 L892.86,613.69 L892.61,613.86 L892.37,614.02 L892.15,614.16 L891.96,614.26 L891.83,614.33 L891.76,614.35 L891.8,614.33 L891.92,614.26 L892.05,614.2 L892.12,614.15 L892.15,614.12 L892.11,614.1 L892,614.1 L891.81,614.1 L891.53,614.12 L891.17,614.14 L890.71,614.17 L890.16,614.21 L889.52,614.25 L888.87,614.29 L888.27,614.32 L887.67,614.33 L887.03,614.34 L886.36,614.34 L885.68,614.34 L885,614.32 L884.33,614.3 L883.7,614.28 L883.11,614.25 L882.6,614.22 L882.17,614.19 L881.77,614.16 L881.34,614.15 L880.99,614.14 L880.79,614.16 L880.71,614.2 L880.71,614.25 L880.73,614.3 L880.72,614.34 L880.62,614.36 L880.4,614.33 L880.03,614.26 L879.51,614.11 L878.99,613.94 L878.53,613.74 L877.95,613.46 L877.17,613.08 L876.24,612.63 L875.2,612.11 L874.06,611.56 L872.86,610.97 L871.58,610.38 L870.25,609.79 L868.86,609.21 L867.38,608.66 L865.81,608.15 L864.23,607.7 L862.72,607.34 L861.32,607.06 L860.05,606.84 L858.94,606.68 L857.98,606.55 L857.2,606.46 L856.58,606.4 L856.12,606.35 L855.81,606.31 L855.61,606.29 L855.37,606.24 L854.93,606.12 L854.36,605.98 L853.77,605.82 L853.17,605.64 L852.55,605.46 L851.9,605.26 L851.24,605.06 L850.57,604.83 L849.87,604.6 L849.16,604.35 L848.43,604.1 L847.83,603.87 L847.48,603.73 L847.22,603.61 L846.85,603.42 L846.35,603.17 L845.68,602.84 L844.85,602.43 L843.85,601.96 L842.69,601.43 L841.38,600.88 L839.93,600.32 L838.36,599.76 L836.69,599.23 L835.01,598.75 L833.35,598.32 L831.73,597.93 L830.12,597.56 L828.54,597.22 L827,596.89 L825.49,596.58 L824.05,596.28 L822.68,596 L821.42,595.74 L820.3,595.49 L819.36,595.29 L818.61,595.11 L817.91,594.94 L817.16,594.75 L816.32,594.52 L815.35,594.25 L814.23,593.92 L812.96,593.55 L811.53,593.14 L809.94,592.71 L808.22,592.27 L806.37,591.85 L804.52,591.46 L802.79,591.12 L801.1,590.79 L799.34,590.46 L797.53,590.13 L795.66,589.8 L793.75,589.48 L791.79,589.17 L789.79,588.88 L787.75,588.61 L785.67,588.37 L783.56,588.16 L781.37,587.99 L779.02,587.86 L776.59,587.78 L774.15,587.74 L771.71,587.72 L769.3,587.73 L766.96,587.76 L764.73,587.8 L762.64,587.84 L760.76,587.88 L759.13,587.92 L757.84,587.94 L756.82,587.95Z" fill="#4b4aa0" opacity="0.45" filter="url(#bl3)"/>
<path d="M775.72,763.49 L776.87,763.27 L778.36,763.04 L780.41,762.75 L782.85,762.41 L785.59,762.01 L788.55,761.54 L791.67,760.98 L794.89,760.31 L798.19,759.5 L801.54,758.51 L804.93,757.27 L808.32,755.69 L811.45,753.8 L814.23,751.77 L816.68,749.65 L818.85,747.52 L820.79,745.43 L822.53,743.42 L824.11,741.51 L825.55,739.74 L826.87,738.14 L828.07,736.73 L829.17,735.54 L830.27,734.45 L831.56,733.26 L832.98,731.99 L834.43,730.71 L835.92,729.43 L837.44,728.14 L839,726.82 L840.6,725.46 L842.24,724.06 L843.91,722.61 L845.61,721.1 L847.34,719.53 L849.1,717.87 L850.84,716.17 L852.55,714.43 L854.23,712.69 L855.86,710.95 L857.47,709.22 L859.05,707.52 L860.6,705.85 L862.12,704.23 L863.62,702.66 L865.08,701.17 L866.51,699.76 L867.95,698.4 L869.46,697.02 L871.06,695.59 L872.69,694.16 L874.34,692.74 L875.98,691.35 L877.61,690.01 L879.2,688.72 L880.74,687.51 L882.19,686.39 L883.55,685.38 L884.79,684.51 L885.85,683.8 L886.73,683.27 L887.44,682.91 L887.99,682.68 L888.43,682.56 L888.78,682.51 L889.09,682.49 L889.43,682.47 L889.86,682.41 L890.44,682.29 L891.2,682.09 L892.15,681.8 L893.14,681.46 L894,681.16 L894.74,680.92 L895.42,680.69 L896.06,680.49 L896.65,680.3 L897.18,680.15 L897.67,680.01 L898.09,679.91 L898.45,679.82 L898.75,679.76 L898.99,679.72 L899.14,679.7 L899.25,679.69 L899.45,679.67 L899.74,679.65 L900.11,679.63 L900.54,679.61 L901.02,679.6 L901.54,679.61 L902.07,679.62 L902.62,679.64 L903.17,679.68 L903.71,679.72 L904.21,679.76 L904.58,679.79 L904.73,679.78 L904.68,679.73 L904.48,679.64 L904.22,679.53 L904.01,679.42 L903.95,679.35 L904.07,679.37 L904.41,679.47 L904.93,679.67 L905.64,679.95 L906.47,680.3 L907.37,680.67 L908.31,681.08 L909.32,681.53 L910.37,682.01 L911.45,682.51 L912.56,683.03 L913.68,683.57 L914.79,684.12 L915.87,684.66 L916.92,685.2 L917.91,685.72 L918.83,686.21 L919.75,686.72 L920.73,687.29 L921.78,687.92 L922.87,688.59 L923.99,689.29 L925.13,690.01 L926.28,690.74 L927.43,691.48 L928.58,692.2 L929.7,692.92 L930.81,693.6 L931.89,694.27 L932.95,694.89 L933.97,695.46 L934.92,695.96 L935.8,696.41 L936.61,696.8 L937.35,697.15 L938.01,697.46 L938.6,697.73 L939.11,697.98 L939.55,698.2 L939.92,698.4 L940.23,698.59 L940.48,698.77 L940.68,698.93 L940.87,699.11 L941.06,699.32 L941.27,699.59 L941.5,699.91 L941.77,700.31 L942.07,700.8 L942.43,701.37 L942.83,702.04 L943.29,702.78 L943.74,703.51 L944.13,704.15 L944.5,704.82 L944.91,705.57 L945.34,706.39 L945.78,707.24 L946.21,708.1 L946.64,708.95 L947.05,709.77 L947.43,710.54 L947.78,711.24 L948.11,711.88 L948.37,712.38 L975.63,695.62 L975.35,695.24 L975,694.76 L974.56,694.15 L974.05,693.44 L973.49,692.66 L972.89,691.82 L972.26,690.94 L971.61,690.04 L970.95,689.12 L970.3,688.21 L969.64,687.3 L969.06,686.49 L968.6,685.87 L968.19,685.3 L967.75,684.68 L967.27,684 L966.75,683.25 L966.17,682.44 L965.53,681.56 L964.83,680.63 L964.06,679.66 L963.22,678.65 L962.32,677.63 L961.37,676.61 L960.41,675.62 L959.47,674.68 L958.54,673.77 L957.64,672.91 L956.76,672.08 L955.9,671.29 L955.06,670.52 L954.23,669.77 L953.41,669.04 L952.59,668.33 L951.76,667.63 L950.91,666.93 L949.98,666.19 L948.96,665.39 L947.87,664.55 L946.71,663.68 L945.5,662.78 L944.24,661.86 L942.94,660.94 L941.6,660.01 L940.23,659.08 L938.84,658.17 L937.42,657.27 L935.97,656.39 L934.51,655.54 L933.04,654.74 L931.58,653.97 L930.13,653.24 L928.71,652.54 L927.31,651.88 L925.96,651.25 L924.67,650.66 L923.44,650.11 L922.3,649.59 L921.25,649.12 L920.33,648.7 L919.57,648.35 L918.9,648.02 L918.23,647.69 L917.51,647.34 L916.68,646.97 L915.72,646.57 L914.65,646.17 L913.52,645.8 L912.39,645.48 L911.33,645.23 L910.34,645.02 L909.39,644.84 L908.44,644.68 L907.43,644.52 L906.35,644.36 L905.21,644.22 L904,644.1 L902.74,644 L901.42,643.92 L900.03,643.89 L898.59,643.89 L897.07,643.96 L895.49,644.09 L893.86,644.3 L892.29,644.57 L890.81,644.89 L889.39,645.25 L888.04,645.65 L886.74,646.07 L885.5,646.52 L884.32,646.98 L883.19,647.45 L882.11,647.93 L881.09,648.41 L880.11,648.89 L879.26,649.34 L878.6,649.7 L877.98,650.06 L877.24,650.48 L876.34,650.98 L875.31,651.57 L874.15,652.26 L872.9,653.04 L871.61,653.91 L870.28,654.87 L868.93,655.9 L867.56,657.01 L866.15,658.2 L864.7,659.47 L863.22,660.81 L861.69,662.22 L860.12,663.71 L858.5,665.25 L856.85,666.84 L855.18,668.47 L853.5,670.13 L851.82,671.8 L850.14,673.47 L848.5,675.13 L846.85,676.8 L845.18,678.52 L843.5,680.28 L841.85,682.05 L840.23,683.8 L838.63,685.54 L837.06,687.26 L835.52,688.94 L834.01,690.58 L832.53,692.16 L831.08,693.69 L829.68,695.14 L828.3,696.53 L826.94,697.86 L825.55,699.17 L824.13,700.48 L822.68,701.79 L821.19,703.11 L819.67,704.46 L818.11,705.83 L816.52,707.25 L814.89,708.71 L813.23,710.22 L811.55,711.8 L809.73,713.55 L807.8,715.55 L805.97,717.63 L804.32,719.63 L802.83,721.52 L801.46,723.27 L800.19,724.87 L799.02,726.28 L797.95,727.5 L796.97,728.5 L796.09,729.3 L795.33,729.9 L794.68,730.31 L793.84,730.73 L792.46,731.25 L790.63,731.81 L788.48,732.36 L786.12,732.87 L783.64,733.34 L781.14,733.76 L778.67,734.15 L776.3,734.5 L774.07,734.83 L771.95,735.18 L770.28,735.51Z" fill="#4b4aa0" opacity="0.35" filter="url(#bl3)"/>
<path d="M757.08,613.65 L758.25,613.64 L759.73,613.62 L761.41,613.59 L763.28,613.56 L765.28,613.53 L767.39,613.5 L769.54,613.48 L771.7,613.48 L773.81,613.48 L775.83,613.51 L777.68,613.56 L779.35,613.63 L780.95,613.72 L782.59,613.84 L784.24,613.96 L785.88,614.11 L787.51,614.27 L789.12,614.44 L790.7,614.63 L792.25,614.84 L793.75,615.05 L795.21,615.29 L796.61,615.54 L797.89,615.79 L798.99,616.03 L799.94,616.29 L800.83,616.57 L801.7,616.87 L802.56,617.2 L803.46,617.56 L804.41,617.95 L805.44,618.36 L806.57,618.79 L807.79,619.24 L809.13,619.69 L810.55,620.12 L812.01,620.53 L813.48,620.93 L814.98,621.31 L816.48,621.68 L817.98,622.04 L819.46,622.4 L820.9,622.75 L822.28,623.08 L823.59,623.41 L824.78,623.72 L825.85,624.01 L826.76,624.27 L827.54,624.51 L828.24,624.75 L828.9,624.98 L829.54,625.21 L830.19,625.46 L830.87,625.73 L831.59,626.02 L832.38,626.35 L833.24,626.7 L834.19,627.08 L835.22,627.47 L836.26,627.84 L837.2,628.17 L838.09,628.47 L838.98,628.77 L839.88,629.07 L840.79,629.37 L841.7,629.66 L842.63,629.95 L843.56,630.24 L844.5,630.51 L845.45,630.78 L846.41,631.04 L847.43,631.3 L848.53,631.55 L849.63,631.78 L850.65,631.97 L851.59,632.14 L852.46,632.28 L853.25,632.41 L853.99,632.53 L854.67,632.64 L855.31,632.74 L855.94,632.84 L856.56,632.94 L857.22,633.04 L857.98,633.17 L858.9,633.34 L859.95,633.54 L861.08,633.76 L862.28,634.01 L863.53,634.27 L864.8,634.54 L866.07,634.81 L867.33,635.08 L868.57,635.36 L869.79,635.63 L870.93,635.87 L871.9,636.08 L872.74,636.28 L873.55,636.48 L874.34,636.68 L875.12,636.87 L875.91,637.05 L876.7,637.21 L877.49,637.35 L878.27,637.46 L879.04,637.55 L879.82,637.61 L880.66,637.64 L881.59,637.65 L882.58,637.64 L883.57,637.6 L884.58,637.53 L885.59,637.45 L886.6,637.36 L887.6,637.25 L888.6,637.13 L889.58,637 L890.54,636.86 L891.48,636.73 L892.36,636.59 L893.17,636.46 L893.96,636.32 L894.77,636.18 L895.59,636.03 L896.43,635.87 L897.29,635.69 L898.17,635.48 L899.08,635.25 L900,634.99 L900.94,634.69 L901.9,634.36 L902.87,633.98 L903.85,633.55 L904.79,633.1 L905.7,632.63 L906.57,632.15 L907.41,631.65 L908.22,631.15 L909,630.65 L909.75,630.15 L910.47,629.65 L911.15,629.16 L911.8,628.68 L912.49,628.14 L913.3,627.46 L914.13,626.65 L914.87,625.81 L915.47,625.04 L915.9,624.43 L916.18,624.04 L916.33,623.86 L916.38,623.84 L916.38,623.89 L916.38,623.94 L916.44,623.91 L916.64,623.74 L917.04,623.39 L917.58,622.93 L918.21,622.41 L918.92,621.83 L919.68,621.2 L920.5,620.54 L921.36,619.85 L922.25,619.13 L923.16,618.39 L924.08,617.64 L925.01,616.87 L925.89,616.14 L926.65,615.5 L927.36,614.93 L928.09,614.35 L928.85,613.75 L929.67,613.11 L930.55,612.4 L931.49,611.62 L932.51,610.76 L933.6,609.81 L934.77,608.74 L936.04,607.56 L937.39,606.25 L938.85,604.8 L940.44,603.21 L942.14,601.49 L943.93,599.66 L945.78,597.74 L947.68,595.77 L949.59,593.76 L951.5,591.74 L953.37,589.74 L955.18,587.78 L956.91,585.89 L958.55,584.06 L960.14,582.25 L961.7,580.42 L963.21,578.59 L964.68,576.78 L966.09,575.02 L967.44,573.31 L968.73,571.68 L969.96,570.13 L971.11,568.7 L972.17,567.39 L973.14,566.24 L974,565.26 L974.76,564.44 L975.42,563.76 L976,563.2 L976.51,562.74 L976.98,562.33 L977.43,561.96 L977.92,561.58 L978.45,561.16 L979.07,560.68 L979.77,560.12 L980.53,559.47 L981.3,558.77 L981.99,558.11 L982.64,557.49 L983.28,556.86 L983.9,556.24 L984.51,555.63 L985.08,555.05 L985.63,554.49 L986.13,553.98 L986.58,553.52 L986.98,553.11 L987.3,552.78 L987.57,552.51 L974.43,539.49 L974.13,539.79 L973.76,540.17 L973.35,540.59 L972.9,541.05 L972.42,541.54 L971.9,542.06 L971.37,542.6 L970.82,543.15 L970.27,543.71 L969.72,544.25 L969.18,544.77 L968.7,545.23 L968.33,545.56 L967.99,545.85 L967.6,546.16 L967.12,546.53 L966.53,546.99 L965.84,547.53 L965.06,548.16 L964.21,548.9 L963.29,549.74 L962.32,550.68 L961.3,551.74 L960.2,552.94 L959.05,554.26 L957.88,555.68 L956.69,557.16 L955.48,558.71 L954.23,560.32 L952.96,561.96 L951.66,563.64 L950.33,565.33 L948.98,567.01 L947.62,568.69 L946.25,570.33 L944.85,571.94 L943.35,573.61 L941.71,575.42 L939.97,577.3 L938.17,579.23 L936.33,581.18 L934.47,583.13 L932.63,585.05 L930.83,586.91 L929.1,588.67 L927.46,590.32 L925.96,591.83 L924.61,593.15 L923.44,594.27 L922.41,595.22 L921.47,596.05 L920.62,596.77 L919.83,597.42 L919.08,598.01 L918.33,598.58 L917.57,599.16 L916.78,599.76 L915.93,600.41 L915.03,601.12 L914.11,601.86 L913.25,602.58 L912.39,603.27 L911.52,603.97 L910.64,604.67 L909.75,605.38 L908.86,606.09 L907.99,606.79 L907.14,607.48 L906.31,608.17 L905.51,608.86 L904.74,609.54 L903.96,610.26 L903.17,611.07 L902.42,611.92 L901.77,612.77 L901.24,613.57 L900.85,614.24 L900.61,614.71 L900.51,614.95 L900.55,614.95 L900.71,614.8 L900.92,614.6 L901.11,614.44 L901.11,614.46 L900.87,614.66 L900.51,614.96 L900.11,615.26 L899.68,615.57 L899.23,615.87 L898.78,616.17 L898.32,616.45 L897.86,616.71 L897.43,616.94 L897.02,617.14 L896.65,617.3 L896.33,617.42 L896.01,617.52 L895.67,617.62 L895.3,617.7 L894.9,617.77 L894.47,617.84 L894,617.9 L893.48,617.96 L892.92,618.01 L892.32,618.06 L891.66,618.11 L890.96,618.16 L890.24,618.21 L889.53,618.25 L888.79,618.28 L888.02,618.3 L887.23,618.31 L886.42,618.31 L885.61,618.31 L884.82,618.29 L884.04,618.27 L883.29,618.25 L882.59,618.22 L881.95,618.19 L881.34,618.16 L880.76,618.13 L880.25,618.12 L879.82,618.12 L879.47,618.13 L879.17,618.15 L878.88,618.15 L878.56,618.14 L878.19,618.11 L877.74,618.04 L877.2,617.92 L876.56,617.74 L875.87,617.53 L875.16,617.26 L874.36,616.91 L873.43,616.48 L872.41,616 L871.32,615.47 L870.17,614.91 L868.99,614.33 L867.78,613.76 L866.55,613.2 L865.31,612.68 L864.05,612.19 L862.78,611.76 L861.53,611.4 L860.34,611.1 L859.21,610.87 L858.16,610.69 L857.2,610.55 L856.32,610.44 L855.53,610.35 L854.82,610.27 L854.19,610.19 L853.63,610.11 L853.11,610.02 L852.57,609.9 L851.92,609.74 L851.22,609.56 L850.5,609.36 L849.78,609.15 L849.04,608.94 L848.3,608.71 L847.55,608.47 L846.79,608.22 L846.02,607.97 L845.25,607.7 L844.47,607.42 L843.74,607.16 L843.16,606.92 L842.63,606.69 L842.07,606.42 L841.44,606.12 L840.74,605.77 L839.96,605.38 L839.08,604.97 L838.1,604.52 L837.03,604.07 L835.86,603.61 L834.59,603.16 L833.24,602.73 L831.82,602.32 L830.37,601.95 L828.89,601.59 L827.39,601.25 L825.88,600.92 L824.36,600.6 L822.86,600.29 L821.4,599.99 L819.98,599.69 L818.63,599.41 L817.38,599.13 L816.25,598.88 L815.26,598.64 L814.32,598.4 L813.39,598.15 L812.44,597.88 L811.44,597.59 L810.37,597.28 L809.22,596.95 L807.98,596.6 L806.64,596.24 L805.22,595.89 L803.69,595.54 L802.11,595.21 L800.54,594.91 L798.96,594.6 L797.31,594.29 L795.62,593.97 L793.87,593.66 L792.08,593.36 L790.25,593.07 L788.39,592.8 L786.49,592.55 L784.57,592.32 L782.63,592.13 L780.65,591.97 L778.55,591.85 L776.32,591.78 L774.03,591.74 L771.71,591.72 L769.39,591.73 L767.11,591.76 L764.93,591.8 L762.87,591.84 L760.99,591.88 L759.34,591.92 L757.99,591.94 L756.92,591.95Z" fill="#4b4aa0" opacity="0.7" filter="url(#bl2)"/>
<path d="M773.81,753.67 L775.14,753.42 L776.86,753.15 L778.97,752.86 L781.39,752.52 L784.03,752.13 L786.83,751.68 L789.73,751.16 L792.66,750.56 L795.56,749.85 L798.38,749.03 L801.08,748.04 L803.58,746.88 L805.86,745.51 L807.95,743.98 L809.86,742.34 L811.63,740.61 L813.28,738.83 L814.84,737.03 L816.32,735.24 L817.75,733.49 L819.14,731.8 L820.51,730.2 L821.86,728.71 L823.26,727.32 L824.74,725.95 L826.26,724.58 L827.79,723.24 L829.34,721.91 L830.89,720.58 L832.46,719.25 L834.05,717.91 L835.64,716.55 L837.25,715.16 L838.86,713.72 L840.49,712.24 L842.12,710.71 L843.75,709.12 L845.36,707.48 L846.96,705.82 L848.55,704.13 L850.13,702.44 L851.7,700.74 L853.26,699.06 L854.81,697.41 L856.36,695.79 L857.9,694.21 L859.43,692.7 L860.96,691.25 L862.55,689.8 L864.19,688.33 L865.87,686.85 L867.56,685.39 L869.26,683.95 L870.94,682.56 L872.59,681.22 L874.19,679.95 L875.72,678.76 L877.18,677.68 L878.53,676.71 L879.75,675.87 L880.83,675.19 L881.78,674.66 L882.62,674.25 L883.37,673.94 L884.04,673.71 L884.66,673.53 L885.27,673.38 L885.91,673.23 L886.61,673.06 L887.39,672.85 L888.26,672.59 L889.18,672.28 L890.05,671.98 L890.86,671.7 L891.66,671.43 L892.43,671.17 L893.18,670.92 L893.9,670.7 L894.6,670.49 L895.27,670.31 L895.92,670.15 L896.53,670.01 L897.12,669.9 L897.66,669.81 L898.2,669.75 L898.78,669.69 L899.42,669.65 L900.09,669.63 L900.79,669.61 L901.5,669.62 L902.23,669.63 L902.96,669.66 L903.67,669.7 L904.37,669.75 L905.04,669.81 L905.68,669.87 L906.21,669.92 L906.6,669.96 L906.88,669.98 L907.06,669.98 L907.21,669.98 L907.37,670 L907.61,670.05 L907.94,670.15 L908.39,670.3 L908.97,670.52 L909.67,670.8 L910.49,671.14 L911.39,671.52 L912.37,671.94 L913.42,672.41 L914.52,672.91 L915.66,673.44 L916.84,673.99 L918.04,674.57 L919.24,675.16 L920.43,675.76 L921.6,676.36 L922.73,676.96 L923.81,677.54 L924.89,678.15 L926.01,678.8 L927.17,679.5 L928.35,680.23 L929.55,680.98 L930.75,681.74 L931.95,682.5 L933.13,683.26 L934.3,684 L935.44,684.72 L936.54,685.41 L937.6,686.06 L938.63,686.66 L939.63,687.21 L940.58,687.72 L941.49,688.18 L942.36,688.62 L943.18,689.03 L943.95,689.42 L944.68,689.8 L945.37,690.18 L946.01,690.57 L946.61,690.97 L947.16,691.38 L947.66,691.81 L948.12,692.24 L948.53,692.68 L948.92,693.14 L949.3,693.62 L949.66,694.13 L950.03,694.67 L950.39,695.25 L950.78,695.87 L951.18,696.53 L951.61,697.23 L952.04,697.93 L952.47,698.64 L952.91,699.4 L953.36,700.23 L953.83,701.11 L954.29,702 L954.75,702.89 L955.19,703.77 L955.6,704.6 L955.99,705.37 L956.34,706.06 L956.64,706.67 L956.89,707.14 L967.11,700.86 L966.82,700.45 L966.45,699.94 L966,699.32 L965.49,698.62 L964.94,697.85 L964.35,697.03 L963.74,696.18 L963.12,695.32 L962.5,694.46 L961.89,693.62 L961.3,692.81 L960.76,692.07 L960.28,691.43 L959.84,690.81 L959.4,690.19 L958.95,689.55 L958.49,688.89 L958.01,688.22 L957.51,687.53 L956.97,686.81 L956.4,686.09 L955.79,685.34 L955.14,684.58 L954.44,683.82 L953.72,683.05 L953,682.31 L952.28,681.57 L951.55,680.84 L950.82,680.12 L950.07,679.41 L949.31,678.7 L948.54,677.99 L947.74,677.29 L946.93,676.58 L946.08,675.86 L945.2,675.14 L944.25,674.38 L943.23,673.59 L942.15,672.75 L941.02,671.9 L939.84,671.02 L938.62,670.14 L937.38,669.25 L936.12,668.37 L934.84,667.51 L933.56,666.66 L932.27,665.84 L930.99,665.06 L929.69,664.31 L928.37,663.58 L927.03,662.87 L925.68,662.19 L924.35,661.54 L923.03,660.92 L921.75,660.32 L920.52,659.76 L919.34,659.23 L918.24,658.73 L917.22,658.28 L916.31,657.86 L915.54,657.5 L914.86,657.17 L914.24,656.86 L913.64,656.57 L913.02,656.27 L912.37,655.99 L911.67,655.71 L910.94,655.46 L910.2,655.24 L909.45,655.05 L908.7,654.88 L907.92,654.73 L907.1,654.59 L906.22,654.45 L905.3,654.31 L904.33,654.18 L903.31,654.07 L902.26,653.98 L901.17,653.92 L900.05,653.89 L898.91,653.89 L897.74,653.93 L896.54,654.03 L895.34,654.19 L894.17,654.39 L893.03,654.64 L891.93,654.93 L890.85,655.25 L889.8,655.59 L888.78,655.96 L887.79,656.36 L886.82,656.77 L885.88,657.19 L884.96,657.63 L884.06,658.08 L883.22,658.52 L882.49,658.92 L881.8,659.31 L881.07,659.72 L880.3,660.17 L879.46,660.66 L878.58,661.22 L877.64,661.84 L876.67,662.53 L875.65,663.3 L874.59,664.15 L873.46,665.09 L872.25,666.13 L870.96,667.27 L869.6,668.51 L868.16,669.85 L866.66,671.26 L865.11,672.75 L863.53,674.29 L861.91,675.87 L860.28,677.48 L858.64,679.11 L857.02,680.74 L855.41,682.35 L853.84,683.95 L852.26,685.57 L850.68,687.24 L849.11,688.92 L847.54,690.62 L845.97,692.33 L844.42,694.03 L842.87,695.72 L841.32,697.4 L839.79,699.04 L838.27,700.64 L836.77,702.19 L835.28,703.69 L833.8,705.14 L832.3,706.55 L830.79,707.94 L829.28,709.3 L827.75,710.66 L826.21,712.02 L824.66,713.39 L823.1,714.78 L821.53,716.19 L819.95,717.63 L818.37,719.12 L816.74,720.68 L815.1,722.38 L813.53,724.17 L812.05,725.98 L810.63,727.78 L809.25,729.55 L807.89,731.26 L806.53,732.89 L805.17,734.41 L803.79,735.82 L802.37,737.08 L800.92,738.19 L799.42,739.12 L797.69,739.96 L795.62,740.74 L793.26,741.46 L790.71,742.11 L788.05,742.68 L785.36,743.19 L782.69,743.64 L780.13,744.04 L777.74,744.39 L775.57,744.72 L773.68,745.03 L772.19,745.33Z" fill="#4b4aa0" opacity="0.5" filter="url(#bl2)"/>
<path d="M757.04,602.65 L758.19,602.64 L759.64,602.62 L761.32,602.59 L763.18,602.56 L765.2,602.53 L767.32,602.5 L769.51,602.48 L771.7,602.48 L773.86,602.48 L775.94,602.51 L777.88,602.56 L779.65,602.64 L781.34,602.74 L783.05,602.86 L784.76,602.99 L786.46,603.14 L788.15,603.31 L789.82,603.49 L791.45,603.69 L793.05,603.9 L794.6,604.13 L796.1,604.37 L797.54,604.62 L798.89,604.89 L800.1,605.16 L801.19,605.45 L802.21,605.77 L803.18,606.1 L804.12,606.45 L805.07,606.83 L806.04,607.22 L807.06,607.63 L808.14,608.05 L809.29,608.47 L810.53,608.89 L811.85,609.3 L813.22,609.68 L814.65,610.06 L816.11,610.44 L817.59,610.8 L819.08,611.16 L820.56,611.52 L822.01,611.87 L823.42,612.22 L824.77,612.55 L826.03,612.88 L827.18,613.19 L828.2,613.49 L829.1,613.77 L829.93,614.04 L830.71,614.32 L831.45,614.59 L832.18,614.87 L832.91,615.16 L833.65,615.47 L834.42,615.79 L835.24,616.12 L836.1,616.46 L837.02,616.81 L837.96,617.14 L838.85,617.45 L839.72,617.74 L840.58,618.04 L841.45,618.33 L842.32,618.61 L843.2,618.9 L844.09,619.17 L844.97,619.44 L845.86,619.7 L846.76,619.96 L847.66,620.2 L848.6,620.43 L849.57,620.66 L850.53,620.86 L851.45,621.04 L852.32,621.19 L853.15,621.33 L853.95,621.46 L854.71,621.58 L855.45,621.7 L856.19,621.82 L856.93,621.94 L857.69,622.06 L858.48,622.21 L859.37,622.37 L860.38,622.56 L861.49,622.78 L862.67,623.02 L863.9,623.28 L865.15,623.54 L866.41,623.81 L867.66,624.07 L868.89,624.33 L870.07,624.59 L871.19,624.83 L872.23,625.05 L873.13,625.24 L873.92,625.42 L874.66,625.6 L875.35,625.78 L876.03,625.95 L876.69,626.11 L877.34,626.25 L878,626.37 L878.67,626.48 L879.35,626.56 L880.06,626.61 L880.83,626.65 L881.68,626.65 L882.58,626.64 L883.5,626.6 L884.44,626.54 L885.39,626.46 L886.34,626.36 L887.29,626.26 L888.24,626.14 L889.17,626.02 L890.07,625.89 L890.95,625.75 L891.79,625.62 L892.57,625.49 L893.33,625.36 L894.1,625.23 L894.86,625.09 L895.62,624.94 L896.38,624.77 L897.15,624.59 L897.92,624.39 L898.69,624.16 L899.47,623.91 L900.25,623.64 L901.03,623.33 L901.82,622.98 L902.6,622.61 L903.37,622.21 L904.12,621.79 L904.85,621.36 L905.56,620.92 L906.25,620.48 L906.91,620.04 L907.55,619.59 L908.15,619.16 L908.72,618.74 L909.29,618.3 L909.88,617.81 L910.44,617.28 L910.92,616.74 L911.33,616.24 L911.65,615.81 L911.89,615.47 L912.08,615.22 L912.24,615.03 L912.4,614.86 L912.59,614.67 L912.84,614.43 L913.21,614.09 L913.72,613.65 L914.32,613.14 L915,612.57 L915.74,611.96 L916.53,611.32 L917.36,610.64 L918.23,609.95 L919.12,609.23 L920.02,608.5 L920.92,607.76 L921.83,607.01 L922.7,606.28 L923.51,605.61 L924.27,605 L925.02,604.4 L925.79,603.8 L926.59,603.16 L927.43,602.49 L928.32,601.76 L929.27,600.95 L930.3,600.06 L931.4,599.05 L932.6,597.93 L933.9,596.67 L935.32,595.26 L936.89,593.69 L938.57,591.98 L940.34,590.17 L942.18,588.27 L944.06,586.31 L945.96,584.32 L947.85,582.32 L949.7,580.34 L951.5,578.4 L953.2,576.53 L954.81,574.75 L956.35,573 L957.86,571.22 L959.33,569.43 L960.77,567.66 L962.16,565.92 L963.51,564.23 L964.8,562.59 L966.03,561.04 L967.2,559.57 L968.31,558.22 L969.33,557 L970.27,555.93 L971.12,555.01 L971.88,554.23 L972.57,553.57 L973.19,553 L973.76,552.51 L974.3,552.06 L974.84,551.64 L975.39,551.21 L975.97,550.76 L976.59,550.26 L977.24,549.71 L977.89,549.11 L978.53,548.51 L979.15,547.91 L979.76,547.3 L980.37,546.7 L980.96,546.11 L981.52,545.54 L982.06,544.99 L982.55,544.49 L983.01,544.02 L983.41,543.61 L983.74,543.27 L984.02,542.99 L977.98,537.01 L977.69,537.3 L977.33,537.67 L976.93,538.08 L976.48,538.54 L975.99,539.04 L975.47,539.57 L974.92,540.13 L974.36,540.69 L973.79,541.26 L973.21,541.83 L972.64,542.38 L972.11,542.89 L971.63,543.32 L971.17,543.7 L970.7,544.08 L970.18,544.49 L969.61,544.93 L968.97,545.43 L968.28,545.99 L967.53,546.64 L966.73,547.37 L965.86,548.21 L964.93,549.17 L963.93,550.27 L962.86,551.5 L961.75,552.85 L960.6,554.29 L959.4,555.81 L958.17,557.4 L956.89,559.05 L955.58,560.73 L954.24,562.45 L952.86,564.17 L951.46,565.89 L950.04,567.58 L948.59,569.25 L947.06,570.97 L945.39,572.8 L943.64,574.7 L941.82,576.65 L939.96,578.62 L938.09,580.59 L936.23,582.52 L934.41,584.39 L932.66,586.18 L931.01,587.85 L929.48,589.38 L928.1,590.73 L926.88,591.9 L925.78,592.91 L924.78,593.8 L923.86,594.58 L923.01,595.28 L922.2,595.92 L921.41,596.53 L920.63,597.12 L919.84,597.71 L919.02,598.34 L918.17,599.01 L917.3,599.72 L916.42,600.44 L915.55,601.15 L914.66,601.86 L913.77,602.57 L912.88,603.28 L912,603.98 L911.14,604.67 L910.31,605.35 L909.51,606.01 L908.76,606.65 L908.06,607.28 L907.39,607.91 L906.76,608.55 L906.21,609.19 L905.75,609.8 L905.38,610.37 L905.1,610.88 L904.9,611.28 L904.77,611.57 L904.7,611.75 L904.66,611.87 L904.61,611.96 L904.52,612.09 L904.31,612.3 L903.94,612.61 L903.5,612.96 L903.03,613.32 L902.52,613.68 L901.99,614.05 L901.44,614.4 L900.88,614.74 L900.32,615.07 L899.76,615.37 L899.21,615.64 L898.68,615.87 L898.17,616.07 L897.66,616.24 L897.14,616.39 L896.61,616.52 L896.06,616.64 L895.5,616.73 L894.91,616.82 L894.29,616.89 L893.65,616.96 L892.99,617.02 L892.29,617.07 L891.56,617.12 L890.81,617.18 L890.05,617.22 L889.26,617.26 L888.44,617.28 L887.59,617.3 L886.73,617.3 L885.87,617.3 L885.02,617.29 L884.18,617.27 L883.36,617.25 L882.59,617.22 L881.86,617.19 L881.17,617.15 L880.52,617.13 L879.94,617.11 L879.42,617.11 L878.96,617.11 L878.53,617.11 L878.1,617.09 L877.66,617.06 L877.17,617 L876.63,616.91 L876.02,616.78 L875.33,616.59 L874.57,616.35 L873.76,616.06 L872.86,615.68 L871.87,615.24 L870.81,614.74 L869.7,614.2 L868.55,613.64 L867.37,613.07 L866.19,612.5 L865,611.96 L863.83,611.45 L862.66,610.99 L861.52,610.59 L860.41,610.27 L859.35,610 L858.33,609.79 L857.38,609.63 L856.48,609.5 L855.63,609.39 L854.84,609.3 L854.09,609.21 L853.39,609.13 L852.72,609.03 L852.07,608.91 L851.4,608.77 L850.67,608.58 L849.9,608.38 L849.14,608.17 L848.36,607.95 L847.58,607.72 L846.8,607.48 L846.01,607.23 L845.22,606.97 L844.42,606.7 L843.62,606.43 L842.81,606.14 L842.04,605.86 L841.36,605.59 L840.72,605.31 L840.07,605.01 L839.4,604.68 L838.68,604.33 L837.92,603.95 L837.09,603.55 L836.19,603.14 L835.22,602.73 L834.16,602.31 L833.02,601.91 L831.8,601.51 L830.5,601.14 L829.13,600.79 L827.71,600.45 L826.25,600.12 L824.77,599.79 L823.27,599.48 L821.77,599.17 L820.29,598.86 L818.85,598.56 L817.47,598.27 L816.16,597.98 L814.95,597.7 L813.86,597.44 L812.83,597.17 L811.82,596.89 L810.82,596.61 L809.8,596.32 L808.75,596.01 L807.66,595.7 L806.5,595.38 L805.27,595.05 L803.96,594.73 L802.57,594.41 L801.11,594.11 L799.6,593.82 L798.07,593.52 L796.47,593.21 L794.82,592.91 L793.12,592.61 L791.38,592.31 L789.61,592.03 L787.8,591.76 L785.97,591.52 L784.11,591.3 L782.24,591.11 L780.35,590.96 L778.35,590.85 L776.21,590.78 L773.98,590.74 L771.71,590.72 L769.42,590.73 L767.18,590.76 L765.01,590.8 L762.96,590.84 L761.09,590.88 L759.43,590.92 L758.05,590.94 L756.96,590.95Z" fill="#f5ea0c" filter="url(#bl)"/>
<path d="M773.24,750.73 L774.63,750.46 L776.41,750.19 L778.54,749.89 L780.95,749.55 L783.56,749.17 L786.32,748.73 L789.15,748.22 L791.98,747.64 L794.77,746.96 L797.43,746.18 L799.92,745.28 L802.16,744.23 L804.18,743.02 L806.06,741.65 L807.82,740.14 L809.47,738.53 L811.03,736.85 L812.53,735.11 L813.98,733.36 L815.41,731.61 L816.82,729.89 L818.24,728.23 L819.67,726.66 L821.16,725.18 L822.69,723.75 L824.24,722.36 L825.8,720.99 L827.36,719.65 L828.93,718.31 L830.5,716.98 L832.08,715.65 L833.66,714.29 L835.25,712.92 L836.84,711.51 L838.43,710.06 L840.03,708.56 L841.62,707.01 L843.2,705.4 L844.78,703.76 L846.36,702.08 L847.92,700.4 L849.49,698.71 L851.05,697.03 L852.62,695.36 L854.18,693.72 L855.74,692.13 L857.3,690.59 L858.87,689.1 L860.47,687.63 L862.13,686.15 L863.82,684.66 L865.53,683.18 L867.24,681.74 L868.94,680.33 L870.6,678.97 L872.22,677.68 L873.78,676.48 L875.27,675.37 L876.65,674.37 L877.92,673.5 L879.06,672.77 L880.09,672.18 L881.01,671.72 L881.85,671.35 L882.61,671.07 L883.33,670.84 L884.03,670.65 L884.73,670.47 L885.46,670.29 L886.24,670.08 L887.09,669.83 L887.99,669.53 L888.86,669.22 L889.7,668.93 L890.53,668.65 L891.34,668.37 L892.14,668.11 L892.92,667.87 L893.68,667.64 L894.43,667.43 L895.16,667.25 L895.87,667.09 L896.56,666.95 L897.22,666.85 L897.89,666.76 L898.58,666.7 L899.32,666.65 L900.08,666.63 L900.86,666.61 L901.65,666.62 L902.44,666.64 L903.22,666.67 L903.99,666.72 L904.73,666.77 L905.45,666.83 L906.12,666.9 L906.7,666.96 L907.17,667.01 L907.54,667.05 L907.84,667.08 L908.1,667.12 L908.38,667.17 L908.7,667.26 L909.1,667.38 L909.59,667.55 L910.18,667.78 L910.88,668.06 L911.69,668.39 L912.6,668.77 L913.59,669.2 L914.65,669.67 L915.76,670.18 L916.93,670.72 L918.13,671.28 L919.34,671.87 L920.57,672.48 L921.79,673.09 L923,673.71 L924.17,674.33 L925.31,674.94 L926.43,675.57 L927.6,676.25 L928.79,676.97 L930,677.72 L931.22,678.48 L932.44,679.25 L933.65,680.03 L934.84,680.79 L936.01,681.54 L937.16,682.26 L938.26,682.95 L939.32,683.6 L940.34,684.19 L941.32,684.74 L942.28,685.24 L943.2,685.72 L944.08,686.16 L944.93,686.59 L945.74,687.01 L946.51,687.42 L947.25,687.84 L947.95,688.28 L948.61,688.74 L949.24,689.22 L949.82,689.73 L950.35,690.24 L950.83,690.76 L951.28,691.29 L951.71,691.83 L952.11,692.4 L952.5,692.98 L952.89,693.59 L953.28,694.22 L953.68,694.88 L954.1,695.56 L954.53,696.26 L954.97,696.98 L955.43,697.78 L955.9,698.63 L956.38,699.52 L956.85,700.43 L957.31,701.33 L957.75,702.21 L958.17,703.04 L958.56,703.82 L958.9,704.51 L959.2,705.1 L959.44,705.57 L964.56,702.43 L964.26,702.02 L963.88,701.49 L963.43,700.87 L962.93,700.17 L962.37,699.4 L961.79,698.59 L961.19,697.76 L960.57,696.91 L959.96,696.07 L959.37,695.24 L958.79,694.46 L958.27,693.74 L957.79,693.09 L957.34,692.46 L956.9,691.84 L956.46,691.21 L956.01,690.58 L955.56,689.95 L955.1,689.31 L954.61,688.67 L954.1,688.01 L953.56,687.35 L952.98,686.67 L952.36,685.98 L951.72,685.28 L951.07,684.6 L950.4,683.91 L949.73,683.22 L949.04,682.54 L948.32,681.85 L947.59,681.16 L946.83,680.46 L946.05,679.76 L945.23,679.05 L944.38,678.33 L943.48,677.6 L942.53,676.84 L941.51,676.04 L940.43,675.21 L939.31,674.36 L938.14,673.49 L936.94,672.62 L935.72,671.75 L934.48,670.88 L933.23,670.03 L931.98,669.21 L930.73,668.42 L929.49,667.66 L928.24,666.93 L926.96,666.23 L925.66,665.54 L924.35,664.88 L923.04,664.24 L921.75,663.63 L920.49,663.04 L919.27,662.49 L918.11,661.96 L917.02,661.47 L916.01,661.02 L915.11,660.61 L914.33,660.24 L913.65,659.91 L913.04,659.61 L912.48,659.33 L911.92,659.07 L911.36,658.81 L910.77,658.58 L910.16,658.36 L909.54,658.17 L908.89,658 L908.21,657.84 L907.48,657.7 L906.7,657.56 L905.86,657.42 L904.98,657.29 L904.06,657.17 L903.1,657.07 L902.11,656.98 L901.1,656.92 L900.06,656.89 L899,656.89 L897.93,656.93 L896.85,657.01 L895.78,657.15 L894.73,657.34 L893.7,657.57 L892.69,657.83 L891.7,658.12 L890.72,658.45 L889.77,658.8 L888.83,659.17 L887.91,659.56 L887.01,659.97 L886.12,660.39 L885.25,660.83 L884.41,661.27 L883.66,661.68 L882.94,662.08 L882.22,662.49 L881.48,662.92 L880.71,663.39 L879.91,663.91 L879.07,664.48 L878.19,665.12 L877.26,665.83 L876.28,666.63 L875.22,667.51 L874.08,668.5 L872.84,669.61 L871.51,670.82 L870.1,672.14 L868.63,673.53 L867.1,675 L865.53,676.52 L863.93,678.09 L862.31,679.69 L860.69,681.3 L859.08,682.92 L857.49,684.52 L855.93,686.1 L854.39,687.69 L852.84,689.32 L851.29,690.99 L849.73,692.67 L848.18,694.37 L846.62,696.07 L845.07,697.76 L843.52,699.44 L841.97,701.1 L840.43,702.72 L838.9,704.31 L837.37,705.84 L835.85,707.32 L834.32,708.76 L832.79,710.17 L831.26,711.56 L829.72,712.93 L828.17,714.29 L826.63,715.66 L825.08,717.03 L823.52,718.43 L821.97,719.85 L820.41,721.31 L818.84,722.82 L817.29,724.43 L815.8,726.13 L814.37,727.88 L812.97,729.66 L811.58,731.43 L810.19,733.17 L808.78,734.87 L807.33,736.49 L805.83,738.01 L804.26,739.41 L802.6,740.67 L800.84,741.77 L798.85,742.72 L796.57,743.58 L794.05,744.35 L791.39,745.03 L788.63,745.63 L785.87,746.15 L783.16,746.6 L780.57,747.01 L778.17,747.36 L776.03,747.69 L774.19,747.99 L772.76,748.27Z" fill="url(#fd2)" filter="url(#bl)"/>
<g fill="#f5ea0c" filter="url(#bl)"><circle cx="773" cy="749.5" r="1.4" fill-opacity="0.3"/><circle cx="778.53" cy="748.6" r="1.43" fill-opacity="0.33"/><circle cx="784.06" cy="747.77" r="1.46" fill-opacity="0.36"/><circle cx="789.58" cy="746.79" r="1.49" fill-opacity="0.41"/><circle cx="795.02" cy="745.49" r="1.52" fill-opacity="0.46"/><circle cx="800.29" cy="743.6" r="1.56" fill-opacity="0.51"/><circle cx="805.02" cy="740.64" r="1.61" fill-opacity="0.56"/><circle cx="809.08" cy="736.78" r="1.66" fill-opacity="0.6"/><circle cx="812.69" cy="732.51" r="1.72" fill-opacity="0.64"/><circle cx="816.21" cy="728.15" r="1.79" fill-opacity="0.68"/><circle cx="819.98" cy="724.02" r="1.85" fill-opacity="0.72"/><circle cx="824.1" cy="720.21" r="1.91" fill-opacity="0.77"/><circle cx="828.31" cy="716.53" r="1.98" fill-opacity="0.83"/><circle cx="832.54" cy="712.86" r="2.04" fill-opacity="0.88"/><circle cx="836.7" cy="709.11" r="2.1" fill-opacity="0.93"/><circle cx="840.71" cy="705.2" r="2.15" fill-opacity="0.98"/><circle cx="844.58" cy="701.15" r="2.17" fill-opacity="1"/></g>
</g>
<g clip-path="url(#ins2)">
<path d="M939.21,683.52 L939.76,683.85 L940.48,684.24 L941.29,684.66 L942.18,685.11 L943.13,685.6 L944.11,686.13 L945.08,686.68 L946.04,687.25 L946.93,687.85 L947.72,688.45 L948.39,689.04 L948.88,689.6 L949.25,690.18 L949.56,690.82 L949.8,691.49 L949.98,692.2 L950.12,692.94 L950.23,693.71 L950.31,694.5 L950.39,695.32 L950.46,696.15 L950.56,697.01 L950.69,697.9 L950.84,698.73 L950.95,699.42 L951,700.05 L951.04,700.7 L951.07,701.38 L951.11,702.08 L951.16,702.81 L951.24,703.58 L951.35,704.39 L951.53,705.24 L951.77,706.13 L952.1,707.06 L952.49,707.96 L952.9,708.74 L953.31,709.46 L953.76,710.15 L954.25,710.8 L954.76,711.42 L955.28,712 L955.82,712.54 L956.36,713.05 L956.91,713.53 L957.47,714.01 L958.04,714.49 L958.68,715.01 L959.43,715.59 L960.24,716.19 L961.08,716.79 L961.95,717.38 L962.84,717.97 L963.75,718.55 L964.67,719.14 L965.59,719.72 L966.51,720.29 L967.43,720.86 L968.33,721.43 L969.2,721.98 L970.09,722.55 L971,723.14 L971.94,723.75 L972.9,724.38 L973.87,725.01 L974.86,725.65 L975.85,726.28 L976.84,726.89 L977.83,727.49 L978.81,728.07 L979.78,728.62 L980.72,729.12 L981.58,729.56 L982.41,729.97 L983.25,730.38 L984.09,730.78 L984.95,731.18 L985.82,731.56 L986.71,731.93 L987.62,732.27 L988.56,732.6 L989.52,732.89 L990.5,733.15 L991.52,733.37 L992.54,733.54 L993.55,733.66 L994.55,733.72 L995.52,733.73 L996.47,733.71 L997.4,733.66 L998.29,733.58 L999.16,733.47 L999.99,733.35 L1000.79,733.21 L1001.54,733.05 L1002.3,732.89 L1003.12,732.68 L1003.92,732.41 L1004.66,732.1 L1005.35,731.78 L1005.98,731.44 L1006.56,731.09 L1007.09,730.76 L1007.56,730.45 L1007.97,730.17 L1008.3,729.94 L1008.55,729.76 L1008.76,729.62 L1007.24,725.38 L1006.89,725.45 L1006.46,725.54 L1006.02,725.64 L1005.55,725.73 L1005.06,725.82 L1004.56,725.91 L1004.05,725.97 L1003.54,726.02 L1003.04,726.04 L1002.57,726.03 L1002.13,725.98 L1001.7,725.91 L1001.17,725.83 L1000.56,725.73 L999.93,725.62 L999.28,725.49 L998.63,725.34 L997.98,725.18 L997.33,724.99 L996.7,724.79 L996.09,724.57 L995.52,724.34 L994.98,724.09 L994.48,723.83 L994.01,723.54 L993.53,723.23 L993.04,722.89 L992.53,722.51 L991.99,722.1 L991.43,721.67 L990.84,721.2 L990.21,720.7 L989.54,720.17 L988.82,719.62 L988.06,719.05 L987.28,718.48 L986.52,717.93 L985.73,717.35 L984.91,716.75 L984.05,716.12 L983.17,715.48 L982.27,714.82 L981.36,714.15 L980.43,713.47 L979.51,712.8 L978.6,712.13 L977.69,711.47 L976.8,710.82 L975.91,710.18 L975.01,709.53 L974.11,708.9 L973.22,708.27 L972.35,707.65 L971.5,707.05 L970.69,706.46 L969.91,705.9 L969.17,705.37 L968.5,704.88 L967.88,704.42 L967.32,703.99 L966.76,703.56 L966.24,703.16 L965.8,702.82 L965.42,702.52 L965.1,702.28 L964.84,702.07 L964.62,701.91 L964.42,701.76 L964.22,701.61 L964.01,701.45 L963.76,701.25 L963.51,701.04 L963.27,700.88 L963.03,700.69 L962.75,700.43 L962.44,700.09 L962.1,699.67 L961.74,699.19 L961.36,698.64 L960.96,698.03 L960.54,697.37 L960.09,696.68 L959.62,695.95 L959.16,695.27 L958.72,694.7 L958.3,694.12 L957.85,693.48 L957.38,692.79 L956.88,692.05 L956.37,691.28 L955.84,690.48 L955.28,689.67 L954.69,688.85 L954.07,688.03 L953.42,687.22 L952.72,686.4 L951.95,685.57 L951.13,684.73 L950.26,683.88 L949.37,683.03 L948.47,682.18 L947.57,681.35 L946.7,680.55 L945.88,679.8 L945.13,679.12 L944.49,678.53 L943.98,678.05 L943.59,677.68Z" fill="#4b4aa0" opacity="0.6" filter="url(#bl2)"/>
<path d="M939.21,683.52 L939.76,683.85 L940.48,684.24 L941.29,684.66 L942.18,685.11 L943.13,685.6 L944.11,686.13 L945.08,686.68 L946.04,687.25 L946.93,687.85 L947.72,688.45 L948.39,689.04 L948.88,689.6 L949.25,690.18 L949.56,690.82 L949.8,691.49 L949.98,692.2 L950.12,692.94 L950.23,693.71 L950.31,694.5 L950.39,695.32 L950.46,696.15 L950.56,697.01 L950.69,697.9 L950.84,698.73 L950.95,699.42 L951,700.05 L951.04,700.7 L951.07,701.38 L951.11,702.08 L951.16,702.81 L951.24,703.58 L951.35,704.39 L951.53,705.24 L951.77,706.13 L952.1,707.06 L952.49,707.96 L952.9,708.74 L953.31,709.46 L953.76,710.15 L954.25,710.8 L954.76,711.42 L955.28,712 L955.82,712.54 L956.36,713.05 L956.91,713.53 L957.47,714.01 L958.04,714.49 L958.68,715.01 L959.43,715.59 L960.24,716.19 L961.08,716.79 L961.95,717.38 L962.84,717.97 L963.75,718.55 L964.67,719.14 L965.59,719.72 L966.51,720.29 L967.43,720.86 L968.33,721.43 L969.2,721.98 L970.09,722.55 L971,723.14 L971.94,723.75 L972.9,724.38 L973.87,725.01 L974.86,725.65 L975.85,726.28 L976.84,726.89 L977.83,727.49 L978.81,728.07 L979.78,728.62 L980.72,729.12 L981.58,729.56 L982.41,729.97 L983.25,730.38 L984.09,730.78 L984.95,731.18 L985.82,731.56 L986.71,731.93 L987.62,732.27 L988.56,732.6 L989.52,732.89 L990.5,733.15 L991.52,733.37 L992.54,733.54 L993.55,733.66 L994.55,733.72 L995.52,733.73 L996.47,733.71 L997.4,733.66 L998.29,733.58 L999.16,733.47 L999.99,733.35 L1000.79,733.21 L1001.54,733.05 L1002.3,732.89 L1003.12,732.68 L1003.92,732.41 L1004.66,732.1 L1005.35,731.78 L1005.98,731.44 L1006.56,731.09 L1007.09,730.76 L1007.56,730.45 L1007.97,730.17 L1008.3,729.94 L1008.55,729.76 L1008.76,729.62 L1007.24,725.38 L1006.89,725.45 L1006.46,725.54 L1006.02,725.64 L1005.55,725.73 L1005.06,725.82 L1004.56,725.91 L1004.05,725.97 L1003.54,726.02 L1003.04,726.04 L1002.57,726.03 L1002.13,725.98 L1001.7,725.91 L1001.17,725.83 L1000.56,725.73 L999.93,725.62 L999.28,725.49 L998.63,725.34 L997.98,725.18 L997.33,724.99 L996.7,724.79 L996.09,724.57 L995.52,724.34 L994.98,724.09 L994.48,723.83 L994.01,723.54 L993.53,723.23 L993.04,722.89 L992.53,722.51 L991.99,722.1 L991.43,721.67 L990.84,721.2 L990.21,720.7 L989.54,720.17 L988.82,719.62 L988.06,719.05 L987.28,718.48 L986.52,717.93 L985.73,717.35 L984.91,716.75 L984.05,716.12 L983.17,715.48 L982.27,714.82 L981.36,714.15 L980.43,713.47 L979.51,712.8 L978.6,712.13 L977.69,711.47 L976.8,710.82 L975.91,710.18 L975.01,709.53 L974.11,708.9 L973.22,708.27 L972.35,707.65 L971.5,707.05 L970.69,706.46 L969.91,705.9 L969.17,705.37 L968.5,704.88 L967.88,704.42 L967.32,703.99 L966.76,703.56 L966.24,703.16 L965.8,702.82 L965.42,702.52 L965.1,702.28 L964.84,702.07 L964.62,701.91 L964.42,701.76 L964.22,701.61 L964.01,701.45 L963.76,701.25 L963.51,701.04 L963.27,700.88 L963.03,700.69 L962.75,700.43 L962.44,700.09 L962.1,699.67 L961.74,699.19 L961.36,698.64 L960.96,698.03 L960.54,697.37 L960.09,696.68 L959.62,695.95 L959.16,695.27 L958.72,694.7 L958.3,694.12 L957.85,693.48 L957.38,692.79 L956.88,692.05 L956.37,691.28 L955.84,690.48 L955.28,689.67 L954.69,688.85 L954.07,688.03 L953.42,687.22 L952.72,686.4 L951.95,685.57 L951.13,684.73 L950.26,683.88 L949.37,683.03 L948.47,682.18 L947.57,681.35 L946.7,680.55 L945.88,679.8 L945.13,679.12 L944.49,678.53 L943.98,678.05 L943.59,677.68Z" fill="#f5ea0c" filter="url(#bl)"/>
<g fill="#f5ea0c" filter="url(#bl)"><circle cx="1002" cy="729.4" r="3.6" fill-opacity="1"/><circle cx="1006.76" cy="727.87" r="3.23" fill-opacity="0.91"/><circle cx="1011.29" cy="725.77" r="2.91" fill-opacity="0.81"/><circle cx="1015.41" cy="722.94" r="2.66" fill-opacity="0.72"/><circle cx="1019.41" cy="719.95" r="2.45" fill-opacity="0.62"/><circle cx="1023.37" cy="716.9" r="2.28" fill-opacity="0.53"/><circle cx="1027.1" cy="713.57" r="2.11" fill-opacity="0.43"/><circle cx="1030.65" cy="710.05" r="1.95" fill-opacity="0.34"/><circle cx="1034.12" cy="706.44" r="1.79" fill-opacity="0.24"/><circle cx="1037.43" cy="702.7" r="1.56" fill-opacity="0.15"/></g>
</g>
<polyline points="903.2,805.8 903.2,701.1 1045.9,701.1" fill="none" stroke="#000" stroke-width="2"/>
<rect x="760.8" y="546" width="285.1" height="259.8" fill="none" stroke="#000" stroke-width="2"/>
<g stroke="#000" stroke-width="1.8"><line x1="755.3" y1="546" x2="760.8" y2="546"/><line x1="757.8" y1="568" x2="760.8" y2="568"/><line x1="755.3" y1="590" x2="760.8" y2="590"/><line x1="757.8" y1="612" x2="760.8" y2="612"/><line x1="755.3" y1="634" x2="760.8" y2="634"/><line x1="757.8" y1="656" x2="760.8" y2="656"/><line x1="755.3" y1="678" x2="760.8" y2="678"/><line x1="757.8" y1="700" x2="760.8" y2="700"/><line x1="755.3" y1="722" x2="760.8" y2="722"/><line x1="757.8" y1="744" x2="760.8" y2="744"/><line x1="755.3" y1="766" x2="760.8" y2="766"/><line x1="757.8" y1="788" x2="760.8" y2="788"/><line x1="760.8" y1="805.8" x2="760.8" y2="811.3"/><line x1="796.44" y1="805.8" x2="796.44" y2="808.8"/><line x1="832.08" y1="805.8" x2="832.08" y2="811.3"/><line x1="867.71" y1="805.8" x2="867.71" y2="808.8"/><line x1="903.35" y1="805.8" x2="903.35" y2="811.3"/><line x1="938.99" y1="805.8" x2="938.99" y2="808.8"/><line x1="974.62" y1="805.8" x2="974.62" y2="811.3"/><line x1="1010.26" y1="805.8" x2="1010.26" y2="808.8"/><line x1="1045.9" y1="805.8" x2="1045.9" y2="811.3"/></g>
<text x="760.8" y="835" font-size="25.7" text-anchor="middle">0</text>
<text x="832.08" y="835" font-size="25.7" text-anchor="middle">50</text>
<text x="903.35" y="835" font-size="25.7" text-anchor="middle">100</text>
<text x="974.62" y="835" font-size="25.7" text-anchor="middle">150</text>
<text x="1045.9" y="835" font-size="25.7" text-anchor="middle">200</text>
<text x="793.8" y="863.5" font-size="25.5">Magnetic field (mT)</text>
<text x="854.6" y="538.2" font-size="29.5" class="s">Θ = 30°</text>
<text x="908.3" y="800.3" font-size="27.5" fill="#fff">x6</text>
<g stroke="#fff" stroke-width="3"><line x1="997.3" y1="729.7" x2="997.3" y2="803.4"/><line x1="976.6" y1="729.7" x2="1018.4" y2="729.7"/><line x1="976.6" y1="803.4" x2="1018.4" y2="803.4"/></g>
<text x="955.1" y="772.4" font-size="41" fill="#fff">f</text>
<text x="967.5" y="784" font-size="24" fill="#fff">g</text>
<clipPath id="clip3"><rect x="1101.2" y="546.8" width="285.2" height="259.9"/></clipPath>
<clipPath id="ins3"><rect x="1272.3" y="678.8" width="114.1" height="127.9"/></clipPath>
<linearGradient id="fd3" gradientUnits="userSpaceOnUse" x1="1120" y1="0" x2="1192" y2="0"><stop offset="0" stop-color="#f5ea0c" stop-opacity="0.12"/><stop offset="0.75" stop-color="#f5ea0c" stop-opacity="0.2"/><stop offset="1" stop-color="#f5ea0c" stop-opacity="1"/></linearGradient>
<g clip-path="url(#clip3)">
<rect x="1101.2" y="546.8" width="285.2" height="259.9" fill="#3a51a3"/>
<linearGradient id="tl3" gradientUnits="userSpaceOnUse" x1="1101.2" y1="0" x2="1291.2" y2="0"><stop offset="0" stop-color="#4b4aa0" stop-opacity="0.55"/><stop offset="1" stop-color="#4b4aa0" stop-opacity="0"/></linearGradient>
<rect x="1091.2" y="536.8" width="200" height="58" fill="url(#tl3)" filter="url(#bl3)"/>
<path d="M1097,631 L1097.2,631 L1097.39,630.99 L1097.59,630.98 L1097.81,630.97 L1098.07,630.96 L1098.38,630.96 L1098.74,630.95 L1099.19,630.95 L1099.72,630.95 L1100.36,630.96 L1101.11,630.98 L1102.08,631 L1103.29,631.02 L1104.66,631.04 L1106.1,631.06 L1107.61,631.08 L1109.18,631.1 L1110.76,631.14 L1112.33,631.18 L1113.85,631.24 L1115.28,631.32 L1116.58,631.42 L1117.67,631.53 L1118.54,631.65 L1119.32,631.8 L1120.1,631.97 L1120.84,632.17 L1121.56,632.38 L1122.29,632.61 L1123.03,632.85 L1123.8,633.11 L1124.64,633.38 L1125.53,633.67 L1126.51,633.96 L1127.57,634.26 L1128.58,634.54 L1129.39,634.76 L1130.14,634.96 L1130.98,635.19 L1131.89,635.43 L1132.87,635.7 L1133.94,635.98 L1135.08,636.29 L1136.29,636.6 L1137.59,636.93 L1138.95,637.27 L1140.4,637.61 L1141.9,637.94 L1143.37,638.24 L1144.78,638.5 L1146.11,638.73 L1147.37,638.93 L1148.55,639.11 L1149.67,639.28 L1150.72,639.44 L1151.72,639.59 L1152.68,639.75 L1153.61,639.91 L1154.52,640.09 L1155.5,640.3 L1156.62,640.56 L1157.87,640.85 L1159.17,641.16 L1160.5,641.49 L1161.87,641.84 L1163.24,642.19 L1164.61,642.55 L1165.97,642.92 L1167.3,643.28 L1168.59,643.64 L1169.81,644 L1170.91,644.32 L1171.85,644.62 L1172.75,644.93 L1173.69,645.26 L1174.68,645.62 L1175.71,646 L1176.8,646.4 L1177.94,646.81 L1179.14,647.24 L1180.42,647.67 L1181.78,648.1 L1183.23,648.52 L1184.74,648.92 L1186.19,649.26 L1187.57,649.55 L1188.88,649.79 L1190.12,650 L1191.28,650.18 L1192.34,650.32 L1193.31,650.44 L1194.18,650.54 L1194.96,650.62 L1195.65,650.7 L1196.28,650.77 L1196.75,650.83 L1197.02,650.87 L1197.32,650.93 L1197.84,651.04 L1198.59,651.2 L1199.58,651.4 L1200.81,651.63 L1202.27,651.87 L1203.94,652.08 L1205.8,652.23 L1207.82,652.3 L1209.96,652.27 L1212.01,652.11 L1213.79,651.88 L1215.43,651.6 L1217.09,651.27 L1218.78,650.88 L1220.49,650.44 L1222.22,649.96 L1223.98,649.43 L1225.75,648.87 L1227.54,648.26 L1229.35,647.62 L1231.18,646.94 L1232.9,646.26 L1234.4,645.62 L1235.83,644.99 L1237.32,644.32 L1238.89,643.59 L1240.52,642.8 L1242.21,641.95 L1243.94,641.03 L1245.71,640.04 L1247.51,638.99 L1249.35,637.87 L1251.22,636.68 L1253.15,635.4 L1255.15,634.04 L1257.16,632.62 L1259.16,631.18 L1261.14,629.72 L1263.12,628.24 L1265.09,626.75 L1267.04,625.25 L1268.98,623.75 L1270.88,622.27 L1272.74,620.8 L1274.54,619.36 L1276.32,617.93 L1278.14,616.45 L1280.05,614.87 L1281.99,613.25 L1283.95,611.6 L1285.9,609.94 L1287.85,608.27 L1289.76,606.61 L1291.63,604.97 L1293.43,603.37 L1295.17,601.81 L1296.82,600.32 L1298.37,598.88 L1299.83,597.5 L1301.19,596.18 L1302.46,594.92 L1303.65,593.71 L1304.75,592.55 L1305.77,591.44 L1306.73,590.38 L1307.61,589.38 L1308.42,588.44 L1309.19,587.54 L1309.92,586.68 L1310.73,585.73 L1311.68,584.59 L1312.65,583.36 L1313.58,582.16 L1314.46,580.99 L1315.3,579.86 L1316.08,578.79 L1316.82,577.77 L1317.51,576.82 L1318.14,575.96 L1318.71,575.18 L1319.2,574.53 L1319.64,573.97 L1320.07,573.43 L1320.54,572.85 L1321.03,572.28 L1321.51,571.71 L1321.99,571.15 L1322.47,570.61 L1322.93,570.09 L1323.37,569.58 L1323.8,569.1 L1324.22,568.63 L1324.64,568.15 L1324.99,567.75 L1291.01,538.25 L1290.79,538.5 L1290.53,538.79 L1290.17,539.21 L1289.72,539.71 L1289.2,540.3 L1288.62,540.95 L1288,541.67 L1287.33,542.44 L1286.64,543.26 L1285.91,544.13 L1285.15,545.05 L1284.36,546.03 L1283.55,547.07 L1282.74,548.13 L1281.96,549.16 L1281.21,550.18 L1280.47,551.17 L1279.75,552.15 L1279.05,553.1 L1278.37,554.01 L1277.72,554.88 L1277.09,555.71 L1276.5,556.47 L1275.87,557.27 L1275.14,558.19 L1274.4,559.13 L1273.74,559.99 L1273.13,560.77 L1272.57,561.49 L1272.03,562.19 L1271.47,562.87 L1270.88,563.58 L1270.23,564.34 L1269.48,565.17 L1268.62,566.09 L1267.63,567.12 L1266.46,568.29 L1265.13,569.59 L1263.67,570.99 L1262.11,572.47 L1260.45,574.01 L1258.74,575.6 L1256.98,577.21 L1255.21,578.83 L1253.43,580.43 L1251.68,582.02 L1249.96,583.56 L1248.28,585.07 L1246.58,586.6 L1244.87,588.17 L1243.17,589.74 L1241.5,591.29 L1239.86,592.8 L1238.26,594.26 L1236.71,595.65 L1235.23,596.94 L1233.82,598.13 L1232.51,599.18 L1231.32,600.07 L1230.25,600.8 L1229.24,601.41 L1228.29,601.92 L1227.42,602.34 L1226.6,602.67 L1225.82,602.94 L1225.06,603.17 L1224.28,603.36 L1223.46,603.55 L1222.59,603.73 L1221.62,603.92 L1220.55,604.14 L1219.5,604.34 L1218.61,604.47 L1217.77,604.54 L1216.89,604.59 L1215.96,604.61 L1215.02,604.62 L1214.08,604.6 L1213.15,604.57 L1212.24,604.53 L1211.38,604.48 L1210.58,604.42 L1209.86,604.35 L1209.39,604.29 L1209.32,604.21 L1209.44,604.15 L1209.54,604.11 L1209.56,604.09 L1209.46,604.06 L1209.2,604 L1208.75,603.92 L1208.08,603.79 L1207.19,603.62 L1206.05,603.41 L1204.68,603.18 L1203.25,602.97 L1202.02,602.81 L1201.01,602.7 L1200.1,602.6 L1199.29,602.52 L1198.59,602.45 L1197.98,602.39 L1197.46,602.34 L1196.99,602.29 L1196.55,602.25 L1196.13,602.2 L1195.7,602.15 L1195.26,602.08 L1194.81,602.01 L1194.25,601.91 L1193.56,601.77 L1192.73,601.59 L1191.79,601.36 L1190.74,601.1 L1189.59,600.81 L1188.34,600.49 L1186.99,600.15 L1185.55,599.8 L1184.03,599.43 L1182.49,599.08 L1181.02,598.76 L1179.56,598.45 L1178.07,598.15 L1176.55,597.84 L1175.01,597.53 L1173.46,597.22 L1171.91,596.92 L1170.38,596.62 L1168.87,596.33 L1167.38,596.04 L1165.94,595.77 L1164.5,595.5 L1163.02,595.23 L1161.57,594.97 L1160.2,594.74 L1158.91,594.54 L1157.72,594.35 L1156.61,594.17 L1155.59,594.01 L1154.65,593.85 L1153.78,593.7 L1152.98,593.56 L1152.22,593.41 L1151.5,593.26 L1150.78,593.1 L1150.02,592.9 L1149.17,592.67 L1148.25,592.4 L1147.25,592.12 L1146.17,591.8 L1145.02,591.47 L1143.79,591.14 L1142.49,590.79 L1141.1,590.46 L1139.63,590.13 L1138.22,589.86 L1137.03,589.67 L1135.94,589.51 L1134.8,589.36 L1133.59,589.21 L1132.31,589.06 L1130.96,588.92 L1129.54,588.79 L1128.06,588.67 L1126.51,588.57 L1124.9,588.48 L1123.23,588.41 L1121.46,588.35 L1119.57,588.32 L1117.66,588.33 L1115.75,588.37 L1113.87,588.43 L1112.01,588.5 L1110.19,588.59 L1108.45,588.67 L1106.8,588.76 L1105.29,588.84 L1103.94,588.91 L1102.83,588.96 L1101.92,589 L1101.11,589.02 L1100.36,589.04 L1099.72,589.05 L1099.19,589.05 L1098.74,589.05 L1098.38,589.04 L1098.07,589.04 L1097.81,589.03 L1097.59,589.02 L1097.39,589.01 L1097.2,589 L1097,589Z" fill="#4b4aa0" opacity="0.45" filter="url(#bl3)"/>
<path d="M1125.18,764.01 L1125.73,763.79 L1126.43,763.52 L1127.35,763.17 L1128.44,762.76 L1129.68,762.3 L1131.02,761.78 L1132.45,761.22 L1133.94,760.61 L1135.49,759.96 L1137.07,759.27 L1138.67,758.51 L1140.21,757.74 L1141.63,757 L1143,756.27 L1144.39,755.5 L1145.81,754.7 L1147.24,753.87 L1148.69,753.01 L1150.14,752.11 L1151.6,751.18 L1153.07,750.22 L1154.54,749.22 L1156,748.18 L1157.45,747.11 L1158.91,745.99 L1160.34,744.83 L1161.74,743.66 L1163.1,742.48 L1164.44,741.3 L1165.74,740.11 L1167.02,738.92 L1168.26,737.75 L1169.47,736.59 L1170.64,735.46 L1171.78,734.35 L1172.93,733.22 L1174.14,732 L1175.35,730.74 L1176.5,729.51 L1177.59,728.31 L1178.63,727.15 L1179.62,726.04 L1180.56,724.99 L1181.44,724 L1182.27,723.09 L1183.05,722.26 L1183.77,721.52 L1184.44,720.87 L1185.09,720.26 L1185.76,719.67 L1186.46,719.08 L1187.17,718.49 L1187.92,717.88 L1188.72,717.25 L1189.55,716.6 L1190.43,715.9 L1191.36,715.15 L1192.33,714.35 L1193.34,713.49 L1194.37,712.58 L1195.36,711.66 L1196.3,710.77 L1197.19,709.89 L1198.05,709.05 L1198.86,708.23 L1199.63,707.45 L1200.36,706.72 L1201.04,706.03 L1201.69,705.4 L1202.28,704.83 L1202.82,704.33 L1203.31,703.89 L1203.8,703.47 L1204.28,703.07 L1204.76,702.68 L1205.26,702.29 L1205.77,701.9 L1206.32,701.48 L1206.91,701.04 L1207.54,700.56 L1208.22,700.05 L1208.96,699.49 L1209.74,698.88 L1210.57,698.23 L1211.42,697.54 L1212.26,696.84 L1213.07,696.17 L1213.85,695.51 L1214.61,694.88 L1215.34,694.28 L1216.04,693.71 L1216.71,693.18 L1217.34,692.7 L1217.92,692.28 L1218.45,691.92 L1219.01,691.56 L1219.69,691.11 L1220.41,690.64 L1221.05,690.23 L1221.63,689.88 L1222.14,689.59 L1222.6,689.35 L1223.01,689.15 L1223.39,689 L1223.74,688.87 L1224.09,688.77 L1224.44,688.68 L1224.93,688.55 L1225.63,688.36 L1226.42,688.15 L1227.18,687.98 L1227.92,687.84 L1228.63,687.73 L1229.3,687.65 L1229.92,687.59 L1230.5,687.56 L1231.02,687.55 L1231.47,687.55 L1231.87,687.56 L1232.19,687.56 L1232.56,687.55 L1233.11,687.54 L1233.82,687.53 L1234.67,687.53 L1235.61,687.55 L1236.62,687.59 L1237.67,687.64 L1238.75,687.72 L1239.82,687.81 L1240.87,687.92 L1241.89,688.04 L1242.75,688.15 L1243.35,688.23 L1243.82,688.29 L1244.27,688.37 L1244.72,688.47 L1245.19,688.58 L1245.7,688.73 L1246.26,688.9 L1246.89,689.11 L1247.59,689.37 L1248.38,689.66 L1249.26,689.98 L1250.16,690.32 L1250.98,690.61 L1251.7,690.86 L1252.38,691.1 L1253.01,691.34 L1253.61,691.56 L1254.17,691.78 L1254.7,691.99 L1255.21,692.21 L1255.69,692.42 L1256.17,692.65 L1256.64,692.89 L1257.06,693.12 L1257.47,693.37 L1257.98,693.7 L1258.6,694.12 L1259.28,694.6 L1260,695.12 L1260.74,695.67 L1261.47,696.22 L1262.19,696.76 L1262.87,697.28 L1263.52,697.77 L1264.14,698.23 L1264.64,698.59 L1283.36,671.41 L1283,671.18 L1282.54,670.88 L1281.93,670.47 L1281.19,669.98 L1280.36,669.43 L1279.46,668.83 L1278.5,668.2 L1277.5,667.55 L1276.46,666.88 L1275.38,666.21 L1274.26,665.53 L1273.14,664.88 L1272.1,664.3 L1271.12,663.77 L1270.15,663.27 L1269.21,662.79 L1268.28,662.34 L1267.38,661.91 L1266.5,661.5 L1265.64,661.11 L1264.8,660.73 L1263.98,660.37 L1263.18,660.01 L1262.44,659.68 L1261.78,659.39 L1261.12,659.07 L1260.38,658.72 L1259.55,658.34 L1258.62,657.92 L1257.6,657.47 L1256.48,657.01 L1255.26,656.55 L1253.96,656.09 L1252.57,655.64 L1251.1,655.22 L1249.65,654.85 L1248.32,654.53 L1246.99,654.21 L1245.58,653.88 L1244.08,653.56 L1242.52,653.24 L1240.89,652.94 L1239.2,652.67 L1237.46,652.44 L1235.65,652.27 L1233.78,652.16 L1231.83,652.14 L1229.81,652.24 L1227.83,652.46 L1225.94,652.78 L1224.14,653.18 L1222.44,653.66 L1220.83,654.19 L1219.31,654.75 L1217.88,655.34 L1216.54,655.94 L1215.28,656.53 L1214.1,657.12 L1213,657.68 L1211.87,658.25 L1210.61,658.89 L1209.31,659.61 L1208.08,660.34 L1206.92,661.08 L1205.84,661.81 L1204.82,662.54 L1203.89,663.25 L1203.02,663.93 L1202.21,664.59 L1201.46,665.21 L1200.76,665.8 L1199.99,666.44 L1199.07,667.22 L1198.11,668.05 L1197.19,668.88 L1196.32,669.68 L1195.49,670.47 L1194.7,671.23 L1193.95,671.97 L1193.23,672.66 L1192.56,673.32 L1191.93,673.93 L1191.36,674.48 L1190.83,674.97 L1190.32,675.44 L1189.8,675.9 L1189.26,676.36 L1188.7,676.84 L1188.11,677.33 L1187.48,677.85 L1186.81,678.41 L1186.1,679.02 L1185.35,679.66 L1184.56,680.36 L1183.75,681.1 L1182.89,681.91 L1182.01,682.77 L1181.16,683.64 L1180.34,684.49 L1179.56,685.33 L1178.81,686.14 L1178.08,686.94 L1177.38,687.7 L1176.7,688.44 L1176.04,689.15 L1175.41,689.82 L1174.8,690.45 L1174.23,691.02 L1173.67,691.56 L1173.09,692.1 L1172.44,692.68 L1171.73,693.3 L1170.95,693.97 L1170.11,694.68 L1169.21,695.46 L1168.25,696.29 L1167.24,697.19 L1166.18,698.16 L1165.09,699.21 L1163.96,700.33 L1162.84,701.51 L1161.76,702.7 L1160.73,703.87 L1159.74,705.03 L1158.78,706.16 L1157.86,707.27 L1156.95,708.35 L1156.07,709.39 L1155.21,710.4 L1154.37,711.36 L1153.54,712.26 L1152.67,713.18 L1151.69,714.18 L1150.64,715.24 L1149.59,716.3 L1148.53,717.34 L1147.48,718.38 L1146.42,719.39 L1145.37,720.38 L1144.33,721.33 L1143.3,722.24 L1142.29,723.11 L1141.31,723.93 L1140.35,724.69 L1139.36,725.44 L1138.34,726.18 L1137.29,726.92 L1136.21,727.65 L1135.11,728.37 L1134,729.07 L1132.88,729.76 L1131.76,730.42 L1130.63,731.07 L1129.52,731.7 L1128.41,732.31 L1127.39,732.86 L1126.45,733.33 L1125.46,733.8 L1124.38,734.27 L1123.24,734.76 L1122.07,735.23 L1120.89,735.69 L1119.74,736.13 L1118.62,736.55 L1117.55,736.95 L1116.55,737.32 L1115.59,737.69 L1114.82,737.99Z" fill="#4b4aa0" opacity="0.35" filter="url(#bl3)"/>
<path d="M1097,611 L1097.2,611 L1097.39,610.99 L1097.59,610.98 L1097.81,610.97 L1098.07,610.96 L1098.38,610.96 L1098.74,610.95 L1099.19,610.95 L1099.72,610.95 L1100.36,610.96 L1101.11,610.98 L1102.03,611 L1103.16,611.02 L1104.45,611.04 L1105.87,611.06 L1107.38,611.08 L1108.97,611.11 L1110.6,611.14 L1112.24,611.18 L1113.86,611.24 L1115.42,611.32 L1116.88,611.42 L1118.2,611.54 L1119.35,611.68 L1120.4,611.85 L1121.42,612.04 L1122.39,612.27 L1123.33,612.51 L1124.25,612.77 L1125.16,613.04 L1126.08,613.33 L1127.02,613.62 L1127.99,613.92 L1129,614.22 L1130.06,614.53 L1131.11,614.81 L1132.08,615.06 L1133.01,615.31 L1133.99,615.57 L1135,615.85 L1136.05,616.13 L1137.14,616.42 L1138.27,616.72 L1139.43,617.02 L1140.62,617.32 L1141.86,617.62 L1143.13,617.92 L1144.42,618.21 L1145.7,618.47 L1146.93,618.7 L1148.12,618.9 L1149.28,619.09 L1150.4,619.26 L1151.49,619.42 L1152.56,619.58 L1153.61,619.74 L1154.65,619.91 L1155.7,620.1 L1156.76,620.3 L1157.86,620.54 L1159.07,620.81 L1160.36,621.11 L1161.7,621.43 L1163.08,621.77 L1164.49,622.13 L1165.9,622.49 L1167.31,622.86 L1168.71,623.24 L1170.08,623.61 L1171.42,623.98 L1172.7,624.35 L1173.88,624.7 L1174.97,625.03 L1176.02,625.38 L1177.09,625.75 L1178.15,626.13 L1179.23,626.53 L1180.33,626.93 L1181.44,627.33 L1182.57,627.73 L1183.72,628.13 L1184.91,628.51 L1186.13,628.88 L1187.37,629.21 L1188.57,629.49 L1189.7,629.74 L1190.79,629.95 L1191.83,630.12 L1192.81,630.27 L1193.74,630.4 L1194.62,630.51 L1195.45,630.61 L1196.24,630.69 L1196.98,630.78 L1197.71,630.86 L1198.37,630.94 L1198.92,631.02 L1199.49,631.13 L1200.16,631.27 L1200.95,631.43 L1201.86,631.62 L1202.89,631.82 L1204.05,632 L1205.34,632.16 L1206.73,632.27 L1208.22,632.31 L1209.8,632.27 L1211.35,632.13 L1212.8,631.93 L1214.2,631.67 L1215.64,631.36 L1217.1,631 L1218.59,630.59 L1220.1,630.15 L1221.62,629.67 L1223.16,629.15 L1224.7,628.61 L1226.23,628.03 L1227.77,627.43 L1229.24,626.83 L1230.6,626.24 L1231.9,625.65 L1233.23,625.04 L1234.58,624.39 L1235.95,623.7 L1237.35,622.97 L1238.78,622.19 L1240.25,621.36 L1241.74,620.46 L1243.28,619.51 L1244.87,618.49 L1246.53,617.4 L1248.26,616.21 L1250.04,614.96 L1251.86,613.66 L1253.7,612.31 L1255.56,610.92 L1257.45,609.5 L1259.34,608.05 L1261.22,606.59 L1263.1,605.13 L1264.94,603.67 L1266.75,602.23 L1268.53,600.8 L1270.34,599.33 L1272.21,597.79 L1274.11,596.2 L1276.04,594.58 L1277.96,592.94 L1279.87,591.31 L1281.74,589.68 L1283.56,588.09 L1285.31,586.53 L1286.99,585.04 L1288.56,583.61 L1290.02,582.26 L1291.37,580.99 L1292.61,579.79 L1293.76,578.66 L1294.81,577.59 L1295.79,576.56 L1296.71,575.58 L1297.56,574.63 L1298.37,573.72 L1299.15,572.83 L1299.9,571.95 L1300.64,571.08 L1301.43,570.14 L1302.3,569.09 L1303.18,567.99 L1304.03,566.89 L1304.85,565.8 L1305.64,564.74 L1306.41,563.69 L1307.14,562.68 L1307.84,561.72 L1308.5,560.81 L1309.12,559.97 L1309.7,559.21 L1310.23,558.52 L1310.76,557.86 L1311.31,557.19 L1311.85,556.54 L1312.4,555.91 L1312.93,555.29 L1313.44,554.7 L1313.93,554.14 L1314.4,553.62 L1314.83,553.13 L1315.24,552.67 L1315.62,552.24 L1315.93,551.89 L1300.07,538.11 L1299.82,538.41 L1299.52,538.75 L1299.14,539.18 L1298.69,539.68 L1298.19,540.24 L1297.65,540.86 L1297.06,541.53 L1296.45,542.24 L1295.81,543 L1295.14,543.79 L1294.47,544.61 L1293.77,545.48 L1293.05,546.39 L1292.33,547.34 L1291.61,548.3 L1290.88,549.28 L1290.16,550.26 L1289.43,551.24 L1288.71,552.23 L1287.99,553.2 L1287.27,554.15 L1286.57,555.07 L1285.88,555.96 L1285.17,556.86 L1284.42,557.79 L1283.7,558.72 L1283.02,559.6 L1282.37,560.43 L1281.73,561.24 L1281.09,562.05 L1280.43,562.86 L1279.71,563.71 L1278.93,564.6 L1278.06,565.56 L1277.08,566.6 L1275.98,567.74 L1274.72,569 L1273.32,570.36 L1271.79,571.82 L1270.17,573.35 L1268.48,574.93 L1266.72,576.56 L1264.93,578.2 L1263.12,579.85 L1261.31,581.49 L1259.52,583.1 L1257.77,584.67 L1256.07,586.2 L1254.37,587.73 L1252.66,589.3 L1250.95,590.88 L1249.25,592.45 L1247.57,594 L1245.9,595.52 L1244.27,596.97 L1242.67,598.36 L1241.12,599.65 L1239.63,600.84 L1238.21,601.89 L1236.87,602.8 L1235.59,603.59 L1234.36,604.28 L1233.19,604.86 L1232.07,605.36 L1230.98,605.78 L1229.91,606.14 L1228.85,606.46 L1227.78,606.75 L1226.68,607.01 L1225.54,607.27 L1224.35,607.52 L1223.16,607.77 L1222.02,607.98 L1220.89,608.13 L1219.73,608.24 L1218.55,608.33 L1217.37,608.38 L1216.2,608.41 L1215.04,608.42 L1213.92,608.41 L1212.84,608.39 L1211.81,608.35 L1210.85,608.31 L1210.05,608.27 L1209.48,608.21 L1209.04,608.15 L1208.61,608.08 L1208.17,608 L1207.68,607.92 L1207.12,607.82 L1206.48,607.7 L1205.73,607.56 L1204.87,607.39 L1203.88,607.21 L1202.78,607.03 L1201.63,606.86 L1200.6,606.73 L1199.68,606.62 L1198.82,606.53 L1198.02,606.45 L1197.28,606.38 L1196.58,606.31 L1195.92,606.24 L1195.28,606.17 L1194.64,606.09 L1194,606.01 L1193.33,605.91 L1192.63,605.79 L1191.91,605.66 L1191.12,605.5 L1190.25,605.31 L1189.31,605.09 L1188.29,604.84 L1187.21,604.57 L1186.07,604.28 L1184.86,603.98 L1183.6,603.66 L1182.28,603.34 L1180.91,603.02 L1179.52,602.7 L1178.13,602.41 L1176.73,602.12 L1175.28,601.82 L1173.81,601.52 L1172.31,601.22 L1170.8,600.92 L1169.29,600.63 L1167.8,600.34 L1166.33,600.06 L1164.89,599.78 L1163.5,599.52 L1162.14,599.26 L1160.79,599.02 L1159.47,598.79 L1158.22,598.58 L1157.02,598.39 L1155.88,598.2 L1154.78,598.03 L1153.74,597.87 L1152.73,597.7 L1151.77,597.53 L1150.82,597.36 L1149.9,597.18 L1148.98,596.99 L1148.06,596.78 L1147.11,596.54 L1146.13,596.28 L1145.11,595.99 L1144.06,595.68 L1142.97,595.37 L1141.84,595.05 L1140.68,594.72 L1139.48,594.41 L1138.23,594.11 L1136.95,593.83 L1135.69,593.59 L1134.54,593.41 L1133.45,593.25 L1132.34,593.11 L1131.2,592.97 L1130.03,592.85 L1128.83,592.73 L1127.58,592.63 L1126.29,592.54 L1124.96,592.47 L1123.58,592.41 L1122.16,592.36 L1120.65,592.32 L1119.04,592.31 L1117.35,592.33 L1115.62,592.37 L1113.86,592.43 L1112.1,592.5 L1110.35,592.59 L1108.65,592.67 L1107.03,592.76 L1105.52,592.83 L1104.15,592.9 L1102.96,592.96 L1101.97,593 L1101.11,593.02 L1100.36,593.04 L1099.72,593.05 L1099.19,593.05 L1098.74,593.05 L1098.38,593.04 L1098.07,593.04 L1097.81,593.03 L1097.59,593.02 L1097.39,593.01 L1097.2,593 L1097,593Z" fill="#4b4aa0" opacity="0.7" filter="url(#bl2)"/>
<path d="M1121.48,754.72 L1122.11,754.46 L1122.9,754.16 L1123.85,753.81 L1124.93,753.4 L1126.12,752.95 L1127.4,752.46 L1128.74,751.93 L1130.12,751.37 L1131.52,750.78 L1132.92,750.16 L1134.31,749.52 L1135.63,748.86 L1136.91,748.19 L1138.18,747.5 L1139.48,746.79 L1140.8,746.05 L1142.12,745.28 L1143.46,744.48 L1144.79,743.66 L1146.13,742.81 L1147.46,741.94 L1148.78,741.04 L1150.09,740.11 L1151.39,739.16 L1152.67,738.17 L1153.95,737.14 L1155.21,736.09 L1156.46,735.01 L1157.7,733.91 L1158.92,732.8 L1160.13,731.68 L1161.31,730.56 L1162.47,729.45 L1163.61,728.35 L1164.72,727.27 L1165.82,726.19 L1166.92,725.09 L1168.01,723.96 L1169.06,722.83 L1170.08,721.71 L1171.08,720.6 L1172.05,719.51 L1172.99,718.45 L1173.91,717.42 L1174.81,716.43 L1175.69,715.49 L1176.54,714.61 L1177.38,713.79 L1178.21,713.01 L1179.03,712.27 L1179.86,711.56 L1180.68,710.88 L1181.52,710.2 L1182.35,709.54 L1183.2,708.87 L1184.05,708.2 L1184.92,707.5 L1185.79,706.79 L1186.67,706.05 L1187.54,705.27 L1188.4,704.48 L1189.24,703.69 L1190.06,702.89 L1190.85,702.1 L1191.63,701.32 L1192.39,700.56 L1193.13,699.81 L1193.84,699.09 L1194.54,698.4 L1195.22,697.75 L1195.87,697.13 L1196.5,696.56 L1197.12,696.03 L1197.73,695.52 L1198.32,695.04 L1198.9,694.57 L1199.49,694.12 L1200.08,693.66 L1200.69,693.2 L1201.32,692.73 L1201.97,692.24 L1202.65,691.73 L1203.36,691.18 L1204.1,690.6 L1204.86,689.99 L1205.62,689.36 L1206.39,688.73 L1207.15,688.09 L1207.91,687.46 L1208.67,686.83 L1209.42,686.22 L1210.16,685.63 L1210.88,685.07 L1211.59,684.54 L1212.28,684.05 L1212.97,683.58 L1213.7,683.1 L1214.43,682.62 L1215.13,682.17 L1215.8,681.75 L1216.44,681.37 L1217.07,681.01 L1217.69,680.68 L1218.31,680.38 L1218.93,680.11 L1219.57,679.85 L1220.23,679.61 L1220.97,679.37 L1221.82,679.11 L1222.73,678.86 L1223.64,678.63 L1224.56,678.42 L1225.48,678.24 L1226.39,678.08 L1227.3,677.95 L1228.19,677.83 L1229.06,677.74 L1229.9,677.67 L1230.72,677.62 L1231.52,677.58 L1232.35,677.55 L1233.3,677.54 L1234.34,677.54 L1235.46,677.56 L1236.64,677.6 L1237.84,677.66 L1239.07,677.74 L1240.29,677.84 L1241.49,677.95 L1242.66,678.08 L1243.77,678.21 L1244.78,678.35 L1245.64,678.49 L1246.41,678.63 L1247.14,678.8 L1247.86,678.97 L1248.56,679.17 L1249.26,679.38 L1249.97,679.61 L1250.69,679.87 L1251.44,680.14 L1252.22,680.43 L1253.04,680.73 L1253.88,681.03 L1254.68,681.32 L1255.44,681.59 L1256.16,681.85 L1256.87,682.11 L1257.55,682.37 L1258.21,682.63 L1258.87,682.9 L1259.5,683.18 L1260.14,683.47 L1260.76,683.77 L1261.39,684.09 L1262.01,684.43 L1262.64,684.8 L1263.33,685.25 L1264.08,685.75 L1264.87,686.3 L1265.67,686.88 L1266.46,687.47 L1267.24,688.04 L1267.98,688.6 L1268.67,689.13 L1269.3,689.6 L1269.86,690.02 L1270.31,690.35 L1277.69,679.65 L1277.28,679.38 L1276.77,679.04 L1276.13,678.62 L1275.4,678.14 L1274.6,677.6 L1273.74,677.03 L1272.84,676.44 L1271.91,675.84 L1270.97,675.25 L1270.03,674.66 L1269.1,674.09 L1268.19,673.57 L1267.34,673.1 L1266.52,672.65 L1265.71,672.23 L1264.91,671.82 L1264.12,671.43 L1263.34,671.06 L1262.56,670.69 L1261.79,670.34 L1261.02,669.99 L1260.25,669.64 L1259.48,669.3 L1258.72,668.97 L1258,668.64 L1257.28,668.3 L1256.53,667.95 L1255.75,667.58 L1254.92,667.21 L1254.04,666.82 L1253.11,666.43 L1252.13,666.04 L1251.08,665.66 L1249.98,665.3 L1248.81,664.96 L1247.62,664.65 L1246.43,664.35 L1245.21,664.05 L1243.9,663.74 L1242.54,663.44 L1241.13,663.14 L1239.67,662.86 L1238.18,662.62 L1236.66,662.41 L1235.13,662.25 L1233.59,662.16 L1232.03,662.14 L1230.48,662.22 L1228.97,662.39 L1227.51,662.65 L1226.11,662.99 L1224.75,663.39 L1223.46,663.84 L1222.22,664.32 L1221.03,664.83 L1219.9,665.36 L1218.82,665.89 L1217.79,666.41 L1216.8,666.92 L1215.83,667.43 L1214.82,667.96 L1213.83,668.53 L1212.89,669.1 L1212,669.69 L1211.16,670.28 L1210.35,670.88 L1209.58,671.47 L1208.85,672.06 L1208.13,672.65 L1207.44,673.23 L1206.75,673.81 L1206.03,674.42 L1205.24,675.08 L1204.44,675.79 L1203.65,676.51 L1202.87,677.24 L1202.11,677.96 L1201.37,678.68 L1200.64,679.39 L1199.93,680.09 L1199.24,680.76 L1198.57,681.41 L1197.92,682.02 L1197.3,682.6 L1196.7,683.14 L1196.1,683.66 L1195.51,684.17 L1194.92,684.67 L1194.32,685.17 L1193.72,685.67 L1193.09,686.2 L1192.45,686.74 L1191.8,687.31 L1191.12,687.91 L1190.42,688.55 L1189.7,689.24 L1188.95,689.97 L1188.22,690.72 L1187.49,691.49 L1186.76,692.27 L1186.04,693.05 L1185.33,693.83 L1184.61,694.61 L1183.9,695.39 L1183.18,696.15 L1182.47,696.9 L1181.76,697.63 L1181.06,698.33 L1180.35,699 L1179.63,699.67 L1178.88,700.33 L1178.1,701 L1177.3,701.69 L1176.47,702.4 L1175.62,703.13 L1174.74,703.9 L1173.84,704.71 L1172.92,705.56 L1171.98,706.46 L1171.02,707.41 L1170.07,708.42 L1169.12,709.46 L1168.19,710.53 L1167.27,711.61 L1166.35,712.7 L1165.43,713.8 L1164.51,714.9 L1163.58,716 L1162.65,717.08 L1161.71,718.14 L1160.76,719.18 L1159.78,720.21 L1158.75,721.27 L1157.68,722.35 L1156.59,723.44 L1155.48,724.53 L1154.37,725.62 L1153.24,726.7 L1152.1,727.77 L1150.96,728.81 L1149.82,729.82 L1148.68,730.8 L1147.54,731.74 L1146.41,732.64 L1145.27,733.51 L1144.09,734.36 L1142.9,735.2 L1141.69,736.02 L1140.46,736.82 L1139.23,737.59 L1138,738.35 L1136.77,739.08 L1135.54,739.79 L1134.33,740.47 L1133.13,741.13 L1131.97,741.74 L1130.82,742.33 L1129.61,742.9 L1128.35,743.45 L1127.07,744 L1125.78,744.52 L1124.51,745.01 L1123.29,745.48 L1122.13,745.92 L1121.05,746.32 L1120.08,746.68 L1119.21,747.01 L1118.52,747.28Z" fill="#4b4aa0" opacity="0.5" filter="url(#bl2)"/>
<path d="M1097,600 L1097.2,600 L1097.39,599.99 L1097.59,599.98 L1097.81,599.97 L1098.07,599.96 L1098.38,599.96 L1098.74,599.95 L1099.19,599.95 L1099.72,599.95 L1100.36,599.96 L1101.11,599.98 L1102.01,600 L1103.1,600.03 L1104.37,600.04 L1105.77,600.06 L1107.29,600.08 L1108.88,600.11 L1110.53,600.14 L1112.2,600.18 L1113.86,600.24 L1115.47,600.32 L1117,600.42 L1118.42,600.54 L1119.68,600.69 L1120.85,600.87 L1121.97,601.07 L1123.03,601.31 L1124.06,601.56 L1125.06,601.84 L1126.05,602.12 L1127.03,602.42 L1128.01,602.72 L1129.01,603.03 L1130.04,603.33 L1131.1,603.63 L1132.17,603.92 L1133.19,604.19 L1134.21,604.45 L1135.24,604.73 L1136.3,605.02 L1137.38,605.31 L1138.48,605.6 L1139.59,605.9 L1140.73,606.19 L1141.89,606.48 L1143.07,606.77 L1144.26,607.05 L1145.47,607.32 L1146.67,607.56 L1147.83,607.78 L1148.96,607.97 L1150.08,608.15 L1151.17,608.32 L1152.25,608.48 L1153.33,608.64 L1154.4,608.8 L1155.48,608.98 L1156.57,609.17 L1157.69,609.39 L1158.85,609.64 L1160.09,609.91 L1161.4,610.22 L1162.76,610.55 L1164.16,610.89 L1165.58,611.25 L1167.01,611.62 L1168.44,611.99 L1169.85,612.37 L1171.24,612.75 L1172.6,613.12 L1173.9,613.5 L1175.12,613.85 L1176.27,614.2 L1177.39,614.57 L1178.5,614.95 L1179.6,615.35 L1180.7,615.75 L1181.8,616.15 L1182.89,616.55 L1183.99,616.94 L1185.1,617.32 L1186.21,617.69 L1187.34,618.02 L1188.46,618.33 L1189.56,618.59 L1190.59,618.82 L1191.59,619.01 L1192.54,619.18 L1193.45,619.32 L1194.33,619.44 L1195.17,619.54 L1195.98,619.63 L1196.77,619.72 L1197.54,619.81 L1198.3,619.9 L1199.04,619.98 L1199.72,620.09 L1200.39,620.21 L1201.13,620.36 L1201.93,620.53 L1202.8,620.71 L1203.76,620.89 L1204.8,621.06 L1205.92,621.19 L1207.12,621.28 L1208.39,621.31 L1209.73,621.27 L1211.08,621.14 L1212.39,620.94 L1213.69,620.69 L1215.03,620.39 L1216.41,620.04 L1217.8,619.65 L1219.22,619.23 L1220.64,618.76 L1222.08,618.27 L1223.51,617.75 L1224.94,617.2 L1226.35,616.64 L1227.72,616.06 L1229.02,615.49 L1230.27,614.92 L1231.52,614.34 L1232.78,613.72 L1234.05,613.08 L1235.33,612.4 L1236.64,611.67 L1237.97,610.9 L1239.34,610.08 L1240.76,609.2 L1242.23,608.25 L1243.77,607.23 L1245.39,606.12 L1247.08,604.94 L1248.81,603.69 L1250.6,602.39 L1252.42,601.03 L1254.26,599.64 L1256.13,598.22 L1257.99,596.78 L1259.85,595.33 L1261.69,593.87 L1263.51,592.43 L1265.28,591 L1267.08,589.54 L1268.94,588.01 L1270.83,586.43 L1272.74,584.82 L1274.65,583.2 L1276.54,581.57 L1278.39,579.96 L1280.2,578.39 L1281.93,576.85 L1283.58,575.38 L1285.12,573.98 L1286.55,572.66 L1287.85,571.44 L1289.04,570.3 L1290.13,569.22 L1291.13,568.21 L1292.06,567.24 L1292.93,566.3 L1293.75,565.4 L1294.53,564.52 L1295.28,563.65 L1296.02,562.79 L1296.77,561.91 L1297.56,560.98 L1298.4,559.97 L1299.23,558.92 L1300.05,557.87 L1300.85,556.81 L1301.62,555.76 L1302.37,554.74 L1303.1,553.73 L1303.81,552.76 L1304.48,551.84 L1305.12,550.97 L1305.73,550.16 L1306.31,549.42 L1306.88,548.71 L1307.46,548 L1308.03,547.32 L1308.6,546.65 L1309.15,546.01 L1309.68,545.41 L1310.18,544.83 L1310.66,544.3 L1311.1,543.81 L1311.5,543.36 L1311.86,542.95 L1312.15,542.61 L1303.85,535.39 L1303.58,535.7 L1303.26,536.06 L1302.87,536.5 L1302.43,537 L1301.94,537.55 L1301.41,538.16 L1300.84,538.81 L1300.25,539.5 L1299.63,540.22 L1298.99,540.98 L1298.35,541.77 L1297.69,542.58 L1297.02,543.44 L1296.33,544.35 L1295.62,545.28 L1294.91,546.24 L1294.19,547.21 L1293.46,548.2 L1292.73,549.2 L1291.99,550.19 L1291.25,551.17 L1290.51,552.14 L1289.78,553.08 L1289.04,554.02 L1288.29,554.96 L1287.57,555.88 L1286.88,556.77 L1286.22,557.63 L1285.55,558.47 L1284.87,559.32 L1284.16,560.19 L1283.39,561.09 L1282.56,562.04 L1281.64,563.06 L1280.61,564.15 L1279.45,565.34 L1278.16,566.63 L1276.72,568.02 L1275.18,569.5 L1273.54,571.05 L1271.82,572.65 L1270.05,574.29 L1268.24,575.95 L1266.42,577.61 L1264.59,579.26 L1262.79,580.88 L1261.03,582.47 L1259.32,584 L1257.62,585.53 L1255.91,587.1 L1254.19,588.68 L1252.48,590.27 L1250.78,591.84 L1249.09,593.37 L1247.42,594.86 L1245.77,596.28 L1244.16,597.62 L1242.6,598.86 L1241.09,599.98 L1239.63,600.97 L1238.23,601.84 L1236.89,602.59 L1235.59,603.24 L1234.34,603.81 L1233.12,604.29 L1231.93,604.72 L1230.75,605.08 L1229.58,605.41 L1228.39,605.71 L1227.18,605.99 L1225.94,606.27 L1224.68,606.54 L1223.43,606.77 L1222.18,606.96 L1220.91,607.1 L1219.63,607.21 L1218.35,607.29 L1217.08,607.34 L1215.83,607.36 L1214.62,607.36 L1213.44,607.35 L1212.32,607.33 L1211.26,607.3 L1210.32,607.26 L1209.54,607.21 L1208.87,607.14 L1208.22,607.06 L1207.59,606.97 L1206.93,606.87 L1206.25,606.75 L1205.53,606.61 L1204.75,606.46 L1203.9,606.3 L1202.98,606.13 L1201.99,605.96 L1200.96,605.82 L1200,605.69 L1199.12,605.59 L1198.29,605.51 L1197.49,605.43 L1196.73,605.35 L1196,605.28 L1195.28,605.2 L1194.56,605.12 L1193.84,605.03 L1193.11,604.93 L1192.34,604.81 L1191.54,604.67 L1190.7,604.51 L1189.82,604.33 L1188.88,604.11 L1187.88,603.88 L1186.84,603.62 L1185.74,603.35 L1184.6,603.06 L1183.41,602.76 L1182.18,602.46 L1180.91,602.15 L1179.6,601.84 L1178.28,601.55 L1176.93,601.26 L1175.55,600.97 L1174.12,600.68 L1172.66,600.39 L1171.18,600.09 L1169.69,599.8 L1168.2,599.51 L1166.72,599.22 L1165.27,598.94 L1163.85,598.67 L1162.48,598.41 L1161.15,598.16 L1159.86,597.93 L1158.6,597.71 L1157.39,597.51 L1156.23,597.32 L1155.11,597.15 L1154.02,596.97 L1152.97,596.81 L1151.94,596.64 L1150.93,596.46 L1149.93,596.28 L1148.93,596.09 L1147.93,595.88 L1146.92,595.65 L1145.9,595.39 L1144.87,595.11 L1143.81,594.82 L1142.73,594.5 L1141.64,594.19 L1140.52,593.87 L1139.38,593.55 L1138.22,593.25 L1137.04,592.96 L1135.83,592.7 L1134.63,592.48 L1133.5,592.3 L1132.41,592.14 L1131.32,592 L1130.21,591.87 L1129.09,591.76 L1127.94,591.65 L1126.77,591.56 L1125.56,591.49 L1124.32,591.43 L1123.04,591.38 L1121.71,591.34 L1120.32,591.31 L1118.82,591.3 L1117.23,591.32 L1115.57,591.37 L1113.86,591.43 L1112.14,591.5 L1110.42,591.58 L1108.74,591.67 L1107.13,591.75 L1105.61,591.83 L1104.23,591.9 L1103.01,591.96 L1101.99,592 L1101.11,592.02 L1100.36,592.04 L1099.72,592.05 L1099.19,592.05 L1098.74,592.05 L1098.38,592.04 L1098.07,592.04 L1097.81,592.03 L1097.59,592.02 L1097.39,592.01 L1097.2,592 L1097,592Z" fill="#f5ea0c" filter="url(#bl)"/>
<path d="M1120.37,751.93 L1121.02,751.67 L1121.84,751.36 L1122.8,751 L1123.88,750.59 L1125.06,750.15 L1126.32,749.66 L1127.63,749.15 L1128.97,748.6 L1130.33,748.03 L1131.68,747.43 L1133,746.82 L1134.26,746.19 L1135.49,745.54 L1136.74,744.87 L1138.01,744.17 L1139.29,743.45 L1140.59,742.7 L1141.89,741.92 L1143.19,741.12 L1144.49,740.3 L1145.78,739.45 L1147.06,738.58 L1148.32,737.69 L1149.57,736.77 L1150.8,735.82 L1152.03,734.84 L1153.26,733.81 L1154.47,732.76 L1155.68,731.69 L1156.88,730.6 L1158.06,729.51 L1159.22,728.4 L1160.37,727.31 L1161.5,726.22 L1162.6,725.14 L1163.69,724.08 L1164.76,723.01 L1165.8,721.92 L1166.83,720.83 L1167.83,719.73 L1168.81,718.63 L1169.77,717.55 L1170.72,716.49 L1171.65,715.44 L1172.57,714.44 L1173.48,713.46 L1174.37,712.54 L1175.26,711.66 L1176.14,710.84 L1177.01,710.05 L1177.88,709.31 L1178.74,708.59 L1179.59,707.9 L1180.45,707.22 L1181.29,706.55 L1182.14,705.88 L1182.98,705.21 L1183.82,704.52 L1184.66,703.81 L1185.49,703.08 L1186.32,702.33 L1187.12,701.56 L1187.91,700.79 L1188.69,700.02 L1189.46,699.25 L1190.21,698.49 L1190.96,697.74 L1191.68,697.01 L1192.4,696.3 L1193.1,695.62 L1193.79,694.98 L1194.46,694.36 L1195.12,693.79 L1195.76,693.25 L1196.38,692.74 L1197,692.26 L1197.6,691.78 L1198.21,691.32 L1198.83,690.85 L1199.46,690.38 L1200.1,689.9 L1200.76,689.4 L1201.44,688.87 L1202.16,688.32 L1202.89,687.73 L1203.63,687.12 L1204.38,686.49 L1205.14,685.86 L1205.9,685.23 L1206.67,684.6 L1207.43,683.97 L1208.19,683.36 L1208.94,682.78 L1209.69,682.22 L1210.43,681.69 L1211.16,681.19 L1211.91,680.7 L1212.64,680.22 L1213.35,679.75 L1214.05,679.32 L1214.74,678.9 L1215.42,678.51 L1216.1,678.14 L1216.78,677.8 L1217.49,677.48 L1218.21,677.17 L1218.97,676.89 L1219.78,676.61 L1220.68,676.34 L1221.62,676.07 L1222.58,675.82 L1223.55,675.6 L1224.54,675.39 L1225.52,675.21 L1226.51,675.05 L1227.49,674.92 L1228.47,674.8 L1229.43,674.71 L1230.38,674.64 L1231.32,674.59 L1232.29,674.56 L1233.35,674.54 L1234.5,674.54 L1235.7,674.57 L1236.94,674.62 L1238.21,674.69 L1239.49,674.77 L1240.75,674.87 L1241.99,674.99 L1243.19,675.12 L1244.34,675.27 L1245.39,675.42 L1246.32,675.57 L1247.18,675.74 L1248.01,675.92 L1248.8,676.12 L1249.57,676.34 L1250.33,676.58 L1251.08,676.83 L1251.83,677.09 L1252.6,677.37 L1253.38,677.66 L1254.18,677.95 L1255,678.25 L1255.79,678.53 L1256.56,678.8 L1257.3,679.07 L1258.02,679.34 L1258.73,679.61 L1259.43,679.89 L1260.12,680.17 L1260.79,680.47 L1261.47,680.78 L1262.14,681.11 L1262.82,681.46 L1263.49,681.82 L1264.19,682.24 L1264.93,682.71 L1265.73,683.25 L1266.54,683.82 L1267.37,684.41 L1268.18,685.01 L1268.96,685.59 L1269.71,686.16 L1270.4,686.68 L1271.03,687.15 L1271.58,687.56 L1272.02,687.88 L1275.98,682.12 L1275.56,681.84 L1275.03,681.49 L1274.39,681.07 L1273.67,680.58 L1272.87,680.06 L1272.02,679.49 L1271.14,678.92 L1270.24,678.33 L1269.33,677.75 L1268.43,677.19 L1267.55,676.66 L1266.71,676.18 L1265.91,675.73 L1265.14,675.32 L1264.38,674.92 L1263.62,674.53 L1262.87,674.16 L1262.12,673.8 L1261.38,673.45 L1260.63,673.1 L1259.88,672.76 L1259.13,672.43 L1258.36,672.09 L1257.6,671.75 L1256.86,671.42 L1256.12,671.07 L1255.37,670.72 L1254.6,670.36 L1253.81,669.99 L1252.97,669.62 L1252.1,669.25 L1251.19,668.89 L1250.22,668.54 L1249.2,668.2 L1248.13,667.88 L1247.01,667.58 L1245.87,667.3 L1244.67,667 L1243.4,666.7 L1242.08,666.4 L1240.71,666.11 L1239.3,665.84 L1237.87,665.6 L1236.43,665.4 L1234.98,665.25 L1233.53,665.16 L1232.09,665.14 L1230.68,665.21 L1229.31,665.37 L1227.98,665.62 L1226.69,665.93 L1225.45,666.31 L1224.25,666.73 L1223.09,667.19 L1221.98,667.68 L1220.91,668.18 L1219.88,668.69 L1218.89,669.2 L1217.95,669.7 L1217.02,670.19 L1216.09,670.68 L1215.19,671.2 L1214.34,671.73 L1213.53,672.27 L1212.75,672.82 L1212.01,673.38 L1211.29,673.93 L1210.59,674.5 L1209.91,675.07 L1209.23,675.64 L1208.55,676.21 L1207.84,676.81 L1207.09,677.44 L1206.34,678.12 L1205.59,678.8 L1204.84,679.5 L1204.1,680.21 L1203.37,680.92 L1202.65,681.62 L1201.94,682.32 L1201.24,682.99 L1200.56,683.65 L1199.89,684.28 L1199.24,684.88 L1198.61,685.45 L1197.99,685.99 L1197.39,686.51 L1196.79,687.02 L1196.19,687.52 L1195.59,688.02 L1194.98,688.53 L1194.36,689.05 L1193.73,689.6 L1193.09,690.18 L1192.42,690.78 L1191.74,691.44 L1191.04,692.13 L1190.34,692.85 L1189.63,693.59 L1188.92,694.35 L1188.21,695.12 L1187.5,695.9 L1186.78,696.69 L1186.06,697.47 L1185.33,698.25 L1184.59,699.02 L1183.85,699.78 L1183.11,700.52 L1182.35,701.24 L1181.59,701.94 L1180.81,702.63 L1180.02,703.32 L1179.2,704.01 L1178.38,704.71 L1177.54,705.44 L1176.68,706.18 L1175.82,706.96 L1174.94,707.77 L1174.04,708.63 L1173.14,709.54 L1172.23,710.49 L1171.33,711.49 L1170.43,712.53 L1169.53,713.58 L1168.62,714.67 L1167.7,715.76 L1166.78,716.87 L1165.84,717.98 L1164.88,719.08 L1163.92,720.18 L1162.93,721.26 L1161.91,722.32 L1160.86,723.39 L1159.78,724.48 L1158.69,725.58 L1157.57,726.69 L1156.43,727.8 L1155.29,728.9 L1154.13,729.98 L1152.96,731.05 L1151.78,732.1 L1150.6,733.11 L1149.42,734.09 L1148.23,735.03 L1147.04,735.93 L1145.82,736.82 L1144.58,737.68 L1143.33,738.53 L1142.07,739.35 L1140.8,740.15 L1139.53,740.93 L1138.27,741.68 L1137.01,742.4 L1135.77,743.1 L1134.54,743.77 L1133.34,744.41 L1132.13,745.03 L1130.85,745.63 L1129.54,746.21 L1128.21,746.77 L1126.89,747.3 L1125.6,747.81 L1124.35,748.29 L1123.18,748.73 L1122.1,749.13 L1121.13,749.49 L1120.3,749.8 L1119.63,750.07Z" fill="url(#fd3)" filter="url(#bl)"/>
<g fill="#f5ea0c" filter="url(#bl)"><circle cx="1120" cy="751" r="1.12" fill-opacity="0.3"/><circle cx="1125.24" cy="749.01" r="1.11" fill-opacity="0.32"/><circle cx="1130.42" cy="746.91" r="1.11" fill-opacity="0.36"/><circle cx="1135.44" cy="744.43" r="1.13" fill-opacity="0.39"/><circle cx="1140.31" cy="741.66" r="1.16" fill-opacity="0.44"/><circle cx="1145.04" cy="738.66" r="1.2" fill-opacity="0.48"/><circle cx="1149.57" cy="735.38" r="1.24" fill-opacity="0.52"/><circle cx="1153.86" cy="731.78" r="1.28" fill-opacity="0.56"/><circle cx="1157.96" cy="727.97" r="1.33" fill-opacity="0.6"/><circle cx="1161.96" cy="724.04" r="1.39" fill-opacity="0.65"/><circle cx="1165.82" cy="719.99" r="1.46" fill-opacity="0.69"/><circle cx="1169.5" cy="715.77" r="1.55" fill-opacity="0.73"/><circle cx="1173.23" cy="711.59" r="1.65" fill-opacity="0.77"/><circle cx="1177.3" cy="707.74" r="1.76" fill-opacity="0.82"/><circle cx="1181.6" cy="704.16" r="1.88" fill-opacity="0.87"/><circle cx="1185.75" cy="700.4" r="2" fill-opacity="0.92"/><circle cx="1189.64" cy="696.37" r="2.13" fill-opacity="0.97"/><circle cx="1193.61" cy="692.43" r="2.26" fill-opacity="1"/></g>
</g>
<g clip-path="url(#ins3)">
<path d="M1254.97,678.24 L1255.47,678.45 L1256.11,678.66 L1256.8,678.86 L1257.53,679.07 L1258.29,679.3 L1259.07,679.56 L1259.84,679.86 L1260.58,680.21 L1261.26,680.62 L1261.84,681.07 L1262.28,681.57 L1262.55,682.08 L1262.7,682.69 L1262.78,683.45 L1262.81,684.33 L1262.79,685.3 L1262.75,686.35 L1262.7,687.47 L1262.68,688.63 L1262.7,689.83 L1262.81,691.06 L1263.04,692.31 L1263.44,693.58 L1263.95,694.74 L1264.43,695.65 L1264.86,696.39 L1265.35,697.08 L1265.87,697.72 L1266.44,698.33 L1267.06,698.9 L1267.7,699.45 L1268.38,699.98 L1269.08,700.5 L1269.79,701.01 L1270.53,701.53 L1271.3,702.08 L1272.12,702.66 L1272.98,703.22 L1273.86,703.75 L1274.74,704.25 L1275.62,704.73 L1276.51,705.2 L1277.4,705.65 L1278.3,706.09 L1279.19,706.53 L1280.08,706.97 L1280.96,707.42 L1281.84,707.87 L1282.72,708.34 L1283.62,708.83 L1284.56,709.35 L1285.52,709.88 L1286.5,710.43 L1287.52,711 L1288.56,711.57 L1289.62,712.14 L1290.71,712.72 L1291.82,713.29 L1292.96,713.86 L1294.1,714.41 L1295.22,714.92 L1296.36,715.43 L1297.54,715.95 L1298.74,716.47 L1299.97,716.99 L1301.21,717.5 L1302.47,718.01 L1303.74,718.51 L1305.01,718.99 L1306.28,719.46 L1307.55,719.9 L1308.78,720.3 L1309.92,720.67 L1311.04,721.03 L1312.18,721.4 L1313.34,721.77 L1314.53,722.14 L1315.74,722.48 L1316.98,722.8 L1318.26,723.07 L1319.56,723.29 L1320.91,723.45 L1322.28,723.52 L1323.71,723.5 L1325.19,723.35 L1326.63,723.1 L1328.01,722.75 L1329.33,722.35 L1330.58,721.9 L1331.78,721.43 L1332.92,720.95 L1334,720.47 L1335,720.01 L1335.92,719.58 L1336.75,719.19 L1337.51,718.84 L1338.29,718.49 L1339.08,718.12 L1339.85,717.74 L1340.57,717.37 L1341.27,716.99 L1341.94,716.62 L1342.58,716.25 L1343.19,715.88 L1343.77,715.51 L1344.33,715.15 L1344.86,714.8 L1345.39,714.44 L1345.91,714.06 L1346.4,713.67 L1346.85,713.28 L1347.25,712.89 L1347.61,712.52 L1347.94,712.16 L1348.22,711.82 L1348.47,711.51 L1348.68,711.24 L1348.85,711.01 L1348.98,710.82 L1349.1,710.67 L1346.9,707.33 L1346.66,707.42 L1346.37,707.52 L1346.07,707.63 L1345.76,707.74 L1345.42,707.85 L1345.06,707.95 L1344.69,708.06 L1344.3,708.16 L1343.9,708.27 L1343.49,708.37 L1343.06,708.46 L1342.61,708.56 L1342.11,708.67 L1341.57,708.79 L1341,708.91 L1340.4,709.04 L1339.77,709.17 L1339.11,709.3 L1338.42,709.45 L1337.71,709.6 L1336.96,709.77 L1336.18,709.94 L1335.38,710.14 L1334.49,710.36 L1333.5,710.65 L1332.46,711 L1331.42,711.38 L1330.4,711.76 L1329.39,712.14 L1328.39,712.49 L1327.42,712.81 L1326.5,713.09 L1325.62,713.3 L1324.83,713.44 L1324.12,713.51 L1323.49,713.5 L1322.84,713.44 L1322.13,713.32 L1321.38,713.16 L1320.6,712.95 L1319.79,712.69 L1318.93,712.38 L1318.05,712.02 L1317.13,711.63 L1316.19,711.19 L1315.21,710.71 L1314.21,710.21 L1313.22,709.7 L1312.3,709.18 L1311.38,708.63 L1310.45,708.02 L1309.51,707.38 L1308.55,706.7 L1307.59,706 L1306.62,705.27 L1305.66,704.53 L1304.7,703.79 L1303.75,703.04 L1302.81,702.3 L1301.9,701.59 L1301.05,700.92 L1300.23,700.24 L1299.42,699.55 L1298.6,698.86 L1297.79,698.15 L1296.98,697.44 L1296.18,696.73 L1295.37,696.01 L1294.57,695.29 L1293.77,694.56 L1292.96,693.84 L1292.16,693.13 L1291.38,692.42 L1290.62,691.73 L1289.89,691.05 L1289.19,690.39 L1288.51,689.74 L1287.86,689.11 L1287.25,688.51 L1286.67,687.93 L1286.13,687.38 L1285.62,686.86 L1285.15,686.38 L1284.7,685.92 L1284.27,685.45 L1283.88,685 L1283.54,684.57 L1283.24,684.17 L1282.96,683.78 L1282.68,683.41 L1282.38,683.05 L1282.04,682.69 L1281.64,682.32 L1281.17,681.94 L1280.61,681.55 L1280.05,681.26 L1279.49,681.1 L1278.81,680.92 L1277.95,680.63 L1276.97,680.25 L1275.89,679.79 L1274.75,679.28 L1273.56,678.74 L1272.36,678.18 L1271.15,677.61 L1269.96,677.04 L1268.79,676.48 L1267.65,675.92 L1266.53,675.39 L1265.44,674.92 L1264.4,674.49 L1263.38,674.08 L1262.4,673.69 L1261.47,673.32 L1260.59,672.96 L1259.78,672.63 L1259.05,672.34 L1258.45,672.09 L1257.99,671.91 L1257.63,671.76Z" fill="#4b4aa0" opacity="0.6" filter="url(#bl2)"/>
<path d="M1254.97,678.24 L1255.47,678.45 L1256.11,678.66 L1256.8,678.86 L1257.53,679.07 L1258.29,679.3 L1259.07,679.56 L1259.84,679.86 L1260.58,680.21 L1261.26,680.62 L1261.84,681.07 L1262.28,681.57 L1262.55,682.08 L1262.7,682.69 L1262.78,683.45 L1262.81,684.33 L1262.79,685.3 L1262.75,686.35 L1262.7,687.47 L1262.68,688.63 L1262.7,689.83 L1262.81,691.06 L1263.04,692.31 L1263.44,693.58 L1263.95,694.74 L1264.43,695.65 L1264.86,696.39 L1265.35,697.08 L1265.87,697.72 L1266.44,698.33 L1267.06,698.9 L1267.7,699.45 L1268.38,699.98 L1269.08,700.5 L1269.79,701.01 L1270.53,701.53 L1271.3,702.08 L1272.12,702.66 L1272.98,703.22 L1273.86,703.75 L1274.74,704.25 L1275.62,704.73 L1276.51,705.2 L1277.4,705.65 L1278.3,706.09 L1279.19,706.53 L1280.08,706.97 L1280.96,707.42 L1281.84,707.87 L1282.72,708.34 L1283.62,708.83 L1284.56,709.35 L1285.52,709.88 L1286.5,710.43 L1287.52,711 L1288.56,711.57 L1289.62,712.14 L1290.71,712.72 L1291.82,713.29 L1292.96,713.86 L1294.1,714.41 L1295.22,714.92 L1296.36,715.43 L1297.54,715.95 L1298.74,716.47 L1299.97,716.99 L1301.21,717.5 L1302.47,718.01 L1303.74,718.51 L1305.01,718.99 L1306.28,719.46 L1307.55,719.9 L1308.78,720.3 L1309.92,720.67 L1311.04,721.03 L1312.18,721.4 L1313.34,721.77 L1314.53,722.14 L1315.74,722.48 L1316.98,722.8 L1318.26,723.07 L1319.56,723.29 L1320.91,723.45 L1322.28,723.52 L1323.71,723.5 L1325.19,723.35 L1326.63,723.1 L1328.01,722.75 L1329.33,722.35 L1330.58,721.9 L1331.78,721.43 L1332.92,720.95 L1334,720.47 L1335,720.01 L1335.92,719.58 L1336.75,719.19 L1337.51,718.84 L1338.29,718.49 L1339.08,718.12 L1339.85,717.74 L1340.57,717.37 L1341.27,716.99 L1341.94,716.62 L1342.58,716.25 L1343.19,715.88 L1343.77,715.51 L1344.33,715.15 L1344.86,714.8 L1345.39,714.44 L1345.91,714.06 L1346.4,713.67 L1346.85,713.28 L1347.25,712.89 L1347.61,712.52 L1347.94,712.16 L1348.22,711.82 L1348.47,711.51 L1348.68,711.24 L1348.85,711.01 L1348.98,710.82 L1349.1,710.67 L1346.9,707.33 L1346.66,707.42 L1346.37,707.52 L1346.07,707.63 L1345.76,707.74 L1345.42,707.85 L1345.06,707.95 L1344.69,708.06 L1344.3,708.16 L1343.9,708.27 L1343.49,708.37 L1343.06,708.46 L1342.61,708.56 L1342.11,708.67 L1341.57,708.79 L1341,708.91 L1340.4,709.04 L1339.77,709.17 L1339.11,709.3 L1338.42,709.45 L1337.71,709.6 L1336.96,709.77 L1336.18,709.94 L1335.38,710.14 L1334.49,710.36 L1333.5,710.65 L1332.46,711 L1331.42,711.38 L1330.4,711.76 L1329.39,712.14 L1328.39,712.49 L1327.42,712.81 L1326.5,713.09 L1325.62,713.3 L1324.83,713.44 L1324.12,713.51 L1323.49,713.5 L1322.84,713.44 L1322.13,713.32 L1321.38,713.16 L1320.6,712.95 L1319.79,712.69 L1318.93,712.38 L1318.05,712.02 L1317.13,711.63 L1316.19,711.19 L1315.21,710.71 L1314.21,710.21 L1313.22,709.7 L1312.3,709.18 L1311.38,708.63 L1310.45,708.02 L1309.51,707.38 L1308.55,706.7 L1307.59,706 L1306.62,705.27 L1305.66,704.53 L1304.7,703.79 L1303.75,703.04 L1302.81,702.3 L1301.9,701.59 L1301.05,700.92 L1300.23,700.24 L1299.42,699.55 L1298.6,698.86 L1297.79,698.15 L1296.98,697.44 L1296.18,696.73 L1295.37,696.01 L1294.57,695.29 L1293.77,694.56 L1292.96,693.84 L1292.16,693.13 L1291.38,692.42 L1290.62,691.73 L1289.89,691.05 L1289.19,690.39 L1288.51,689.74 L1287.86,689.11 L1287.25,688.51 L1286.67,687.93 L1286.13,687.38 L1285.62,686.86 L1285.15,686.38 L1284.7,685.92 L1284.27,685.45 L1283.88,685 L1283.54,684.57 L1283.24,684.17 L1282.96,683.78 L1282.68,683.41 L1282.38,683.05 L1282.04,682.69 L1281.64,682.32 L1281.17,681.94 L1280.61,681.55 L1280.05,681.26 L1279.49,681.1 L1278.81,680.92 L1277.95,680.63 L1276.97,680.25 L1275.89,679.79 L1274.75,679.28 L1273.56,678.74 L1272.36,678.18 L1271.15,677.61 L1269.96,677.04 L1268.79,676.48 L1267.65,675.92 L1266.53,675.39 L1265.44,674.92 L1264.4,674.49 L1263.38,674.08 L1262.4,673.69 L1261.47,673.32 L1260.59,672.96 L1259.78,672.63 L1259.05,672.34 L1258.45,672.09 L1257.99,671.91 L1257.63,671.76Z" fill="#f5ea0c" filter="url(#bl)"/>
<g fill="#f5ea0c" filter="url(#bl)"><circle cx="1342" cy="712" r="3.6" fill-opacity="1"/><circle cx="1346.33" cy="709.5" r="2.93" fill-opacity="0.86"/><circle cx="1350.61" cy="706.92" r="2.38" fill-opacity="0.72"/><circle cx="1354.78" cy="704.16" r="1.94" fill-opacity="0.57"/><circle cx="1358.71" cy="701.07" r="1.68" fill-opacity="0.43"/><circle cx="1362.33" cy="697.63" r="1.48" fill-opacity="0.29"/><circle cx="1365.12" cy="693.48" r="1.27" fill-opacity="0.15"/></g>
</g>
<polyline points="1272.3,806.7 1272.3,678.8 1386.4,678.8" fill="none" stroke="#000" stroke-width="2"/>
<rect x="1101.2" y="546.8" width="285.2" height="259.9" fill="none" stroke="#000" stroke-width="2"/>
<g stroke="#000" stroke-width="1.8"><line x1="1095.7" y1="546.8" x2="1101.2" y2="546.8"/><line x1="1098.2" y1="568.8" x2="1101.2" y2="568.8"/><line x1="1095.7" y1="590.8" x2="1101.2" y2="590.8"/><line x1="1098.2" y1="612.8" x2="1101.2" y2="612.8"/><line x1="1095.7" y1="634.8" x2="1101.2" y2="634.8"/><line x1="1098.2" y1="656.8" x2="1101.2" y2="656.8"/><line x1="1095.7" y1="678.8" x2="1101.2" y2="678.8"/><line x1="1098.2" y1="700.8" x2="1101.2" y2="700.8"/><line x1="1095.7" y1="722.8" x2="1101.2" y2="722.8"/><line x1="1098.2" y1="744.8" x2="1101.2" y2="744.8"/><line x1="1095.7" y1="766.8" x2="1101.2" y2="766.8"/><line x1="1098.2" y1="788.8" x2="1101.2" y2="788.8"/><line x1="1101.2" y1="806.7" x2="1101.2" y2="812.2"/><line x1="1129.72" y1="806.7" x2="1129.72" y2="809.7"/><line x1="1158.24" y1="806.7" x2="1158.24" y2="812.2"/><line x1="1186.76" y1="806.7" x2="1186.76" y2="809.7"/><line x1="1215.28" y1="806.7" x2="1215.28" y2="812.2"/><line x1="1243.8" y1="806.7" x2="1243.8" y2="809.7"/><line x1="1272.32" y1="806.7" x2="1272.32" y2="812.2"/><line x1="1300.84" y1="806.7" x2="1300.84" y2="809.7"/><line x1="1329.36" y1="806.7" x2="1329.36" y2="812.2"/><line x1="1357.88" y1="806.7" x2="1357.88" y2="809.7"/><line x1="1386.4" y1="806.7" x2="1386.4" y2="812.2"/></g>
<text x="1101.2" y="835" font-size="25.7" text-anchor="middle">0</text>
<text x="1158.24" y="835" font-size="25.7" text-anchor="middle">50</text>
<text x="1215.28" y="835" font-size="25.7" text-anchor="middle">100</text>
<text x="1272.32" y="835" font-size="25.7" text-anchor="middle">150</text>
<text x="1329.36" y="835" font-size="25.7" text-anchor="middle">200</text>
<text x="1386.4" y="835" font-size="25.7" text-anchor="middle">250</text>
<text x="1134.3" y="863.5" font-size="25.5">Magnetic field (mT)</text>
<text x="1205.1" y="538.2" font-size="29.5" class="s">Θ = 45°</text>
<text x="1352" y="801.9" font-size="27.5" fill="#fff">x6</text>
<g stroke="#fff" stroke-width="3"><line x1="1312.8" y1="720.7" x2="1312.8" y2="804"/><line x1="1292.7" y1="720.7" x2="1334.2" y2="720.7"/><line x1="1292.7" y1="804" x2="1334.2" y2="804"/></g>
<text x="1280.3" y="770.9" font-size="41" fill="#fff">f</text>
<text x="1291" y="783" font-size="24" fill="#fff">g</text>
<text x="75" y="774.2" font-size="25.7" text-anchor="end">1</text>
<text x="75" y="730.2" font-size="25.7" text-anchor="end">2</text>
<text x="75" y="686.2" font-size="25.7" text-anchor="end">3</text>
<text x="75" y="642.2" font-size="25.7" text-anchor="end">4</text>
<text x="75" y="598.2" font-size="25.7" text-anchor="end">5</text>
<text x="75" y="554.2" font-size="25.7" text-anchor="end">6</text>
<text transform="translate(43.8,773.8) rotate(-90)" font-size="25.3">Frequency (GHz)</text>
<rect x="1418.8" y="548.3" width="20" height="260" fill="url(#cb)" stroke="#333" stroke-width="0.8"/>
<text x="1448.8" y="561.1" font-size="21.6">0.00</text>
<text x="1448.8" y="644.4" font-size="21.6">-0.05</text>
<text x="1448.8" y="727.7" font-size="21.6">-0.10</text>
<text x="1448.8" y="811" font-size="21.6">-0.15</text>
<g stroke="#333" stroke-width="1"><line x1="1438.8" y1="553.4" x2="1443.8" y2="553.4"/><line x1="1438.8" y1="636.7" x2="1443.8" y2="636.7"/><line x1="1438.8" y1="720" x2="1443.8" y2="720"/><line x1="1438.8" y1="803.3" x2="1443.8" y2="803.3"/></g>
<text x="1361.5" y="534" font-size="16.8">Transmission (dB)</text>
</svg></body></html>
